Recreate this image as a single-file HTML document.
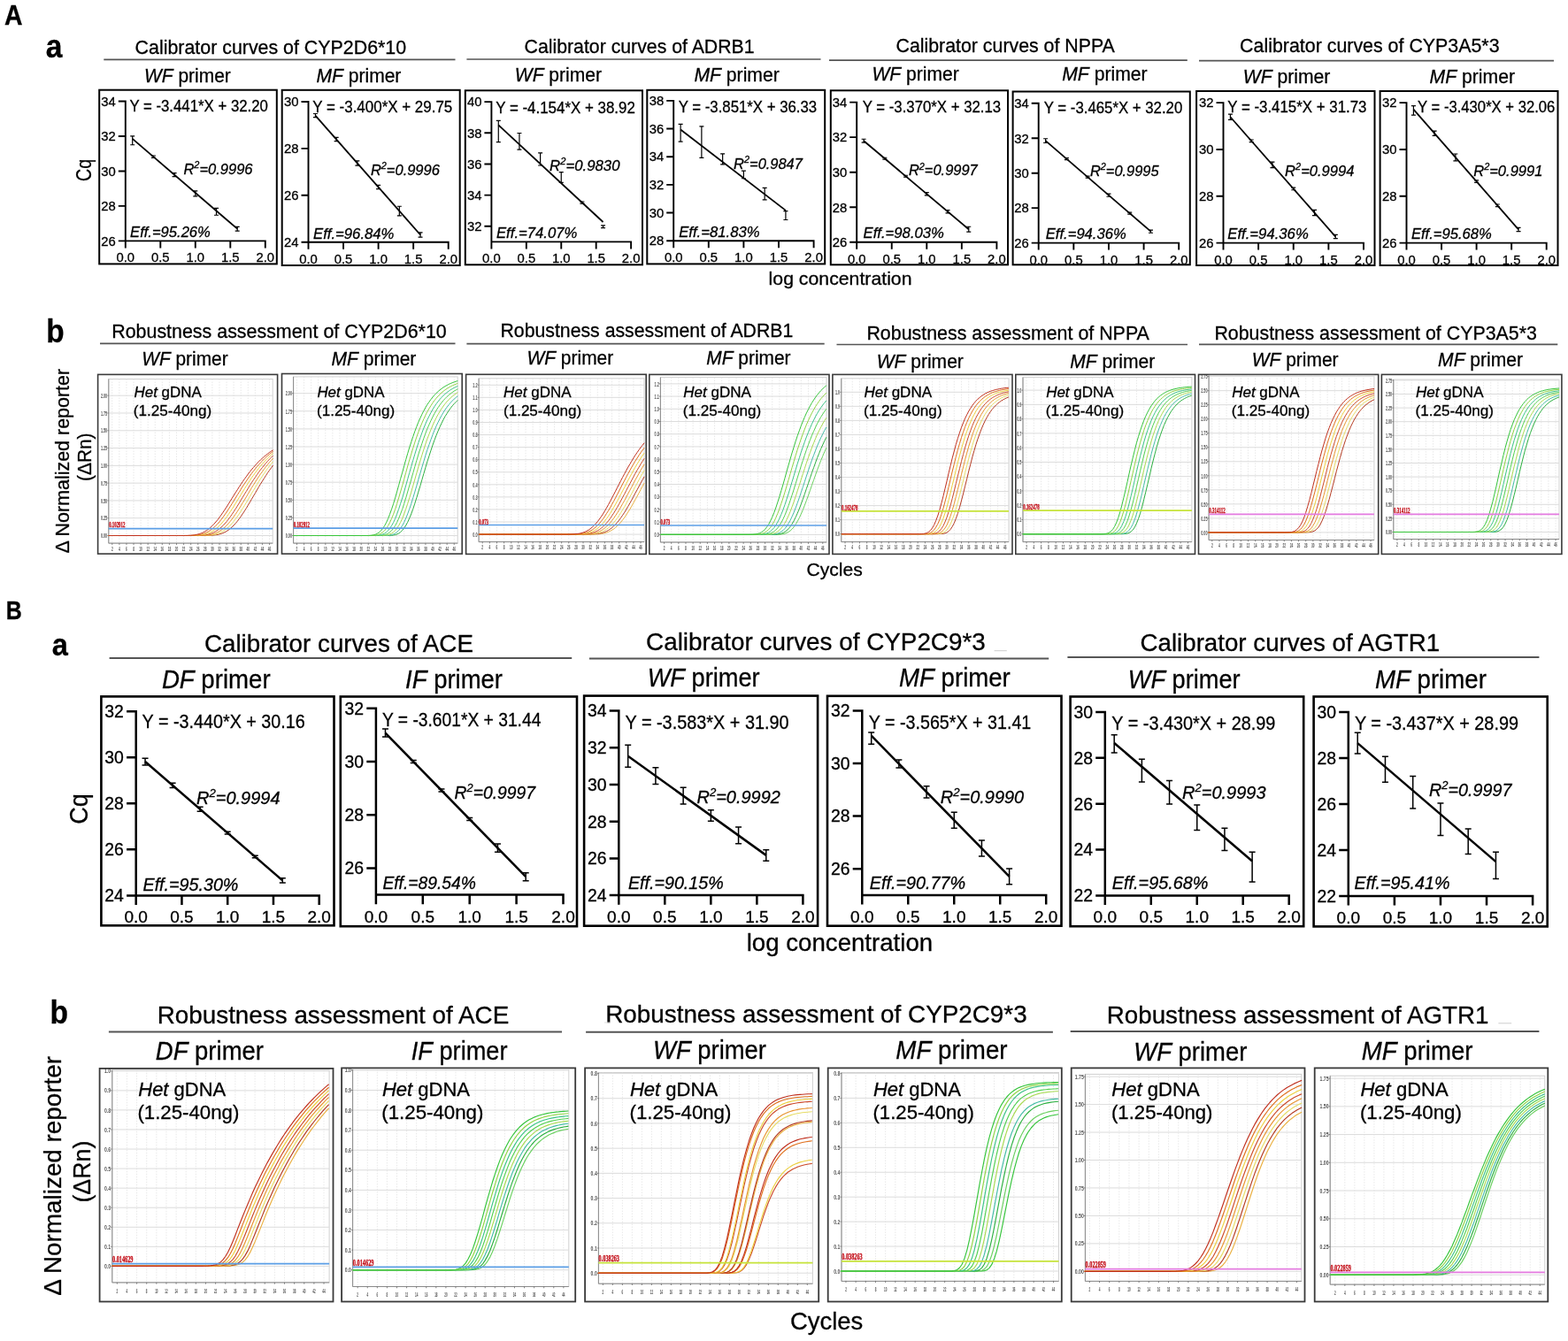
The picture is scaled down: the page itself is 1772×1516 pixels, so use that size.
<!DOCTYPE html>
<html><head><meta charset="utf-8"><title>Calibrator curves and robustness assessment</title>
<style>html,body{margin:0;padding:0;background:#fff;overflow:hidden;width:1772px;height:1516px;}svg{display:block;}text[fill="#000"]{stroke:#000;stroke-width:0.3px;}</style></head>
<body>
<svg width="1772" height="1516" viewBox="0 0 1772 1516" font-family="Liberation Sans, Arial, sans-serif">
<rect width="1772" height="1516" fill="#fff"/>
<text transform="translate(5.10,27.90) scale(0.9303,1)" font-size="30.50" fill="#000"><tspan font-weight="bold">A</tspan></text>
<text transform="translate(51.70,64.60) scale(0.8960,1)" font-size="37.50" fill="#000"><tspan font-weight="bold">a</tspan></text>
<text transform="translate(52.30,386.50) scale(0.9039,1)" font-size="37.00" fill="#000"><tspan font-weight="bold">b</tspan></text>
<text transform="translate(6.80,699.50) scale(0.8360,1)" font-size="29.80" fill="#000"><tspan font-weight="bold">B</tspan></text>
<text transform="translate(58.80,740.80) scale(0.9037,1)" font-size="36.00" fill="#000"><tspan font-weight="bold">a</tspan></text>
<text transform="translate(56.60,1156.60) scale(0.9335,1)" font-size="36.00" fill="#000"><tspan font-weight="bold">b</tspan></text>
<text transform="translate(152.60,60.60) scale(0.9719,1)" font-size="22.00" fill="#000">Calibrator curves of CYP2D6*10</text>
<text transform="translate(592.60,59.60) scale(0.9669,1)" font-size="22.00" fill="#000">Calibrator curves of ADRB1</text>
<text transform="translate(1012.50,59.20) scale(0.9700,1)" font-size="22.00" fill="#000">Calibrator curves of NPPA</text>
<text transform="translate(1401.10,58.70) scale(0.9720,1)" font-size="22.00" fill="#000">Calibrator curves of CYP3A5*3</text>
<line x1="117.3" y1="67.30" x2="514.5" y2="67.30" stroke="#555" stroke-width="1.7"/>
<line x1="527.4" y1="67.00" x2="927.5" y2="67.00" stroke="#555" stroke-width="1.7"/>
<line x1="937.0" y1="68.10" x2="1341.8" y2="68.10" stroke="#555" stroke-width="1.7"/>
<line x1="1355.0" y1="68.70" x2="1756.0" y2="68.70" stroke="#555" stroke-width="1.7"/>
<text transform="translate(163.10,92.70) scale(0.9515,1)" font-size="22.00" fill="#000"><tspan font-style="italic">WF</tspan> primer</text>
<text transform="translate(357.50,92.70) scale(0.9577,1)" font-size="22.00" fill="#000"><tspan font-style="italic">MF</tspan> primer</text>
<text transform="translate(581.80,91.50) scale(0.9564,1)" font-size="22.00" fill="#000"><tspan font-style="italic">WF</tspan> primer</text>
<text transform="translate(784.40,91.50) scale(0.9627,1)" font-size="22.00" fill="#000"><tspan font-style="italic">MF</tspan> primer</text>
<text transform="translate(985.50,90.70) scale(0.9564,1)" font-size="22.00" fill="#000"><tspan font-style="italic">WF</tspan> primer</text>
<text transform="translate(1200.20,90.70) scale(0.9627,1)" font-size="22.00" fill="#000"><tspan font-style="italic">MF</tspan> primer</text>
<text transform="translate(1404.80,93.60) scale(0.9603,1)" font-size="22.00" fill="#000"><tspan font-style="italic">WF</tspan> primer</text>
<text transform="translate(1615.60,93.60) scale(0.9627,1)" font-size="22.00" fill="#000"><tspan font-style="italic">MF</tspan> primer</text>
<text transform="translate(126.20,381.70) scale(0.9738,1)" font-size="22.00" fill="#000">Robustness assessment of CYP2D6*10</text>
<text transform="translate(565.50,380.80) scale(0.9665,1)" font-size="22.00" fill="#000">Robustness assessment of ADRB1</text>
<text transform="translate(979.40,383.90) scale(0.9732,1)" font-size="22.00" fill="#000">Robustness assessment of NPPA</text>
<text transform="translate(1372.40,383.70) scale(0.9714,1)" font-size="22.00" fill="#000">Robustness assessment of CYP3A5*3</text>
<line x1="113.0" y1="388.30" x2="514.5" y2="388.30" stroke="#555" stroke-width="1.7"/>
<line x1="527.4" y1="388.70" x2="931.7" y2="388.70" stroke="#555" stroke-width="1.7"/>
<line x1="945.5" y1="389.50" x2="1342.0" y2="389.50" stroke="#555" stroke-width="1.7"/>
<line x1="1355.0" y1="389.40" x2="1760.3" y2="389.40" stroke="#555" stroke-width="1.7"/>
<text transform="translate(160.20,413.10) scale(0.9496,1)" font-size="22.00" fill="#000"><tspan font-style="italic">WF</tspan> primer</text>
<text transform="translate(374.50,413.10) scale(0.9577,1)" font-size="22.00" fill="#000"><tspan font-style="italic">MF</tspan> primer</text>
<text transform="translate(595.40,412.10) scale(0.9535,1)" font-size="22.00" fill="#000"><tspan font-style="italic">WF</tspan> primer</text>
<text transform="translate(798.30,412.10) scale(0.9507,1)" font-size="22.00" fill="#000"><tspan font-style="italic">MF</tspan> primer</text>
<text transform="translate(990.70,415.50) scale(0.9564,1)" font-size="22.00" fill="#000"><tspan font-style="italic">WF</tspan> primer</text>
<text transform="translate(1209.30,415.50) scale(0.9577,1)" font-size="22.00" fill="#000"><tspan font-style="italic">MF</tspan> primer</text>
<text transform="translate(1414.80,414.40) scale(0.9525,1)" font-size="22.00" fill="#000"><tspan font-style="italic">WF</tspan> primer</text>
<text transform="translate(1625.10,414.40) scale(0.9577,1)" font-size="22.00" fill="#000"><tspan font-style="italic">MF</tspan> primer</text>
<text transform="translate(230.90,737.00) scale(0.9925,1)" font-size="28.00" fill="#000">Calibrator curves of ACE</text>
<text transform="translate(730.10,735.40) scale(0.9949,1)" font-size="28.00" fill="#000">Calibrator curves of CYP2C9*3</text>
<text transform="translate(1288.50,736.10) scale(0.9899,1)" font-size="28.00" fill="#000">Calibrator curves of AGTR1</text>
<line x1="123.6" y1="744.00" x2="646.2" y2="744.00" stroke="#555" stroke-width="2.0"/>
<line x1="665.9" y1="744.50" x2="1185.2" y2="744.50" stroke="#555" stroke-width="2.0"/>
<line x1="1206.4" y1="742.90" x2="1739.4" y2="742.90" stroke="#555" stroke-width="2.0"/>
<line x1="1123.6" y1="735.7" x2="1137.8" y2="735.7" stroke="#ccc" stroke-width="1"/>
<text transform="translate(182.90,778.30) scale(0.9525,1)" font-size="29.00" fill="#000"><tspan font-style="italic">DF</tspan> primer</text>
<text transform="translate(458.10,778.00) scale(0.9471,1)" font-size="29.00" fill="#000"><tspan font-style="italic">IF</tspan> primer</text>
<text transform="translate(731.70,775.90) scale(0.9383,1)" font-size="29.00" fill="#000"><tspan font-style="italic">WF</tspan> primer</text>
<text transform="translate(1016.10,775.90) scale(0.9521,1)" font-size="29.00" fill="#000"><tspan font-style="italic">MF</tspan> primer</text>
<text transform="translate(1274.70,777.80) scale(0.9390,1)" font-size="29.00" fill="#000"><tspan font-style="italic">WF</tspan> primer</text>
<text transform="translate(1553.90,777.80) scale(0.9543,1)" font-size="29.00" fill="#000"><tspan font-style="italic">MF</tspan> primer</text>
<text transform="translate(177.70,1156.60) scale(0.9943,1)" font-size="28.00" fill="#000">Robustness assessment of ACE</text>
<text transform="translate(684.20,1156.30) scale(0.9945,1)" font-size="28.00" fill="#000">Robustness assessment of CYP2C9*3</text>
<text transform="translate(1250.80,1156.80) scale(0.9909,1)" font-size="28.00" fill="#000">Robustness assessment of AGTR1</text>
<line x1="122.9" y1="1166.60" x2="635.0" y2="1166.60" stroke="#555" stroke-width="2.0"/>
<line x1="662.1" y1="1166.80" x2="1189.9" y2="1166.80" stroke="#555" stroke-width="2.0"/>
<line x1="1209.7" y1="1166.00" x2="1739.4" y2="1166.00" stroke="#555" stroke-width="2.0"/>
<line x1="1693.4" y1="1156.8" x2="1708.2" y2="1156.8" stroke="#ccc" stroke-width="1"/>
<line x1="683" y1="1156" x2="690" y2="1156" stroke="#ddd" stroke-width="1"/>
<text transform="translate(175.80,1198.30) scale(0.9479,1)" font-size="29.00" fill="#000"><tspan font-style="italic">DF</tspan> primer</text>
<text transform="translate(464.80,1198.30) scale(0.9376,1)" font-size="29.00" fill="#000"><tspan font-style="italic">IF</tspan> primer</text>
<text transform="translate(738.00,1196.50) scale(0.9457,1)" font-size="29.00" fill="#000"><tspan font-style="italic">WF</tspan> primer</text>
<text transform="translate(1012.30,1196.50) scale(0.9566,1)" font-size="29.00" fill="#000"><tspan font-style="italic">MF</tspan> primer</text>
<text transform="translate(1281.30,1198.80) scale(0.9464,1)" font-size="29.00" fill="#000"><tspan font-style="italic">WF</tspan> primer</text>
<text transform="translate(1538.80,1198.20) scale(0.9513,1)" font-size="29.00" fill="#000"><tspan font-style="italic">MF</tspan> primer</text>
<text transform="translate(102.90,205.00) rotate(-90) scale(0.8542,1)" font-size="23.00" fill="#000">Cq</text>
<text transform="translate(868.60,322.30) scale(1.0127,1)" font-size="21.00" fill="#000">log concentration</text>
<text transform="translate(77.60,625.50) rotate(-90) scale(0.9752,1)" font-size="22.00" fill="#000">Δ Normalized reporter</text>
<text transform="translate(103.40,543.90) rotate(-90) scale(0.9279,1)" font-size="22.40" fill="#000">(ΔRn)</text>
<text transform="translate(911.50,650.70) scale(1.0032,1)" font-size="21.00" fill="#000">Cycles</text>
<text transform="translate(98.60,931.80) rotate(-90) scale(0.9002,1)" font-size="30.00" fill="#000">Cq</text>
<text transform="translate(843.70,1075.00) scale(1.0053,1)" font-size="27.50" fill="#000">log concentration</text>
<text transform="translate(69.00,1464.80) rotate(-90) scale(0.9950,1)" font-size="28.00" fill="#000">Δ Normalized reporter</text>
<text transform="translate(102.40,1359.60) rotate(-90) scale(0.9401,1)" font-size="28.50" fill="#000">(ΔRn)</text>
<text transform="translate(892.90,1503.10) scale(0.9637,1)" font-size="28.50" fill="#000">Cycles</text>
<rect x="112.20" y="101.70" width="200.60" height="196.70" fill="none" stroke="#000" stroke-width="2.0"/>
<path d="M141.80,113.55V272.40M140.85,272.40H300.75M133.80,272.40H141.80M133.80,232.92H141.80M133.80,193.45H141.80M133.80,153.97H141.80M133.80,114.50H141.80M141.80,272.40V280.40M181.30,272.40V280.40M220.80,272.40V280.40M260.30,272.40V280.40M299.80,272.40V280.40" fill="none" stroke="#000" stroke-width="1.9" stroke-linecap="butt"/>
<text transform="translate(114.34,277.65) scale(1.0000,1)" font-size="14.80" fill="#000">26</text>
<text transform="translate(114.34,238.18) scale(1.0000,1)" font-size="14.80" fill="#000">28</text>
<text transform="translate(114.34,198.70) scale(1.0000,1)" font-size="14.80" fill="#000">30</text>
<text transform="translate(114.34,159.23) scale(1.0000,1)" font-size="14.80" fill="#000">32</text>
<text transform="translate(114.34,119.75) scale(1.0000,1)" font-size="14.80" fill="#000">34</text>
<text transform="translate(131.51,296.40) scale(1.0000,1)" font-size="14.80" fill="#000">0.0</text>
<text transform="translate(171.01,296.40) scale(1.0000,1)" font-size="14.80" fill="#000">0.5</text>
<text transform="translate(210.51,296.40) scale(1.0000,1)" font-size="14.80" fill="#000">1.0</text>
<text transform="translate(250.01,296.40) scale(1.0000,1)" font-size="14.80" fill="#000">1.5</text>
<text transform="translate(289.51,296.40) scale(1.0000,1)" font-size="14.80" fill="#000">2.0</text>
<line x1="149.70" y1="156.82" x2="268.20" y2="258.69" stroke="#000" stroke-width="1.8"/>
<path d="M149.70,153.86V163.73M147.20,153.86H152.20M147.20,163.73H152.20M173.40,176.01V178.38M170.90,176.01H175.90M170.90,178.38H175.90M197.10,195.60V199.54M194.60,195.60H199.60M194.60,199.54H199.60M220.80,215.97V221.89M218.30,215.97H223.30M218.30,221.89H223.30M244.50,235.36V243.25M242.00,235.36H247.00M242.00,243.25H247.00M268.20,256.33V261.06M265.70,256.33H270.70M265.70,261.06H270.70" fill="none" stroke="#000" stroke-width="1.2"/>
<text transform="translate(146.40,125.80) scale(0.9599,1)" font-size="17.50" fill="#000">Y = -3.441*X + 32.20</text>
<text transform="translate(207.40,196.80) scale(1.0134,1)" font-size="16.30" fill="#000"><tspan font-style="italic">R</tspan><tspan font-style="italic" font-size="10.76" dy="-6.52">2</tspan><tspan font-style="italic" dy="6.52">=0.9996</tspan></text>
<text transform="translate(147.10,268.20) scale(1.0170,1)" font-size="16.30" fill="#000"><tspan font-style="italic">Eff.=95.26%</tspan></text>
<rect x="318.70" y="101.80" width="201.00" height="198.20" fill="none" stroke="#000" stroke-width="2.0"/>
<path d="M348.50,114.05V273.70M347.55,273.70H507.65M340.50,273.70H348.50M340.50,220.80H348.50M340.50,167.90H348.50M340.50,115.00H348.50M348.50,273.70V281.70M388.05,273.70V281.70M427.60,273.70V281.70M467.15,273.70V281.70M506.70,273.70V281.70" fill="none" stroke="#000" stroke-width="1.9" stroke-linecap="butt"/>
<text transform="translate(321.04,278.95) scale(1.0000,1)" font-size="14.80" fill="#000">24</text>
<text transform="translate(321.04,226.05) scale(1.0000,1)" font-size="14.80" fill="#000">26</text>
<text transform="translate(321.04,173.15) scale(1.0000,1)" font-size="14.80" fill="#000">28</text>
<text transform="translate(321.04,120.25) scale(1.0000,1)" font-size="14.80" fill="#000">30</text>
<text transform="translate(338.21,297.70) scale(1.0000,1)" font-size="14.80" fill="#000">0.0</text>
<text transform="translate(377.76,297.70) scale(1.0000,1)" font-size="14.80" fill="#000">0.5</text>
<text transform="translate(417.31,297.70) scale(1.0000,1)" font-size="14.80" fill="#000">1.0</text>
<text transform="translate(456.86,297.70) scale(1.0000,1)" font-size="14.80" fill="#000">1.5</text>
<text transform="translate(496.41,297.70) scale(1.0000,1)" font-size="14.80" fill="#000">2.0</text>
<line x1="356.41" y1="130.61" x2="475.06" y2="265.50" stroke="#000" stroke-width="1.8"/>
<path d="M356.41,128.49V132.72M353.91,128.49H358.91M353.91,132.72H358.91M380.14,155.47V159.70M377.64,155.47H382.64M377.64,159.70H382.64M403.87,181.92V187.21M401.37,181.92H406.37M401.37,187.21H406.37M427.60,209.43V213.66M425.10,209.43H430.10M425.10,213.66H430.10M451.33,233.23V243.81M448.83,233.23H453.83M448.83,243.81H453.83M475.06,262.86V268.15M472.56,262.86H477.56M472.56,268.15H477.56" fill="none" stroke="#000" stroke-width="1.2"/>
<text transform="translate(353.30,126.60) scale(0.9685,1)" font-size="17.50" fill="#000">Y = -3.400*X + 29.75</text>
<text transform="translate(418.90,197.50) scale(1.0121,1)" font-size="16.30" fill="#000"><tspan font-style="italic">R</tspan><tspan font-style="italic" font-size="10.76" dy="-6.52">2</tspan><tspan font-style="italic" dy="6.52">=0.9996</tspan></text>
<text transform="translate(354.00,269.60) scale(1.0248,1)" font-size="16.30" fill="#000"><tspan font-style="italic">Eff.=96.84%</tspan></text>
<rect x="525.80" y="102.30" width="200.20" height="197.00" fill="none" stroke="#000" stroke-width="2.0"/>
<path d="M555.40,114.15V273.40M554.45,273.40H714.05M547.40,255.81H555.40M547.40,220.63H555.40M547.40,185.46H555.40M547.40,150.28H555.40M547.40,115.10H555.40M555.40,273.40V281.40M594.83,273.40V281.40M634.25,273.40V281.40M673.67,273.40V281.40M713.10,273.40V281.40" fill="none" stroke="#000" stroke-width="1.9" stroke-linecap="butt"/>
<text transform="translate(527.93,261.07) scale(1.0000,1)" font-size="14.80" fill="#000">32</text>
<text transform="translate(527.93,225.89) scale(1.0000,1)" font-size="14.80" fill="#000">34</text>
<text transform="translate(527.93,190.71) scale(1.0000,1)" font-size="14.80" fill="#000">36</text>
<text transform="translate(527.93,155.53) scale(1.0000,1)" font-size="14.80" fill="#000">38</text>
<text transform="translate(527.93,120.35) scale(1.0000,1)" font-size="14.80" fill="#000">40</text>
<text transform="translate(545.11,297.40) scale(1.0000,1)" font-size="14.80" fill="#000">0.0</text>
<text transform="translate(584.54,297.40) scale(1.0000,1)" font-size="14.80" fill="#000">0.5</text>
<text transform="translate(623.96,297.40) scale(1.0000,1)" font-size="14.80" fill="#000">1.0</text>
<text transform="translate(663.39,297.40) scale(1.0000,1)" font-size="14.80" fill="#000">1.5</text>
<text transform="translate(702.81,297.40) scale(1.0000,1)" font-size="14.80" fill="#000">2.0</text>
<line x1="563.28" y1="141.40" x2="681.56" y2="251.00" stroke="#000" stroke-width="1.8"/>
<path d="M563.28,136.30V160.57M560.78,136.30H565.78M560.78,160.57H565.78M586.94,150.48V169.13M584.44,150.48H589.44M584.44,169.13H589.44M610.60,172.93V187.00M608.10,172.93H613.10M608.10,187.00H613.10M634.25,194.67V206.28M631.75,194.67H636.75M631.75,206.28H636.75M657.90,228.02V230.13M655.40,228.02H660.40M655.40,230.13H660.40M681.56,254.87V257.68M679.06,254.87H684.06M679.06,257.68H684.06" fill="none" stroke="#000" stroke-width="1.2"/>
<text transform="translate(560.20,127.80) scale(0.9672,1)" font-size="17.50" fill="#000">Y = -4.154*X + 38.92</text>
<text transform="translate(621.10,192.60) scale(1.0295,1)" font-size="16.30" fill="#000"><tspan font-style="italic">R</tspan><tspan font-style="italic" font-size="10.76" dy="-6.52">2</tspan><tspan font-style="italic" dy="6.52">=0.9830</tspan></text>
<text transform="translate(561.00,269.20) scale(1.0237,1)" font-size="16.30" fill="#000"><tspan font-style="italic">Eff.=74.07%</tspan></text>
<rect x="731.30" y="101.80" width="200.90" height="196.60" fill="none" stroke="#000" stroke-width="2.0"/>
<path d="M761.20,112.95V272.20M760.25,272.20H920.55M753.20,272.20H761.20M753.20,240.54H761.20M753.20,208.88H761.20M753.20,177.22H761.20M753.20,145.56H761.20M753.20,113.90H761.20M761.20,272.20V280.20M800.80,272.20V280.20M840.40,272.20V280.20M880.00,272.20V280.20M919.60,272.20V280.20" fill="none" stroke="#000" stroke-width="1.9" stroke-linecap="butt"/>
<text transform="translate(733.74,277.45) scale(1.0000,1)" font-size="14.80" fill="#000">28</text>
<text transform="translate(733.74,245.79) scale(1.0000,1)" font-size="14.80" fill="#000">30</text>
<text transform="translate(733.74,214.13) scale(1.0000,1)" font-size="14.80" fill="#000">32</text>
<text transform="translate(733.74,182.47) scale(1.0000,1)" font-size="14.80" fill="#000">34</text>
<text transform="translate(733.74,150.81) scale(1.0000,1)" font-size="14.80" fill="#000">36</text>
<text transform="translate(733.74,119.15) scale(1.0000,1)" font-size="14.80" fill="#000">38</text>
<text transform="translate(750.91,296.20) scale(1.0000,1)" font-size="14.80" fill="#000">0.0</text>
<text transform="translate(790.51,296.20) scale(1.0000,1)" font-size="14.80" fill="#000">0.5</text>
<text transform="translate(830.11,296.20) scale(1.0000,1)" font-size="14.80" fill="#000">1.0</text>
<text transform="translate(869.71,296.20) scale(1.0000,1)" font-size="14.80" fill="#000">1.5</text>
<text transform="translate(909.31,296.20) scale(1.0000,1)" font-size="14.80" fill="#000">2.0</text>
<line x1="769.12" y1="146.43" x2="887.92" y2="237.87" stroke="#000" stroke-width="1.8"/>
<path d="M769.12,140.42V160.05M766.62,140.42H771.62M766.62,160.05H771.62M792.88,142.88V178.33M790.38,142.88H795.38M790.38,178.33H795.38M816.64,173.83V185.86M814.14,173.83H819.14M814.14,185.86H819.14M840.40,193.22V201.77M837.90,193.22H842.90M837.90,201.77H842.90M864.16,212.30V225.92M861.66,212.30H866.66M861.66,225.92H866.66M887.92,238.67V248.48M885.42,238.67H890.42M885.42,248.48H890.42" fill="none" stroke="#000" stroke-width="1.2"/>
<text transform="translate(766.80,127.00) scale(0.9593,1)" font-size="17.50" fill="#000">Y = -3.851*X + 36.33</text>
<text transform="translate(829.10,190.90) scale(1.0096,1)" font-size="16.30" fill="#000"><tspan font-style="italic">R</tspan><tspan font-style="italic" font-size="10.76" dy="-6.52">2</tspan><tspan font-style="italic" dy="6.52">=0.9847</tspan></text>
<text transform="translate(767.20,268.00) scale(1.0248,1)" font-size="16.30" fill="#000"><tspan font-style="italic">Eff.=81.83%</tspan></text>
<rect x="938.80" y="102.30" width="200.20" height="197.00" fill="none" stroke="#000" stroke-width="2.0"/>
<path d="M968.20,114.65V273.80M967.25,273.80H1127.35M960.20,273.80H968.20M960.20,234.25H968.20M960.20,194.70H968.20M960.20,155.15H968.20M960.20,115.60H968.20M968.20,273.80V281.80M1007.75,273.80V281.80M1047.30,273.80V281.80M1086.85,273.80V281.80M1126.40,273.80V281.80" fill="none" stroke="#000" stroke-width="1.9" stroke-linecap="butt"/>
<text transform="translate(940.74,279.05) scale(1.0000,1)" font-size="14.80" fill="#000">26</text>
<text transform="translate(940.74,239.50) scale(1.0000,1)" font-size="14.80" fill="#000">28</text>
<text transform="translate(940.74,199.95) scale(1.0000,1)" font-size="14.80" fill="#000">30</text>
<text transform="translate(940.74,160.40) scale(1.0000,1)" font-size="14.80" fill="#000">32</text>
<text transform="translate(940.74,120.85) scale(1.0000,1)" font-size="14.80" fill="#000">34</text>
<text transform="translate(957.91,297.80) scale(1.0000,1)" font-size="14.80" fill="#000">0.0</text>
<text transform="translate(997.46,297.80) scale(1.0000,1)" font-size="14.80" fill="#000">0.5</text>
<text transform="translate(1037.01,297.80) scale(1.0000,1)" font-size="14.80" fill="#000">1.0</text>
<text transform="translate(1076.56,297.80) scale(1.0000,1)" font-size="14.80" fill="#000">1.5</text>
<text transform="translate(1116.11,297.80) scale(1.0000,1)" font-size="14.80" fill="#000">2.0</text>
<line x1="976.11" y1="159.24" x2="1094.76" y2="259.21" stroke="#000" stroke-width="1.8"/>
<path d="M976.11,157.27V161.22M973.61,157.27H978.61M973.61,161.22H978.61M999.84,178.25V180.22M997.34,178.25H1002.34M997.34,180.22H1002.34M1023.57,198.24V200.22M1021.07,198.24H1026.07M1021.07,200.22H1026.07M1047.30,217.64V220.80M1044.80,217.64H1049.80M1044.80,220.80H1049.80M1071.03,237.63V240.80M1068.53,237.63H1073.53M1068.53,240.80H1073.53M1094.76,256.24V262.17M1092.26,256.24H1097.26M1092.26,262.17H1097.26" fill="none" stroke="#000" stroke-width="1.2"/>
<text transform="translate(974.80,127.00) scale(0.9593,1)" font-size="17.50" fill="#000">Y = -3.370*X + 32.13</text>
<text transform="translate(1026.90,198.20) scale(1.0096,1)" font-size="16.30" fill="#000"><tspan font-style="italic">R</tspan><tspan font-style="italic" font-size="10.76" dy="-6.52">2</tspan><tspan font-style="italic" dy="6.52">=0.9997</tspan></text>
<text transform="translate(975.50,269.20) scale(1.0248,1)" font-size="16.30" fill="#000"><tspan font-style="italic">Eff.=98.03%</tspan></text>
<rect x="1144.60" y="103.50" width="200.20" height="195.80" fill="none" stroke="#000" stroke-width="2.0"/>
<path d="M1173.70,115.85V274.60M1172.75,274.60H1333.15M1165.70,274.60H1173.70M1165.70,235.15H1173.70M1165.70,195.70H1173.70M1165.70,156.25H1173.70M1165.70,116.80H1173.70M1173.70,274.60V282.60M1213.33,274.60V282.60M1252.95,274.60V282.60M1292.58,274.60V282.60M1332.20,274.60V282.60" fill="none" stroke="#000" stroke-width="1.9" stroke-linecap="butt"/>
<text transform="translate(1146.24,279.85) scale(1.0000,1)" font-size="14.80" fill="#000">26</text>
<text transform="translate(1146.24,240.40) scale(1.0000,1)" font-size="14.80" fill="#000">28</text>
<text transform="translate(1146.24,200.95) scale(1.0000,1)" font-size="14.80" fill="#000">30</text>
<text transform="translate(1146.24,161.50) scale(1.0000,1)" font-size="14.80" fill="#000">32</text>
<text transform="translate(1146.24,122.05) scale(1.0000,1)" font-size="14.80" fill="#000">34</text>
<text transform="translate(1163.41,298.60) scale(1.0000,1)" font-size="14.80" fill="#000">0.0</text>
<text transform="translate(1203.04,298.60) scale(1.0000,1)" font-size="14.80" fill="#000">0.5</text>
<text transform="translate(1242.66,298.60) scale(1.0000,1)" font-size="14.80" fill="#000">1.0</text>
<text transform="translate(1282.29,298.60) scale(1.0000,1)" font-size="14.80" fill="#000">1.5</text>
<text transform="translate(1321.91,298.60) scale(1.0000,1)" font-size="14.80" fill="#000">2.0</text>
<line x1="1181.62" y1="159.14" x2="1300.50" y2="261.66" stroke="#000" stroke-width="1.8"/>
<path d="M1181.62,156.77V161.51M1179.12,156.77H1184.12M1179.12,161.51H1184.12M1205.40,178.66V180.63M1202.90,178.66H1207.90M1202.90,180.63H1207.90M1229.17,199.16V201.13M1226.67,199.16H1231.67M1226.67,201.13H1231.67M1252.95,219.07V222.23M1250.45,219.07H1255.45M1250.45,222.23H1255.45M1276.73,240.17V242.14M1274.23,240.17H1279.23M1274.23,242.14H1279.23M1300.50,260.08V263.24M1298.00,260.08H1303.00M1298.00,263.24H1303.00" fill="none" stroke="#000" stroke-width="1.2"/>
<text transform="translate(1179.80,128.30) scale(0.9599,1)" font-size="17.50" fill="#000">Y = -3.465*X + 32.20</text>
<text transform="translate(1232.00,198.90) scale(1.0064,1)" font-size="16.30" fill="#000"><tspan font-style="italic">R</tspan><tspan font-style="italic" font-size="10.76" dy="-6.52">2</tspan><tspan font-style="italic" dy="6.52">=0.9995</tspan></text>
<text transform="translate(1181.80,269.80) scale(1.0192,1)" font-size="16.30" fill="#000"><tspan font-style="italic">Eff.=94.36%</tspan></text>
<rect x="1352.10" y="103.00" width="201.40" height="197.00" fill="none" stroke="#000" stroke-width="2.0"/>
<path d="M1382.50,115.15V274.60M1381.55,274.60H1541.95M1374.50,274.60H1382.50M1374.50,221.77H1382.50M1374.50,168.93H1382.50M1374.50,116.10H1382.50M1382.50,274.60V282.60M1422.12,274.60V282.60M1461.75,274.60V282.60M1501.38,274.60V282.60M1541.00,274.60V282.60" fill="none" stroke="#000" stroke-width="1.9" stroke-linecap="butt"/>
<text transform="translate(1355.04,279.85) scale(1.0000,1)" font-size="14.80" fill="#000">26</text>
<text transform="translate(1355.04,227.02) scale(1.0000,1)" font-size="14.80" fill="#000">28</text>
<text transform="translate(1355.04,174.19) scale(1.0000,1)" font-size="14.80" fill="#000">30</text>
<text transform="translate(1355.04,121.35) scale(1.0000,1)" font-size="14.80" fill="#000">32</text>
<text transform="translate(1372.21,298.60) scale(1.0000,1)" font-size="14.80" fill="#000">0.0</text>
<text transform="translate(1411.84,298.60) scale(1.0000,1)" font-size="14.80" fill="#000">0.5</text>
<text transform="translate(1451.46,298.60) scale(1.0000,1)" font-size="14.80" fill="#000">1.0</text>
<text transform="translate(1491.09,298.60) scale(1.0000,1)" font-size="14.80" fill="#000">1.5</text>
<text transform="translate(1530.71,298.60) scale(1.0000,1)" font-size="14.80" fill="#000">2.0</text>
<line x1="1390.42" y1="132.25" x2="1509.30" y2="267.57" stroke="#000" stroke-width="1.8"/>
<path d="M1390.42,129.08V135.42M1387.92,129.08H1392.92M1387.92,135.42H1392.92M1414.20,158.00V160.64M1411.70,158.00H1416.70M1411.70,160.64H1416.70M1437.97,183.21V189.55M1435.47,183.21H1440.47M1435.47,189.55H1440.47M1461.75,212.12V214.77M1459.25,212.12H1464.25M1459.25,214.77H1464.25M1485.53,237.34V243.68M1483.03,237.34H1488.03M1483.03,243.68H1488.03M1509.30,265.46V269.69M1506.80,265.46H1511.80M1506.80,269.69H1511.80" fill="none" stroke="#000" stroke-width="1.2"/>
<text transform="translate(1387.30,127.00) scale(0.9642,1)" font-size="17.50" fill="#000">Y = -3.415*X + 31.73</text>
<text transform="translate(1452.10,198.90) scale(1.0165,1)" font-size="16.30" fill="#000"><tspan font-style="italic">R</tspan><tspan font-style="italic" font-size="10.76" dy="-6.52">2</tspan><tspan font-style="italic" dy="6.52">=0.9994</tspan></text>
<text transform="translate(1387.30,269.80) scale(1.0248,1)" font-size="16.30" fill="#000"><tspan font-style="italic">Eff.=94.36%</tspan></text>
<rect x="1559.60" y="103.00" width="200.90" height="197.00" fill="none" stroke="#000" stroke-width="2.0"/>
<path d="M1589.50,115.15V274.60M1588.55,274.60H1748.65M1581.50,274.60H1589.50M1581.50,221.77H1589.50M1581.50,168.93H1589.50M1581.50,116.10H1589.50M1589.50,274.60V282.60M1629.05,274.60V282.60M1668.60,274.60V282.60M1708.15,274.60V282.60M1747.70,274.60V282.60" fill="none" stroke="#000" stroke-width="1.9" stroke-linecap="butt"/>
<text transform="translate(1562.04,279.85) scale(1.0000,1)" font-size="14.80" fill="#000">26</text>
<text transform="translate(1562.04,227.02) scale(1.0000,1)" font-size="14.80" fill="#000">28</text>
<text transform="translate(1562.04,174.19) scale(1.0000,1)" font-size="14.80" fill="#000">30</text>
<text transform="translate(1562.04,121.35) scale(1.0000,1)" font-size="14.80" fill="#000">32</text>
<text transform="translate(1579.21,298.60) scale(1.0000,1)" font-size="14.80" fill="#000">0.0</text>
<text transform="translate(1618.76,298.60) scale(1.0000,1)" font-size="14.80" fill="#000">0.5</text>
<text transform="translate(1658.31,298.60) scale(1.0000,1)" font-size="14.80" fill="#000">1.0</text>
<text transform="translate(1697.86,298.60) scale(1.0000,1)" font-size="14.80" fill="#000">1.5</text>
<text transform="translate(1737.41,298.60) scale(1.0000,1)" font-size="14.80" fill="#000">2.0</text>
<line x1="1597.41" y1="123.58" x2="1716.06" y2="259.49" stroke="#000" stroke-width="1.8"/>
<path d="M1597.41,119.61V130.18M1594.91,119.61H1599.91M1594.91,130.18H1599.91M1621.14,148.12V153.40M1618.64,148.12H1623.64M1618.64,153.40H1623.64M1644.87,173.98V181.90M1642.37,173.98H1647.37M1642.37,181.90H1647.37M1668.60,203.80V206.44M1666.10,203.80H1671.10M1666.10,206.44H1671.10M1692.33,230.99V233.63M1689.83,230.99H1694.83M1689.83,233.63H1694.83M1716.06,257.38V261.60M1713.56,257.38H1718.56M1713.56,261.60H1718.56" fill="none" stroke="#000" stroke-width="1.2"/>
<text transform="translate(1602.10,126.60) scale(0.9525,1)" font-size="17.50" fill="#000">Y = -3.430*X + 32.06</text>
<text transform="translate(1665.20,198.90) scale(1.0139,1)" font-size="16.30" fill="#000"><tspan font-style="italic">R</tspan><tspan font-style="italic" font-size="10.76" dy="-6.52">2</tspan><tspan font-style="italic" dy="6.52">=0.9991</tspan></text>
<text transform="translate(1594.90,269.80) scale(1.0192,1)" font-size="16.30" fill="#000"><tspan font-style="italic">Eff.=95.68%</tspan></text>
<rect x="114.40" y="787.40" width="263.10" height="258.90" fill="none" stroke="#000" stroke-width="2.6"/>
<path d="M153.70,802.95V1012.40M152.45,1012.40H361.95M143.10,1012.40H153.70M143.10,960.35H153.70M143.10,908.30H153.70M143.10,856.25H153.70M143.10,804.20H153.70M153.70,1012.40V1023.00M205.45,1012.40V1023.00M257.20,1012.40V1023.00M308.95,1012.40V1023.00M360.70,1012.40V1023.00" fill="none" stroke="#000" stroke-width="2.5" stroke-linecap="butt"/>
<text transform="translate(118.32,1019.29) scale(1.0000,1)" font-size="19.40" fill="#000">24</text>
<text transform="translate(118.32,967.24) scale(1.0000,1)" font-size="19.40" fill="#000">26</text>
<text transform="translate(118.32,915.19) scale(1.0000,1)" font-size="19.40" fill="#000">28</text>
<text transform="translate(118.32,863.14) scale(1.0000,1)" font-size="19.40" fill="#000">30</text>
<text transform="translate(118.32,811.09) scale(1.0000,1)" font-size="19.40" fill="#000">32</text>
<text transform="translate(140.50,1043.30) scale(1.0000,1)" font-size="19.00" fill="#000">0.0</text>
<text transform="translate(192.25,1043.30) scale(1.0000,1)" font-size="19.00" fill="#000">0.5</text>
<text transform="translate(244.00,1043.30) scale(1.0000,1)" font-size="19.00" fill="#000">1.0</text>
<text transform="translate(295.75,1043.30) scale(1.0000,1)" font-size="19.00" fill="#000">1.5</text>
<text transform="translate(347.50,1043.30) scale(1.0000,1)" font-size="19.00" fill="#000">2.0</text>
<line x1="164.05" y1="861.04" x2="319.30" y2="995.33" stroke="#000" stroke-width="2.5"/>
<path d="M164.05,857.13V864.94M160.55,857.13H167.55M160.55,864.94H167.55M195.10,885.29V890.50M191.60,885.29H198.60M191.60,890.50H198.60M226.15,912.15V917.36M222.65,912.15H229.65M222.65,917.36H229.65M257.20,940.31V942.91M253.70,940.31H260.70M253.70,942.91H260.70M288.25,967.17V969.77M284.75,967.17H291.75M284.75,969.77H291.75M319.30,992.73V997.93M315.80,992.73H322.80M315.80,997.93H322.80" fill="none" stroke="#000" stroke-width="1.5"/>
<text transform="translate(160.60,822.80) scale(0.9195,1)" font-size="21.50" fill="#000">Y = -3.440*X + 30.16</text>
<text transform="translate(222.00,908.50) scale(0.9996,1)" font-size="20.00" fill="#000"><tspan font-style="italic">R</tspan><tspan font-style="italic" font-size="13.20" dy="-8.00">2</tspan><tspan font-style="italic" dy="8.00">=0.9994</tspan></text>
<text transform="translate(161.50,1007.20) scale(0.9859,1)" font-size="20.00" fill="#000"><tspan font-style="italic">Eff.=95.30%</tspan></text>
<rect x="384.80" y="787.50" width="267.20" height="259.70" fill="none" stroke="#000" stroke-width="2.6"/>
<path d="M424.90,799.55V1011.60M423.65,1011.60H637.75M414.30,981.49H424.90M414.30,921.26H424.90M414.30,861.03H424.90M414.30,800.80H424.90M424.90,1011.60V1022.20M477.80,1011.60V1022.20M530.70,1011.60V1022.20M583.60,1011.60V1022.20M636.50,1011.60V1022.20" fill="none" stroke="#000" stroke-width="2.5" stroke-linecap="butt"/>
<text transform="translate(389.52,988.37) scale(1.0000,1)" font-size="19.40" fill="#000">26</text>
<text transform="translate(389.52,928.14) scale(1.0000,1)" font-size="19.40" fill="#000">28</text>
<text transform="translate(389.52,867.92) scale(1.0000,1)" font-size="19.40" fill="#000">30</text>
<text transform="translate(389.52,807.69) scale(1.0000,1)" font-size="19.40" fill="#000">32</text>
<text transform="translate(411.69,1042.50) scale(1.0000,1)" font-size="19.00" fill="#000">0.0</text>
<text transform="translate(464.59,1042.50) scale(1.0000,1)" font-size="19.00" fill="#000">0.5</text>
<text transform="translate(517.50,1042.50) scale(1.0000,1)" font-size="19.00" fill="#000">1.0</text>
<text transform="translate(570.39,1042.50) scale(1.0000,1)" font-size="19.00" fill="#000">1.5</text>
<text transform="translate(623.29,1042.50) scale(1.0000,1)" font-size="19.00" fill="#000">2.0</text>
<line x1="435.48" y1="828.51" x2="594.18" y2="991.17" stroke="#000" stroke-width="2.5"/>
<path d="M435.48,823.99V833.03M431.98,823.99H438.98M431.98,833.03H438.98M467.22,859.53V862.55M463.72,859.53H470.72M463.72,862.55H470.72M498.96,892.07V895.08M495.46,892.07H502.46M495.46,895.08H502.46M530.70,924.60V927.61M527.20,924.60H534.20M527.20,927.61H534.20M562.44,954.12V963.16M558.94,954.12H565.94M558.94,963.16H565.94M594.18,986.65V995.69M590.68,986.65H597.68M590.68,995.69H597.68" fill="none" stroke="#000" stroke-width="1.5"/>
<text transform="translate(432.00,820.60) scale(0.8956,1)" font-size="21.50" fill="#000">Y = -3.601*X + 31.44</text>
<text transform="translate(513.60,902.50) scale(0.9666,1)" font-size="20.00" fill="#000"><tspan font-style="italic">R</tspan><tspan font-style="italic" font-size="13.20" dy="-8.00">2</tspan><tspan font-style="italic" dy="8.00">=0.9997</tspan></text>
<text transform="translate(432.40,1004.80) scale(0.9639,1)" font-size="20.00" fill="#000"><tspan font-style="italic">Eff.=89.54%</tspan></text>
<rect x="660.10" y="786.60" width="264.00" height="260.10" fill="none" stroke="#000" stroke-width="2.6"/>
<path d="M699.30,802.25V1012.10M698.05,1012.10H908.65M688.70,1012.10H699.30M688.70,970.38H699.30M688.70,928.66H699.30M688.70,886.94H699.30M688.70,845.22H699.30M688.70,803.50H699.30M699.30,1012.10V1022.70M751.32,1012.10V1022.70M803.35,1012.10V1022.70M855.38,1012.10V1022.70M907.40,1012.10V1022.70" fill="none" stroke="#000" stroke-width="2.5" stroke-linecap="butt"/>
<text transform="translate(663.92,1018.99) scale(1.0000,1)" font-size="19.40" fill="#000">24</text>
<text transform="translate(663.92,977.27) scale(1.0000,1)" font-size="19.40" fill="#000">26</text>
<text transform="translate(663.92,935.55) scale(1.0000,1)" font-size="19.40" fill="#000">28</text>
<text transform="translate(663.92,893.83) scale(1.0000,1)" font-size="19.40" fill="#000">30</text>
<text transform="translate(663.92,852.11) scale(1.0000,1)" font-size="19.40" fill="#000">32</text>
<text transform="translate(663.92,810.39) scale(1.0000,1)" font-size="19.40" fill="#000">34</text>
<text transform="translate(686.09,1043.00) scale(1.0000,1)" font-size="19.00" fill="#000">0.0</text>
<text transform="translate(738.12,1043.00) scale(1.0000,1)" font-size="19.00" fill="#000">0.5</text>
<text transform="translate(790.14,1043.00) scale(1.0000,1)" font-size="19.00" fill="#000">1.0</text>
<text transform="translate(842.17,1043.00) scale(1.0000,1)" font-size="19.00" fill="#000">1.5</text>
<text transform="translate(894.19,1043.00) scale(1.0000,1)" font-size="19.00" fill="#000">2.0</text>
<line x1="709.70" y1="854.78" x2="865.78" y2="966.89" stroke="#000" stroke-width="2.5"/>
<path d="M709.70,842.26V867.30M706.20,842.26H713.20M706.20,867.30H713.20M740.92,867.82V886.59M737.42,867.82H744.42M737.42,886.59H744.42M772.13,890.24V909.01M768.63,890.24H775.63M768.63,909.01H775.63M803.35,915.79V928.31M799.85,915.79H806.85M799.85,928.31H806.85M834.56,935.08V953.86M831.06,935.08H838.06M831.06,953.86H838.06M865.78,960.63V973.15M862.28,960.63H869.28M862.28,973.15H869.28" fill="none" stroke="#000" stroke-width="1.5"/>
<text transform="translate(706.50,823.60) scale(0.9240,1)" font-size="21.50" fill="#000">Y = -3.583*X + 31.90</text>
<text transform="translate(787.50,907.90) scale(0.9975,1)" font-size="20.00" fill="#000"><tspan font-style="italic">R</tspan><tspan font-style="italic" font-size="13.20" dy="-8.00">2</tspan><tspan font-style="italic" dy="8.00">=0.9992</tspan></text>
<text transform="translate(710.00,1004.80) scale(0.9840,1)" font-size="20.00" fill="#000"><tspan font-style="italic">Eff.=90.15%</tspan></text>
<rect x="935.00" y="786.80" width="264.50" height="259.90" fill="none" stroke="#000" stroke-width="2.6"/>
<path d="M974.30,802.25V1011.90M973.05,1011.90H1183.45M963.70,982.13H974.30M963.70,922.59H974.30M963.70,863.04H974.30M963.70,803.50H974.30M974.30,1011.90V1022.50M1026.28,1011.90V1022.50M1078.25,1011.90V1022.50M1130.22,1011.90V1022.50M1182.20,1011.90V1022.50" fill="none" stroke="#000" stroke-width="2.5" stroke-linecap="butt"/>
<text transform="translate(938.92,989.02) scale(1.0000,1)" font-size="19.40" fill="#000">26</text>
<text transform="translate(938.92,929.47) scale(1.0000,1)" font-size="19.40" fill="#000">28</text>
<text transform="translate(938.92,869.93) scale(1.0000,1)" font-size="19.40" fill="#000">30</text>
<text transform="translate(938.92,810.39) scale(1.0000,1)" font-size="19.40" fill="#000">32</text>
<text transform="translate(961.09,1042.80) scale(1.0000,1)" font-size="19.00" fill="#000">0.0</text>
<text transform="translate(1013.07,1042.80) scale(1.0000,1)" font-size="19.00" fill="#000">0.5</text>
<text transform="translate(1065.05,1042.80) scale(1.0000,1)" font-size="19.00" fill="#000">1.0</text>
<text transform="translate(1117.02,1042.80) scale(1.0000,1)" font-size="19.00" fill="#000">1.5</text>
<text transform="translate(1169.00,1042.80) scale(1.0000,1)" font-size="19.00" fill="#000">2.0</text>
<line x1="984.69" y1="831.68" x2="1140.62" y2="990.88" stroke="#000" stroke-width="2.5"/>
<path d="M984.69,828.11V841.21M981.19,828.11H988.19M981.19,841.21H988.19M1015.88,859.05V867.98M1012.38,859.05H1019.38M1012.38,867.98H1019.38M1047.07,888.81V901.91M1043.57,888.81H1050.57M1043.57,901.91H1050.57M1078.25,918.27V936.13M1074.75,918.27H1081.75M1074.75,936.13H1081.75M1109.43,950.11V967.97M1105.93,950.11H1112.93M1105.93,967.97H1112.93M1140.62,981.95V999.81M1137.12,981.95H1144.12M1137.12,999.81H1144.12" fill="none" stroke="#000" stroke-width="1.5"/>
<text transform="translate(981.80,823.60) scale(0.9155,1)" font-size="21.50" fill="#000">Y = -3.565*X + 31.41</text>
<text transform="translate(1062.80,908.30) scale(0.9975,1)" font-size="20.00" fill="#000"><tspan font-style="italic">R</tspan><tspan font-style="italic" font-size="13.20" dy="-8.00">2</tspan><tspan font-style="italic" dy="8.00">=0.9990</tspan></text>
<text transform="translate(982.70,1004.80) scale(0.9913,1)" font-size="20.00" fill="#000"><tspan font-style="italic">Eff.=90.77%</tspan></text>
<rect x="1209.60" y="787.50" width="263.60" height="259.70" fill="none" stroke="#000" stroke-width="2.6"/>
<path d="M1248.80,803.65V1012.50M1247.55,1012.50H1457.95M1238.20,1012.50H1248.80M1238.20,960.60H1248.80M1238.20,908.70H1248.80M1238.20,856.80H1248.80M1238.20,804.90H1248.80M1248.80,1012.50V1023.10M1300.78,1012.50V1023.10M1352.75,1012.50V1023.10M1404.72,1012.50V1023.10M1456.70,1012.50V1023.10" fill="none" stroke="#000" stroke-width="2.5" stroke-linecap="butt"/>
<text transform="translate(1213.42,1019.39) scale(1.0000,1)" font-size="19.40" fill="#000">22</text>
<text transform="translate(1213.42,967.49) scale(1.0000,1)" font-size="19.40" fill="#000">24</text>
<text transform="translate(1213.42,915.59) scale(1.0000,1)" font-size="19.40" fill="#000">26</text>
<text transform="translate(1213.42,863.69) scale(1.0000,1)" font-size="19.40" fill="#000">28</text>
<text transform="translate(1213.42,811.79) scale(1.0000,1)" font-size="19.40" fill="#000">30</text>
<text transform="translate(1235.60,1043.40) scale(1.0000,1)" font-size="19.00" fill="#000">0.0</text>
<text transform="translate(1287.57,1043.40) scale(1.0000,1)" font-size="19.00" fill="#000">0.5</text>
<text transform="translate(1339.55,1043.40) scale(1.0000,1)" font-size="19.00" fill="#000">1.0</text>
<text transform="translate(1391.52,1043.40) scale(1.0000,1)" font-size="19.00" fill="#000">1.5</text>
<text transform="translate(1443.50,1043.40) scale(1.0000,1)" font-size="19.00" fill="#000">2.0</text>
<line x1="1259.19" y1="840.01" x2="1415.12" y2="973.52" stroke="#000" stroke-width="2.5"/>
<path d="M1259.19,830.67V850.91M1255.69,830.67H1262.69M1255.69,850.91H1262.69M1290.38,858.15V884.10M1286.88,858.15H1293.88M1286.88,884.10H1293.88M1321.57,882.52V908.99M1318.07,882.52H1325.07M1318.07,908.99H1325.07M1352.75,910.00V938.54M1349.25,910.00H1356.25M1349.25,938.54H1356.25M1383.93,936.18V961.61M1380.43,936.18H1387.43M1380.43,961.61H1387.43M1415.12,963.14V996.88M1411.62,963.14H1418.62M1411.62,996.88H1418.62" fill="none" stroke="#000" stroke-width="1.5"/>
<text transform="translate(1256.30,824.50) scale(0.9240,1)" font-size="21.50" fill="#000">Y = -3.430*X + 28.99</text>
<text transform="translate(1336.10,902.50) scale(0.9975,1)" font-size="20.00" fill="#000"><tspan font-style="italic">R</tspan><tspan font-style="italic" font-size="13.20" dy="-8.00">2</tspan><tspan font-style="italic" dy="8.00">=0.9993</tspan></text>
<text transform="translate(1256.80,1005.30) scale(0.9922,1)" font-size="20.00" fill="#000"><tspan font-style="italic">Eff.=95.68%</tspan></text>
<rect x="1484.60" y="787.50" width="264.10" height="259.90" fill="none" stroke="#000" stroke-width="2.6"/>
<path d="M1523.80,803.65V1012.90M1522.55,1012.90H1733.35M1513.20,1012.90H1523.80M1513.20,960.90H1523.80M1513.20,908.90H1523.80M1513.20,856.90H1523.80M1513.20,804.90H1523.80M1523.80,1012.90V1023.50M1575.88,1012.90V1023.50M1627.95,1012.90V1023.50M1680.02,1012.90V1023.50M1732.10,1012.90V1023.50" fill="none" stroke="#000" stroke-width="2.5" stroke-linecap="butt"/>
<text transform="translate(1488.42,1019.79) scale(1.0000,1)" font-size="19.40" fill="#000">22</text>
<text transform="translate(1488.42,967.79) scale(1.0000,1)" font-size="19.40" fill="#000">24</text>
<text transform="translate(1488.42,915.79) scale(1.0000,1)" font-size="19.40" fill="#000">26</text>
<text transform="translate(1488.42,863.79) scale(1.0000,1)" font-size="19.40" fill="#000">28</text>
<text transform="translate(1488.42,811.79) scale(1.0000,1)" font-size="19.40" fill="#000">30</text>
<text transform="translate(1510.60,1043.80) scale(1.0000,1)" font-size="19.00" fill="#000">0.0</text>
<text transform="translate(1562.67,1043.80) scale(1.0000,1)" font-size="19.00" fill="#000">0.5</text>
<text transform="translate(1614.74,1043.80) scale(1.0000,1)" font-size="19.00" fill="#000">1.0</text>
<text transform="translate(1666.82,1043.80) scale(1.0000,1)" font-size="19.00" fill="#000">1.5</text>
<text transform="translate(1718.89,1043.80) scale(1.0000,1)" font-size="19.00" fill="#000">2.0</text>
<line x1="1534.21" y1="840.10" x2="1690.44" y2="974.14" stroke="#000" stroke-width="2.5"/>
<path d="M1534.21,828.14V852.06M1530.71,828.14H1537.71M1530.71,852.06H1537.71M1565.46,855.20V884.32M1561.96,855.20H1568.96M1561.96,884.32H1568.96M1596.70,877.59V913.99M1593.20,877.59H1600.20M1593.20,913.99H1600.20M1627.95,908.04V944.44M1624.45,908.04H1631.45M1624.45,944.44H1631.45M1659.19,936.93V965.53M1655.69,936.93H1662.69M1655.69,965.53H1662.69M1690.44,963.22V993.38M1686.94,963.22H1693.94M1686.94,993.38H1693.94" fill="none" stroke="#000" stroke-width="1.5"/>
<text transform="translate(1530.90,825.40) scale(0.9240,1)" font-size="21.50" fill="#000">Y = -3.437*X + 28.99</text>
<text transform="translate(1615.10,899.70) scale(0.9855,1)" font-size="20.00" fill="#000"><tspan font-style="italic">R</tspan><tspan font-style="italic" font-size="13.20" dy="-8.00">2</tspan><tspan font-style="italic" dy="8.00">=0.9997</tspan></text>
<text transform="translate(1530.50,1005.20) scale(0.9868,1)" font-size="20.00" fill="#000"><tspan font-style="italic">Eff.=95.41%</tspan></text>
<rect x="110.60" y="423.40" width="203.00" height="202.70" fill="#fff" stroke="#3a3a3a" stroke-width="1.6"/>
<rect x="122.80" y="428.50" width="185.40" height="185.60" fill="#fff" stroke="#d0d0d0" stroke-width="1"/>
<path d="M126.78,428.50V614.10M134.86,428.50V614.10M142.94,428.50V614.10M151.02,428.50V614.10M159.10,428.50V614.10M167.18,428.50V614.10M175.26,428.50V614.10M183.34,428.50V614.10M191.42,428.50V614.10M199.50,428.50V614.10M207.58,428.50V614.10M215.66,428.50V614.10M223.74,428.50V614.10M231.82,428.50V614.10M239.90,428.50V614.10M247.98,428.50V614.10M256.06,428.50V614.10M264.14,428.50V614.10M272.22,428.50V614.10M280.30,428.50V614.10M288.38,428.50V614.10M296.46,428.50V614.10M304.54,428.50V614.10" stroke="#e2e2e2" stroke-width="0.8" stroke-dasharray="1.5,1.5" fill="none"/>
<path d="M122.80,605.50H308.20M122.80,585.71H308.20M122.80,565.92H308.20M122.80,546.14H308.20M122.80,526.35H308.20M122.80,506.56H308.20M122.80,486.77H308.20M122.80,466.99H308.20M122.80,447.20H308.20" stroke="#dcdcdc" stroke-width="1" fill="none"/>
<path d="M122.80,428.50V614.10H308.20" stroke="#8a8a8a" stroke-width="1" fill="none"/>
<path d="M121.30,605.50H122.80M121.30,585.71H122.80M121.30,565.92H122.80M121.30,546.14H122.80M121.30,526.35H122.80M121.30,506.56H122.80M121.30,486.77H122.80M121.30,466.99H122.80M121.30,447.20H122.80M126.78,614.10V615.90M134.86,614.10V615.90M142.94,614.10V615.90M151.02,614.10V615.90M159.10,614.10V615.90M167.18,614.10V615.90M175.26,614.10V615.90M183.34,614.10V615.90M191.42,614.10V615.90M199.50,614.10V615.90M207.58,614.10V615.90M215.66,614.10V615.90M223.74,614.10V615.90M231.82,614.10V615.90M239.90,614.10V615.90M247.98,614.10V615.90M256.06,614.10V615.90M264.14,614.10V615.90M272.22,614.10V615.90M280.30,614.10V615.90M288.38,614.10V615.90M296.46,614.10V615.90M304.54,614.10V615.90" stroke="#666" stroke-width="0.8" fill="none"/>
<g font-size="7.5" font-weight="bold" fill="#333" opacity="0.85"><text transform="translate(121.20,608.20) scale(0.5,1)" text-anchor="end">0.00</text><text transform="translate(121.20,588.41) scale(0.5,1)" text-anchor="end">0.25</text><text transform="translate(121.20,568.62) scale(0.5,1)" text-anchor="end">0.50</text><text transform="translate(121.20,548.84) scale(0.5,1)" text-anchor="end">0.75</text><text transform="translate(121.20,529.05) scale(0.5,1)" text-anchor="end">1.00</text><text transform="translate(121.20,509.26) scale(0.5,1)" text-anchor="end">1.25</text><text transform="translate(121.20,489.47) scale(0.5,1)" text-anchor="end">1.50</text><text transform="translate(121.20,469.69) scale(0.5,1)" text-anchor="end">1.75</text><text transform="translate(121.20,449.90) scale(0.5,1)" text-anchor="end">2.00</text><text transform="translate(126.78,622.70) scale(0.42,1)" text-anchor="middle">2</text><text transform="translate(134.86,622.70) scale(0.42,1)" text-anchor="middle">4</text><text transform="translate(142.94,622.70) scale(0.42,1)" text-anchor="middle">6</text><text transform="translate(151.02,622.70) scale(0.42,1)" text-anchor="middle">8</text><text transform="translate(159.10,622.70) scale(0.42,1)" text-anchor="middle">10</text><text transform="translate(167.18,622.70) scale(0.42,1)" text-anchor="middle">12</text><text transform="translate(175.26,622.70) scale(0.42,1)" text-anchor="middle">14</text><text transform="translate(183.34,622.70) scale(0.42,1)" text-anchor="middle">16</text><text transform="translate(191.42,622.70) scale(0.42,1)" text-anchor="middle">18</text><text transform="translate(199.50,622.70) scale(0.42,1)" text-anchor="middle">20</text><text transform="translate(207.58,622.70) scale(0.42,1)" text-anchor="middle">22</text><text transform="translate(215.66,622.70) scale(0.42,1)" text-anchor="middle">24</text><text transform="translate(223.74,622.70) scale(0.42,1)" text-anchor="middle">26</text><text transform="translate(231.82,622.70) scale(0.42,1)" text-anchor="middle">28</text><text transform="translate(239.90,622.70) scale(0.42,1)" text-anchor="middle">30</text><text transform="translate(247.98,622.70) scale(0.42,1)" text-anchor="middle">32</text><text transform="translate(256.06,622.70) scale(0.42,1)" text-anchor="middle">34</text><text transform="translate(264.14,622.70) scale(0.42,1)" text-anchor="middle">36</text><text transform="translate(272.22,622.70) scale(0.42,1)" text-anchor="middle">38</text><text transform="translate(280.30,622.70) scale(0.42,1)" text-anchor="middle">40</text><text transform="translate(288.38,622.70) scale(0.42,1)" text-anchor="middle">42</text><text transform="translate(296.46,622.70) scale(0.42,1)" text-anchor="middle">44</text><text transform="translate(304.54,622.70) scale(0.42,1)" text-anchor="middle">46</text></g>
<polyline points="122.7,605.5 124.8,605.5 126.8,605.5 128.8,605.5 130.8,605.5 132.8,605.5 134.9,605.5 136.9,605.5 138.9,605.5 140.9,605.5 142.9,605.5 145.0,605.5 147.0,605.5 149.0,605.5 151.0,605.5 153.0,605.5 155.1,605.5 157.1,605.5 159.1,605.5 161.1,605.5 163.1,605.5 165.2,605.5 167.2,605.5 169.2,605.5 171.2,605.5 173.2,605.5 175.3,605.5 177.3,605.5 179.3,605.5 181.3,605.5 183.3,605.5 185.4,605.5 187.4,605.5 189.4,605.5 191.4,605.5 193.4,605.5 195.5,605.5 197.5,605.5 199.5,605.5 201.5,605.5 203.5,605.5 205.6,605.5 207.6,605.5 209.6,605.5 211.6,605.5 213.6,605.5 215.7,605.5 217.7,605.5 219.7,605.5 221.7,605.5 223.7,605.5 225.8,605.5 227.8,605.5 229.8,605.5 231.8,605.5 233.8,605.4 235.9,605.4 237.9,605.3 239.9,605.2 241.9,605.0 243.9,604.7 246.0,604.4 248.0,603.9 250.0,603.4 252.0,602.6 254.0,601.7 256.1,600.6 258.1,599.2 260.1,597.7 262.1,595.9 264.1,593.9 266.2,591.7 268.2,589.3 270.2,586.7 272.2,583.9 274.2,580.9 276.3,577.8 278.3,574.6 280.3,571.2 282.3,567.9 284.3,564.4 286.4,560.9 288.4,557.5 290.4,554.0 292.4,550.6 294.4,547.2 296.5,543.9 298.5,540.7 300.5,537.6 302.5,534.5 304.5,531.6 306.6,528.8 308.6,526.1" fill="none" stroke="#b43a22" stroke-width="1.0" stroke-linejoin="round"/>
<polyline points="122.7,605.5 124.8,605.5 126.8,605.5 128.8,605.5 130.8,605.5 132.8,605.5 134.9,605.5 136.9,605.5 138.9,605.5 140.9,605.5 142.9,605.5 145.0,605.5 147.0,605.5 149.0,605.5 151.0,605.5 153.0,605.5 155.1,605.5 157.1,605.5 159.1,605.5 161.1,605.5 163.1,605.5 165.2,605.5 167.2,605.5 169.2,605.5 171.2,605.5 173.2,605.5 175.3,605.5 177.3,605.5 179.3,605.5 181.3,605.5 183.3,605.5 185.4,605.5 187.4,605.5 189.4,605.5 191.4,605.5 193.4,605.5 195.5,605.5 197.5,605.5 199.5,605.5 201.5,605.5 203.5,605.5 205.6,605.5 207.6,605.5 209.6,605.5 211.6,605.5 213.6,605.5 215.7,605.5 217.7,605.5 219.7,605.5 221.7,605.5 223.7,605.5 225.8,605.5 227.8,605.5 229.8,605.4 231.8,605.4 233.8,605.3 235.9,605.2 237.9,605.0 239.9,604.8 241.9,604.4 243.9,604.0 246.0,603.4 248.0,602.6 250.0,601.7 252.0,600.6 254.0,599.3 256.1,597.7 258.1,596.0 260.1,594.0 262.1,591.8 264.1,589.4 266.2,586.8 268.2,584.0 270.2,581.1 272.2,578.0 274.2,574.8 276.3,571.6 278.3,568.2 280.3,564.8 282.3,561.4 284.3,557.9 286.4,554.5 288.4,551.1 290.4,547.8 292.4,544.5 294.4,541.3 296.5,538.2 298.5,535.2 300.5,532.3 302.5,529.5 304.5,526.9 306.6,524.3 308.6,521.8" fill="none" stroke="#e6dc66" stroke-width="1.0" stroke-linejoin="round"/>
<polyline points="122.7,605.5 124.8,605.5 126.8,605.5 128.8,605.5 130.8,605.5 132.8,605.5 134.9,605.5 136.9,605.5 138.9,605.5 140.9,605.5 142.9,605.5 145.0,605.5 147.0,605.5 149.0,605.5 151.0,605.5 153.0,605.5 155.1,605.5 157.1,605.5 159.1,605.5 161.1,605.5 163.1,605.5 165.2,605.5 167.2,605.5 169.2,605.5 171.2,605.5 173.2,605.5 175.3,605.5 177.3,605.5 179.3,605.5 181.3,605.5 183.3,605.5 185.4,605.5 187.4,605.5 189.4,605.5 191.4,605.5 193.4,605.5 195.5,605.5 197.5,605.5 199.5,605.5 201.5,605.5 203.5,605.5 205.6,605.5 207.6,605.5 209.6,605.5 211.6,605.5 213.6,605.5 215.7,605.5 217.7,605.5 219.7,605.5 221.7,605.5 223.7,605.5 225.8,605.4 227.8,605.4 229.8,605.3 231.8,605.2 233.8,605.0 235.9,604.8 237.9,604.4 239.9,604.0 241.9,603.4 243.9,602.6 246.0,601.7 248.0,600.6 250.0,599.3 252.0,597.8 254.0,596.1 256.1,594.1 258.1,591.9 260.1,589.5 262.1,587.0 264.1,584.2 266.2,581.3 268.2,578.3 270.2,575.1 272.2,571.9 274.2,568.5 276.3,565.2 278.3,561.8 280.3,558.4 282.3,555.0 284.3,551.7 286.4,548.4 288.4,545.1 290.4,542.0 292.4,538.9 294.4,535.9 296.5,533.1 298.5,530.3 300.5,527.7 302.5,525.1 304.5,522.7 306.6,520.4 308.6,518.2" fill="none" stroke="#e89430" stroke-width="1.0" stroke-linejoin="round"/>
<polyline points="122.7,605.5 124.8,605.5 126.8,605.5 128.8,605.5 130.8,605.5 132.8,605.5 134.9,605.5 136.9,605.5 138.9,605.5 140.9,605.5 142.9,605.5 145.0,605.5 147.0,605.5 149.0,605.5 151.0,605.5 153.0,605.5 155.1,605.5 157.1,605.5 159.1,605.5 161.1,605.5 163.1,605.5 165.2,605.5 167.2,605.5 169.2,605.5 171.2,605.5 173.2,605.5 175.3,605.5 177.3,605.5 179.3,605.5 181.3,605.5 183.3,605.5 185.4,605.5 187.4,605.5 189.4,605.5 191.4,605.5 193.4,605.5 195.5,605.5 197.5,605.5 199.5,605.5 201.5,605.5 203.5,605.5 205.6,605.5 207.6,605.5 209.6,605.5 211.6,605.5 213.6,605.5 215.7,605.5 217.7,605.5 219.7,605.5 221.7,605.4 223.7,605.4 225.8,605.3 227.8,605.2 229.8,605.0 231.8,604.8 233.8,604.4 235.9,604.0 237.9,603.4 239.9,602.6 241.9,601.7 243.9,600.6 246.0,599.3 248.0,597.8 250.0,596.1 252.0,594.2 254.0,592.0 256.1,589.7 258.1,587.1 260.1,584.4 262.1,581.5 264.1,578.5 266.2,575.4 268.2,572.2 270.2,568.9 272.2,565.5 274.2,562.2 276.3,558.8 278.3,555.5 280.3,552.2 282.3,548.9 284.3,545.7 286.4,542.6 288.4,539.6 290.4,536.7 292.4,533.8 294.4,531.1 296.5,528.5 298.5,526.0 300.5,523.6 302.5,521.3 304.5,519.1 306.6,517.1 308.6,515.1" fill="none" stroke="#cc4a2a" stroke-width="1.0" stroke-linejoin="round"/>
<polyline points="122.7,605.5 124.8,605.5 126.8,605.5 128.8,605.5 130.8,605.5 132.8,605.5 134.9,605.5 136.9,605.5 138.9,605.5 140.9,605.5 142.9,605.5 145.0,605.5 147.0,605.5 149.0,605.5 151.0,605.5 153.0,605.5 155.1,605.5 157.1,605.5 159.1,605.5 161.1,605.5 163.1,605.5 165.2,605.5 167.2,605.5 169.2,605.5 171.2,605.5 173.2,605.5 175.3,605.5 177.3,605.5 179.3,605.5 181.3,605.5 183.3,605.5 185.4,605.5 187.4,605.5 189.4,605.5 191.4,605.5 193.4,605.5 195.5,605.5 197.5,605.5 199.5,605.5 201.5,605.5 203.5,605.5 205.6,605.5 207.6,605.5 209.6,605.5 211.6,605.5 213.6,605.5 215.7,605.5 217.7,605.4 219.7,605.4 221.7,605.3 223.7,605.2 225.8,605.0 227.8,604.8 229.8,604.4 231.8,604.0 233.8,603.4 235.9,602.7 237.9,601.8 239.9,600.7 241.9,599.4 243.9,597.9 246.0,596.2 248.0,594.3 250.0,592.1 252.0,589.8 254.0,587.3 256.1,584.6 258.1,581.7 260.1,578.7 262.1,575.6 264.1,572.5 266.2,569.2 268.2,565.9 270.2,562.6 272.2,559.3 274.2,556.0 276.3,552.7 278.3,549.5 280.3,546.3 282.3,543.3 284.3,540.3 286.4,537.4 288.4,534.6 290.4,531.9 292.4,529.3 294.4,526.8 296.5,524.4 298.5,522.2 300.5,520.0 302.5,518.0 304.5,516.1 306.6,514.3 308.6,512.5" fill="none" stroke="#ecd040" stroke-width="1.0" stroke-linejoin="round"/>
<polyline points="122.7,605.5 124.8,605.5 126.8,605.5 128.8,605.5 130.8,605.5 132.8,605.5 134.9,605.5 136.9,605.5 138.9,605.5 140.9,605.5 142.9,605.5 145.0,605.5 147.0,605.5 149.0,605.5 151.0,605.5 153.0,605.5 155.1,605.5 157.1,605.5 159.1,605.5 161.1,605.5 163.1,605.5 165.2,605.5 167.2,605.5 169.2,605.5 171.2,605.5 173.2,605.5 175.3,605.5 177.3,605.5 179.3,605.5 181.3,605.5 183.3,605.5 185.4,605.5 187.4,605.5 189.4,605.5 191.4,605.5 193.4,605.5 195.5,605.5 197.5,605.5 199.5,605.5 201.5,605.5 203.5,605.5 205.6,605.5 207.6,605.5 209.6,605.5 211.6,605.5 213.6,605.4 215.7,605.4 217.7,605.3 219.7,605.2 221.7,605.0 223.7,604.8 225.8,604.4 227.8,604.0 229.8,603.4 231.8,602.7 233.8,601.8 235.9,600.7 237.9,599.4 239.9,597.9 241.9,596.3 243.9,594.3 246.0,592.2 248.0,589.9 250.0,587.4 252.0,584.8 254.0,581.9 256.1,579.0 258.1,575.9 260.1,572.8 262.1,569.5 264.1,566.3 266.2,563.0 268.2,559.7 270.2,556.5 272.2,553.2 274.2,550.0 276.3,546.9 278.3,543.9 280.3,540.9 282.3,538.1 284.3,535.3 286.4,532.6 288.4,530.1 290.4,527.6 292.4,525.3 294.4,523.1 296.5,521.0 298.5,518.9 300.5,517.0 302.5,515.2 304.5,513.5 306.6,511.9 308.6,510.4" fill="none" stroke="#e0701c" stroke-width="1.0" stroke-linejoin="round"/>
<polyline points="122.7,605.5 124.8,605.5 126.8,605.5 128.8,605.5 130.8,605.5 132.8,605.5 134.9,605.5 136.9,605.5 138.9,605.5 140.9,605.5 142.9,605.5 145.0,605.5 147.0,605.5 149.0,605.5 151.0,605.5 153.0,605.5 155.1,605.5 157.1,605.5 159.1,605.5 161.1,605.5 163.1,605.5 165.2,605.5 167.2,605.5 169.2,605.5 171.2,605.5 173.2,605.5 175.3,605.5 177.3,605.5 179.3,605.5 181.3,605.5 183.3,605.5 185.4,605.5 187.4,605.5 189.4,605.5 191.4,605.5 193.4,605.5 195.5,605.5 197.5,605.5 199.5,605.5 201.5,605.5 203.5,605.5 205.6,605.5 207.6,605.5 209.6,605.4 211.6,605.4 213.6,605.3 215.7,605.2 217.7,605.0 219.7,604.8 221.7,604.4 223.7,604.0 225.8,603.4 227.8,602.7 229.8,601.8 231.8,600.7 233.8,599.5 235.9,598.0 237.9,596.3 239.9,594.4 241.9,592.3 243.9,590.0 246.0,587.6 248.0,584.9 250.0,582.1 252.0,579.2 254.0,576.2 256.1,573.1 258.1,569.9 260.1,566.7 262.1,563.4 264.1,560.2 266.2,556.9 268.2,553.8 270.2,550.6 272.2,547.5 274.2,544.5 276.3,541.6 278.3,538.8 280.3,536.0 282.3,533.4 284.3,530.9 286.4,528.5 288.4,526.2 290.4,524.0 292.4,521.9 294.4,519.9 296.5,518.0 298.5,516.2 300.5,514.6 302.5,513.0 304.5,511.5 306.6,510.1 308.6,508.8" fill="none" stroke="#c0301e" stroke-width="1.0" stroke-linejoin="round"/>
<line x1="122.80" y1="597.60" x2="308.20" y2="597.60" stroke="#5b9ee6" stroke-width="1.7"/>
<text transform="translate(123.20,596.00) scale(0.5417,1)" font-size="8.96" fill="#c4101a" stroke="#c4101a" stroke-width="0.35"><tspan font-family="Liberation Serif, serif" font-weight="bold">0.102912</tspan></text>
<text transform="translate(151.50,448.70) scale(0.9958,1)" font-size="17.00" fill="#000"><tspan font-style="italic">Het</tspan> gDNA</text>
<text transform="translate(150.80,469.50) scale(1.0069,1)" font-size="17.00" fill="#000">(1.25-40ng)</text>
<rect x="318.50" y="422.50" width="203.70" height="203.60" fill="#fff" stroke="#3a3a3a" stroke-width="1.6"/>
<rect x="331.60" y="425.90" width="185.60" height="188.20" fill="#fff" stroke="#d0d0d0" stroke-width="1"/>
<path d="M335.48,425.90V614.10M343.56,425.90V614.10M351.64,425.90V614.10M359.72,425.90V614.10M367.80,425.90V614.10M375.88,425.90V614.10M383.96,425.90V614.10M392.04,425.90V614.10M400.12,425.90V614.10M408.20,425.90V614.10M416.28,425.90V614.10M424.36,425.90V614.10M432.44,425.90V614.10M440.52,425.90V614.10M448.60,425.90V614.10M456.68,425.90V614.10M464.76,425.90V614.10M472.84,425.90V614.10M480.92,425.90V614.10M489.00,425.90V614.10M497.08,425.90V614.10M505.16,425.90V614.10M513.24,425.90V614.10" stroke="#e2e2e2" stroke-width="0.8" stroke-dasharray="1.5,1.5" fill="none"/>
<path d="M331.60,605.50H517.20M331.60,585.40H517.20M331.60,565.30H517.20M331.60,545.20H517.20M331.60,525.10H517.20M331.60,505.00H517.20M331.60,484.90H517.20M331.60,464.80H517.20M331.60,444.70H517.20" stroke="#dcdcdc" stroke-width="1" fill="none"/>
<path d="M331.60,425.90V614.10H517.20" stroke="#8a8a8a" stroke-width="1" fill="none"/>
<path d="M330.10,605.50H331.60M330.10,585.40H331.60M330.10,565.30H331.60M330.10,545.20H331.60M330.10,525.10H331.60M330.10,505.00H331.60M330.10,484.90H331.60M330.10,464.80H331.60M330.10,444.70H331.60M335.48,614.10V615.90M343.56,614.10V615.90M351.64,614.10V615.90M359.72,614.10V615.90M367.80,614.10V615.90M375.88,614.10V615.90M383.96,614.10V615.90M392.04,614.10V615.90M400.12,614.10V615.90M408.20,614.10V615.90M416.28,614.10V615.90M424.36,614.10V615.90M432.44,614.10V615.90M440.52,614.10V615.90M448.60,614.10V615.90M456.68,614.10V615.90M464.76,614.10V615.90M472.84,614.10V615.90M480.92,614.10V615.90M489.00,614.10V615.90M497.08,614.10V615.90M505.16,614.10V615.90M513.24,614.10V615.90" stroke="#666" stroke-width="0.8" fill="none"/>
<g font-size="7.5" font-weight="bold" fill="#333" opacity="0.85"><text transform="translate(330.00,608.20) scale(0.5,1)" text-anchor="end">0.00</text><text transform="translate(330.00,588.10) scale(0.5,1)" text-anchor="end">0.25</text><text transform="translate(330.00,568.00) scale(0.5,1)" text-anchor="end">0.50</text><text transform="translate(330.00,547.90) scale(0.5,1)" text-anchor="end">0.75</text><text transform="translate(330.00,527.80) scale(0.5,1)" text-anchor="end">1.00</text><text transform="translate(330.00,507.70) scale(0.5,1)" text-anchor="end">1.25</text><text transform="translate(330.00,487.60) scale(0.5,1)" text-anchor="end">1.50</text><text transform="translate(330.00,467.50) scale(0.5,1)" text-anchor="end">1.75</text><text transform="translate(330.00,447.40) scale(0.5,1)" text-anchor="end">2.00</text><text transform="translate(335.48,622.70) scale(0.42,1)" text-anchor="middle">2</text><text transform="translate(343.56,622.70) scale(0.42,1)" text-anchor="middle">4</text><text transform="translate(351.64,622.70) scale(0.42,1)" text-anchor="middle">6</text><text transform="translate(359.72,622.70) scale(0.42,1)" text-anchor="middle">8</text><text transform="translate(367.80,622.70) scale(0.42,1)" text-anchor="middle">10</text><text transform="translate(375.88,622.70) scale(0.42,1)" text-anchor="middle">12</text><text transform="translate(383.96,622.70) scale(0.42,1)" text-anchor="middle">14</text><text transform="translate(392.04,622.70) scale(0.42,1)" text-anchor="middle">16</text><text transform="translate(400.12,622.70) scale(0.42,1)" text-anchor="middle">18</text><text transform="translate(408.20,622.70) scale(0.42,1)" text-anchor="middle">20</text><text transform="translate(416.28,622.70) scale(0.42,1)" text-anchor="middle">22</text><text transform="translate(424.36,622.70) scale(0.42,1)" text-anchor="middle">24</text><text transform="translate(432.44,622.70) scale(0.42,1)" text-anchor="middle">26</text><text transform="translate(440.52,622.70) scale(0.42,1)" text-anchor="middle">28</text><text transform="translate(448.60,622.70) scale(0.42,1)" text-anchor="middle">30</text><text transform="translate(456.68,622.70) scale(0.42,1)" text-anchor="middle">32</text><text transform="translate(464.76,622.70) scale(0.42,1)" text-anchor="middle">34</text><text transform="translate(472.84,622.70) scale(0.42,1)" text-anchor="middle">36</text><text transform="translate(480.92,622.70) scale(0.42,1)" text-anchor="middle">38</text><text transform="translate(489.00,622.70) scale(0.42,1)" text-anchor="middle">40</text><text transform="translate(497.08,622.70) scale(0.42,1)" text-anchor="middle">42</text><text transform="translate(505.16,622.70) scale(0.42,1)" text-anchor="middle">44</text><text transform="translate(513.24,622.70) scale(0.42,1)" text-anchor="middle">46</text></g>
<polyline points="331.4,605.5 333.5,605.5 335.5,605.5 337.5,605.5 339.5,605.5 341.5,605.5 343.6,605.5 345.6,605.5 347.6,605.5 349.6,605.5 351.6,605.5 353.7,605.5 355.7,605.5 357.7,605.5 359.7,605.5 361.7,605.5 363.8,605.5 365.8,605.5 367.8,605.5 369.8,605.5 371.8,605.5 373.9,605.5 375.9,605.5 377.9,605.5 379.9,605.5 381.9,605.5 384.0,605.5 386.0,605.5 388.0,605.5 390.0,605.5 392.0,605.5 394.1,605.5 396.1,605.5 398.1,605.5 400.1,605.5 402.1,605.5 404.2,605.5 406.2,605.5 408.2,605.5 410.2,605.5 412.2,605.5 414.3,605.5 416.3,605.5 418.3,605.5 420.3,605.5 422.3,605.5 424.4,605.5 426.4,605.5 428.4,605.5 430.4,605.5 432.4,605.5 434.5,605.5 436.5,605.5 438.5,605.5 440.5,605.4 442.5,605.3 444.6,605.0 446.6,604.6 448.6,604.0 450.6,603.0 452.6,601.6 454.7,599.6 456.7,597.1 458.7,594.0 460.7,590.3 462.7,585.8 464.8,580.8 466.8,575.3 468.8,569.2 470.8,562.8 472.8,556.1 474.9,549.3 476.9,542.3 478.9,535.4 480.9,528.5 482.9,521.8 485.0,515.3 487.0,509.1 489.0,503.1 491.0,497.5 493.0,492.2 495.1,487.2 497.1,482.6 499.1,478.3 501.1,474.3 503.1,470.6 505.2,467.3 507.2,464.2 509.2,461.4 511.2,458.8 513.2,456.5 515.3,454.4 517.3,452.4" fill="none" stroke="#2cb040" stroke-width="1.0" stroke-linejoin="round"/>
<polyline points="331.4,605.5 333.5,605.5 335.5,605.5 337.5,605.5 339.5,605.5 341.5,605.5 343.6,605.5 345.6,605.5 347.6,605.5 349.6,605.5 351.6,605.5 353.7,605.5 355.7,605.5 357.7,605.5 359.7,605.5 361.7,605.5 363.8,605.5 365.8,605.5 367.8,605.5 369.8,605.5 371.8,605.5 373.9,605.5 375.9,605.5 377.9,605.5 379.9,605.5 381.9,605.5 384.0,605.5 386.0,605.5 388.0,605.5 390.0,605.5 392.0,605.5 394.1,605.5 396.1,605.5 398.1,605.5 400.1,605.5 402.1,605.5 404.2,605.5 406.2,605.5 408.2,605.5 410.2,605.5 412.2,605.5 414.3,605.5 416.3,605.5 418.3,605.5 420.3,605.5 422.3,605.5 424.4,605.5 426.4,605.5 428.4,605.5 430.4,605.5 432.4,605.5 434.5,605.5 436.5,605.4 438.5,605.3 440.5,605.0 442.5,604.6 444.6,604.0 446.6,603.0 448.6,601.6 450.6,599.7 452.6,597.2 454.7,594.1 456.7,590.4 458.7,586.0 460.7,580.9 462.7,575.3 464.8,569.3 466.8,562.8 468.8,556.1 470.8,549.2 472.8,542.2 474.9,535.1 476.9,528.2 478.9,521.4 480.9,514.8 482.9,508.5 485.0,502.5 487.0,496.8 489.0,491.4 491.0,486.4 493.0,481.7 495.1,477.3 497.1,473.3 499.1,469.6 501.1,466.2 503.1,463.0 505.2,460.2 507.2,457.6 509.2,455.2 511.2,453.1 513.2,451.1 515.3,449.3 517.3,447.7" fill="none" stroke="#44bca6" stroke-width="1.0" stroke-linejoin="round"/>
<polyline points="331.4,605.5 333.5,605.5 335.5,605.5 337.5,605.5 339.5,605.5 341.5,605.5 343.6,605.5 345.6,605.5 347.6,605.5 349.6,605.5 351.6,605.5 353.7,605.5 355.7,605.5 357.7,605.5 359.7,605.5 361.7,605.5 363.8,605.5 365.8,605.5 367.8,605.5 369.8,605.5 371.8,605.5 373.9,605.5 375.9,605.5 377.9,605.5 379.9,605.5 381.9,605.5 384.0,605.5 386.0,605.5 388.0,605.5 390.0,605.5 392.0,605.5 394.1,605.5 396.1,605.5 398.1,605.5 400.1,605.5 402.1,605.5 404.2,605.5 406.2,605.5 408.2,605.5 410.2,605.5 412.2,605.5 414.3,605.5 416.3,605.5 418.3,605.5 420.3,605.5 422.3,605.5 424.4,605.5 426.4,605.5 428.4,605.5 430.4,605.5 432.4,605.4 434.5,605.3 436.5,605.0 438.5,604.7 440.5,604.0 442.5,603.1 444.6,601.7 446.6,599.8 448.6,597.3 450.6,594.2 452.6,590.5 454.7,586.1 456.7,581.0 458.7,575.4 460.7,569.3 462.7,562.8 464.8,556.1 466.8,549.1 468.8,542.0 470.8,534.9 472.8,527.9 474.9,521.0 476.9,514.4 478.9,508.0 480.9,501.9 482.9,496.1 485.0,490.7 487.0,485.6 489.0,480.8 491.0,476.4 493.0,472.3 495.1,468.5 497.1,465.1 499.1,461.9 501.1,459.0 503.1,456.3 505.2,453.9 507.2,451.8 509.2,449.8 511.2,448.0 513.2,446.4 515.3,444.9 517.3,443.6" fill="none" stroke="#a8da52" stroke-width="1.0" stroke-linejoin="round"/>
<polyline points="331.4,605.5 333.5,605.5 335.5,605.5 337.5,605.5 339.5,605.5 341.5,605.5 343.6,605.5 345.6,605.5 347.6,605.5 349.6,605.5 351.6,605.5 353.7,605.5 355.7,605.5 357.7,605.5 359.7,605.5 361.7,605.5 363.8,605.5 365.8,605.5 367.8,605.5 369.8,605.5 371.8,605.5 373.9,605.5 375.9,605.5 377.9,605.5 379.9,605.5 381.9,605.5 384.0,605.5 386.0,605.5 388.0,605.5 390.0,605.5 392.0,605.5 394.1,605.5 396.1,605.5 398.1,605.5 400.1,605.5 402.1,605.5 404.2,605.5 406.2,605.5 408.2,605.5 410.2,605.5 412.2,605.5 414.3,605.5 416.3,605.5 418.3,605.5 420.3,605.5 422.3,605.5 424.4,605.5 426.4,605.5 428.4,605.4 430.4,605.3 432.4,605.1 434.5,604.7 436.5,604.1 438.5,603.1 440.5,601.7 442.5,599.9 444.6,597.4 446.6,594.3 448.6,590.6 450.6,586.2 452.6,581.1 454.7,575.5 456.7,569.4 458.7,562.9 460.7,556.0 462.7,549.0 464.8,541.8 466.8,534.7 468.8,527.6 470.8,520.7 472.8,513.9 474.9,507.5 476.9,501.3 478.9,495.4 480.9,489.9 482.9,484.7 485.0,479.9 487.0,475.4 489.0,471.3 491.0,467.5 493.0,464.0 495.1,460.7 497.1,457.8 499.1,455.1 501.1,452.7 503.1,450.5 505.2,448.4 507.2,446.6 509.2,445.0 511.2,443.5 513.2,442.1 515.3,440.9 517.3,439.8" fill="none" stroke="#52d050" stroke-width="1.0" stroke-linejoin="round"/>
<polyline points="331.4,605.5 333.5,605.5 335.5,605.5 337.5,605.5 339.5,605.5 341.5,605.5 343.6,605.5 345.6,605.5 347.6,605.5 349.6,605.5 351.6,605.5 353.7,605.5 355.7,605.5 357.7,605.5 359.7,605.5 361.7,605.5 363.8,605.5 365.8,605.5 367.8,605.5 369.8,605.5 371.8,605.5 373.9,605.5 375.9,605.5 377.9,605.5 379.9,605.5 381.9,605.5 384.0,605.5 386.0,605.5 388.0,605.5 390.0,605.5 392.0,605.5 394.1,605.5 396.1,605.5 398.1,605.5 400.1,605.5 402.1,605.5 404.2,605.5 406.2,605.5 408.2,605.5 410.2,605.5 412.2,605.5 414.3,605.5 416.3,605.5 418.3,605.5 420.3,605.5 422.3,605.5 424.4,605.4 426.4,605.3 428.4,605.1 430.4,604.7 432.4,604.1 434.5,603.2 436.5,601.8 438.5,599.9 440.5,597.5 442.5,594.4 444.6,590.7 446.6,586.3 448.6,581.2 450.6,575.6 452.6,569.4 454.7,562.9 456.7,556.0 458.7,548.9 460.7,541.7 462.7,534.5 464.8,527.3 466.8,520.3 468.8,513.5 470.8,507.0 472.8,500.7 474.9,494.8 476.9,489.2 478.9,483.9 480.9,479.1 482.9,474.5 485.0,470.3 487.0,466.4 489.0,462.9 491.0,459.6 493.0,456.6 495.1,453.9 497.1,451.4 499.1,449.2 501.1,447.1 503.1,445.3 505.2,443.6 507.2,442.1 509.2,440.7 511.2,439.5 513.2,438.4 515.3,437.4 517.3,436.5" fill="none" stroke="#3cc486" stroke-width="1.0" stroke-linejoin="round"/>
<polyline points="331.4,605.5 333.5,605.5 335.5,605.5 337.5,605.5 339.5,605.5 341.5,605.5 343.6,605.5 345.6,605.5 347.6,605.5 349.6,605.5 351.6,605.5 353.7,605.5 355.7,605.5 357.7,605.5 359.7,605.5 361.7,605.5 363.8,605.5 365.8,605.5 367.8,605.5 369.8,605.5 371.8,605.5 373.9,605.5 375.9,605.5 377.9,605.5 379.9,605.5 381.9,605.5 384.0,605.5 386.0,605.5 388.0,605.5 390.0,605.5 392.0,605.5 394.1,605.5 396.1,605.5 398.1,605.5 400.1,605.5 402.1,605.5 404.2,605.5 406.2,605.5 408.2,605.5 410.2,605.5 412.2,605.5 414.3,605.5 416.3,605.5 418.3,605.5 420.3,605.4 422.3,605.3 424.4,605.1 426.4,604.7 428.4,604.1 430.4,603.2 432.4,601.9 434.5,600.0 436.5,597.6 438.5,594.5 440.5,590.8 442.5,586.4 444.6,581.3 446.6,575.7 448.6,569.5 450.6,562.9 452.6,556.0 454.7,548.8 456.7,541.6 458.7,534.3 460.7,527.0 462.7,520.0 464.8,513.1 466.8,506.5 468.8,500.1 470.8,494.1 472.8,488.5 474.9,483.1 476.9,478.2 478.9,473.6 480.9,469.3 482.9,465.4 485.0,461.8 487.0,458.5 489.0,455.4 491.0,452.7 493.0,450.2 495.1,447.9 497.1,445.8 499.1,443.9 501.1,442.2 503.1,440.7 505.2,439.3 507.2,438.0 509.2,436.9 511.2,435.9 513.2,435.0 515.3,434.2 517.3,433.4" fill="none" stroke="#8ed444" stroke-width="1.0" stroke-linejoin="round"/>
<polyline points="331.4,605.5 333.5,605.5 335.5,605.5 337.5,605.5 339.5,605.5 341.5,605.5 343.6,605.5 345.6,605.5 347.6,605.5 349.6,605.5 351.6,605.5 353.7,605.5 355.7,605.5 357.7,605.5 359.7,605.5 361.7,605.5 363.8,605.5 365.8,605.5 367.8,605.5 369.8,605.5 371.8,605.5 373.9,605.5 375.9,605.5 377.9,605.5 379.9,605.5 381.9,605.5 384.0,605.5 386.0,605.5 388.0,605.5 390.0,605.5 392.0,605.5 394.1,605.5 396.1,605.5 398.1,605.5 400.1,605.5 402.1,605.5 404.2,605.5 406.2,605.5 408.2,605.5 410.2,605.5 412.2,605.5 414.3,605.5 416.3,605.4 418.3,605.3 420.3,605.1 422.3,604.7 424.4,604.2 426.4,603.2 428.4,601.9 430.4,600.1 432.4,597.7 434.5,594.6 436.5,590.9 438.5,586.5 440.5,581.4 442.5,575.8 444.6,569.6 446.6,562.9 448.6,555.9 450.6,548.7 452.6,541.4 454.7,534.1 456.7,526.8 458.7,519.6 460.7,512.7 462.7,506.0 464.8,499.5 466.8,493.5 468.8,487.7 470.8,482.4 472.8,477.3 474.9,472.7 476.9,468.3 478.9,464.4 480.9,460.7 482.9,457.3 485.0,454.3 487.0,451.5 489.0,448.9 491.0,446.6 493.0,444.5 495.1,442.6 497.1,440.8 499.1,439.3 501.1,437.9 503.1,436.6 505.2,435.5 507.2,434.4 509.2,433.5 511.2,432.7 513.2,431.9 515.3,431.2 517.3,430.6" fill="none" stroke="#34c43a" stroke-width="1.0" stroke-linejoin="round"/>
<line x1="331.60" y1="597.10" x2="517.20" y2="597.10" stroke="#5b9ee6" stroke-width="1.7"/>
<text transform="translate(331.80,596.00) scale(0.5417,1)" font-size="8.96" fill="#c4101a" stroke="#c4101a" stroke-width="0.35"><tspan font-family="Liberation Serif, serif" font-weight="bold">0.102912</tspan></text>
<text transform="translate(358.40,448.70) scale(0.9958,1)" font-size="17.00" fill="#000"><tspan font-style="italic">Het</tspan> gDNA</text>
<text transform="translate(358.00,469.50) scale(1.0035,1)" font-size="17.00" fill="#000">(1.25-40ng)</text>
<rect x="526.60" y="423.30" width="203.60" height="203.10" fill="#fff" stroke="#3a3a3a" stroke-width="1.6"/>
<rect x="541.10" y="427.80" width="186.90" height="184.80" fill="#fff" stroke="#d0d0d0" stroke-width="1"/>
<path d="M545.23,427.80V612.60M553.36,427.80V612.60M561.48,427.80V612.60M569.61,427.80V612.60M577.74,427.80V612.60M585.87,427.80V612.60M594.00,427.80V612.60M602.12,427.80V612.60M610.25,427.80V612.60M618.38,427.80V612.60M626.51,427.80V612.60M634.64,427.80V612.60M642.76,427.80V612.60M650.89,427.80V612.60M659.02,427.80V612.60M667.15,427.80V612.60M675.28,427.80V612.60M683.40,427.80V612.60M691.53,427.80V612.60M699.66,427.80V612.60M707.79,427.80V612.60M715.92,427.80V612.60M724.04,427.80V612.60" stroke="#e2e2e2" stroke-width="0.8" stroke-dasharray="1.5,1.5" fill="none"/>
<path d="M541.10,604.10H728.00M541.10,590.03H728.00M541.10,575.96H728.00M541.10,561.89H728.00M541.10,547.82H728.00M541.10,533.75H728.00M541.10,519.68H728.00M541.10,505.61H728.00M541.10,491.54H728.00M541.10,477.47H728.00M541.10,463.40H728.00M541.10,449.33H728.00M541.10,435.26H728.00" stroke="#dcdcdc" stroke-width="1" fill="none"/>
<path d="M541.10,427.80V612.60H728.00" stroke="#8a8a8a" stroke-width="1" fill="none"/>
<path d="M539.60,604.10H541.10M539.60,590.03H541.10M539.60,575.96H541.10M539.60,561.89H541.10M539.60,547.82H541.10M539.60,533.75H541.10M539.60,519.68H541.10M539.60,505.61H541.10M539.60,491.54H541.10M539.60,477.47H541.10M539.60,463.40H541.10M539.60,449.33H541.10M539.60,435.26H541.10M545.23,612.60V614.40M553.36,612.60V614.40M561.48,612.60V614.40M569.61,612.60V614.40M577.74,612.60V614.40M585.87,612.60V614.40M594.00,612.60V614.40M602.12,612.60V614.40M610.25,612.60V614.40M618.38,612.60V614.40M626.51,612.60V614.40M634.64,612.60V614.40M642.76,612.60V614.40M650.89,612.60V614.40M659.02,612.60V614.40M667.15,612.60V614.40M675.28,612.60V614.40M683.40,612.60V614.40M691.53,612.60V614.40M699.66,612.60V614.40M707.79,612.60V614.40M715.92,612.60V614.40M724.04,612.60V614.40" stroke="#666" stroke-width="0.8" fill="none"/>
<g font-size="7.5" font-weight="bold" fill="#333" opacity="0.85"><text transform="translate(539.50,606.80) scale(0.5,1)" text-anchor="end">0.0</text><text transform="translate(539.50,592.73) scale(0.5,1)" text-anchor="end">0.1</text><text transform="translate(539.50,578.66) scale(0.5,1)" text-anchor="end">0.2</text><text transform="translate(539.50,564.59) scale(0.5,1)" text-anchor="end">0.3</text><text transform="translate(539.50,550.52) scale(0.5,1)" text-anchor="end">0.4</text><text transform="translate(539.50,536.45) scale(0.5,1)" text-anchor="end">0.5</text><text transform="translate(539.50,522.38) scale(0.5,1)" text-anchor="end">0.6</text><text transform="translate(539.50,508.31) scale(0.5,1)" text-anchor="end">0.7</text><text transform="translate(539.50,494.24) scale(0.5,1)" text-anchor="end">0.8</text><text transform="translate(539.50,480.17) scale(0.5,1)" text-anchor="end">0.9</text><text transform="translate(539.50,466.10) scale(0.5,1)" text-anchor="end">1.0</text><text transform="translate(539.50,452.03) scale(0.5,1)" text-anchor="end">1.1</text><text transform="translate(539.50,437.96) scale(0.5,1)" text-anchor="end">1.2</text><text transform="translate(545.23,621.20) scale(0.42,1)" text-anchor="middle">2</text><text transform="translate(553.36,621.20) scale(0.42,1)" text-anchor="middle">4</text><text transform="translate(561.48,621.20) scale(0.42,1)" text-anchor="middle">6</text><text transform="translate(569.61,621.20) scale(0.42,1)" text-anchor="middle">8</text><text transform="translate(577.74,621.20) scale(0.42,1)" text-anchor="middle">10</text><text transform="translate(585.87,621.20) scale(0.42,1)" text-anchor="middle">12</text><text transform="translate(594.00,621.20) scale(0.42,1)" text-anchor="middle">14</text><text transform="translate(602.12,621.20) scale(0.42,1)" text-anchor="middle">16</text><text transform="translate(610.25,621.20) scale(0.42,1)" text-anchor="middle">18</text><text transform="translate(618.38,621.20) scale(0.42,1)" text-anchor="middle">20</text><text transform="translate(626.51,621.20) scale(0.42,1)" text-anchor="middle">22</text><text transform="translate(634.64,621.20) scale(0.42,1)" text-anchor="middle">24</text><text transform="translate(642.76,621.20) scale(0.42,1)" text-anchor="middle">26</text><text transform="translate(650.89,621.20) scale(0.42,1)" text-anchor="middle">28</text><text transform="translate(659.02,621.20) scale(0.42,1)" text-anchor="middle">30</text><text transform="translate(667.15,621.20) scale(0.42,1)" text-anchor="middle">32</text><text transform="translate(675.28,621.20) scale(0.42,1)" text-anchor="middle">34</text><text transform="translate(683.40,621.20) scale(0.42,1)" text-anchor="middle">36</text><text transform="translate(691.53,621.20) scale(0.42,1)" text-anchor="middle">38</text><text transform="translate(699.66,621.20) scale(0.42,1)" text-anchor="middle">40</text><text transform="translate(707.79,621.20) scale(0.42,1)" text-anchor="middle">42</text><text transform="translate(715.92,621.20) scale(0.42,1)" text-anchor="middle">44</text><text transform="translate(724.04,621.20) scale(0.42,1)" text-anchor="middle">46</text></g>
<polyline points="541.2,604.1 543.2,604.1 545.2,604.1 547.3,604.1 549.3,604.1 551.3,604.1 553.4,604.1 555.4,604.1 557.4,604.1 559.5,604.1 561.5,604.1 563.5,604.1 565.5,604.1 567.6,604.1 569.6,604.1 571.6,604.1 573.7,604.1 575.7,604.1 577.7,604.1 579.8,604.1 581.8,604.1 583.8,604.1 585.9,604.1 587.9,604.1 589.9,604.1 592.0,604.1 594.0,604.1 596.0,604.1 598.1,604.1 600.1,604.1 602.1,604.1 604.2,604.1 606.2,604.1 608.2,604.1 610.3,604.1 612.3,604.1 614.3,604.1 616.3,604.1 618.4,604.1 620.4,604.1 622.4,604.1 624.5,604.1 626.5,604.1 628.5,604.1 630.6,604.1 632.6,604.1 634.6,604.1 636.7,604.1 638.7,604.1 640.7,604.1 642.8,604.1 644.8,604.1 646.8,604.1 648.9,604.1 650.9,604.1 652.9,604.1 655.0,604.1 657.0,604.1 659.0,604.1 661.1,604.1 663.1,604.1 665.1,604.1 667.1,604.1 669.2,604.0 671.2,604.0 673.2,603.9 675.3,603.8 677.3,603.7 679.3,603.4 681.4,603.1 683.4,602.7 685.4,602.1 687.5,601.4 689.5,600.4 691.5,599.3 693.6,598.0 695.6,596.4 697.6,594.6 699.7,592.6 701.7,590.3 703.7,587.7 705.8,585.0 707.8,582.0 709.8,578.9 711.9,575.6 713.9,572.1 715.9,568.5 717.9,564.9 720.0,561.2 722.0,557.4 724.0,553.6 726.1,549.8 728.1,546.1" fill="none" stroke="#eab040" stroke-width="1.0" stroke-linejoin="round"/>
<polyline points="541.2,604.1 543.2,604.1 545.2,604.1 547.3,604.1 549.3,604.1 551.3,604.1 553.4,604.1 555.4,604.1 557.4,604.1 559.5,604.1 561.5,604.1 563.5,604.1 565.5,604.1 567.6,604.1 569.6,604.1 571.6,604.1 573.7,604.1 575.7,604.1 577.7,604.1 579.8,604.1 581.8,604.1 583.8,604.1 585.9,604.1 587.9,604.1 589.9,604.1 592.0,604.1 594.0,604.1 596.0,604.1 598.1,604.1 600.1,604.1 602.1,604.1 604.2,604.1 606.2,604.1 608.2,604.1 610.3,604.1 612.3,604.1 614.3,604.1 616.3,604.1 618.4,604.1 620.4,604.1 622.4,604.1 624.5,604.1 626.5,604.1 628.5,604.1 630.6,604.1 632.6,604.1 634.6,604.1 636.7,604.1 638.7,604.1 640.7,604.1 642.8,604.1 644.8,604.1 646.8,604.1 648.9,604.1 650.9,604.1 652.9,604.1 655.0,604.1 657.0,604.1 659.0,604.1 661.1,604.1 663.1,604.1 665.1,604.0 667.1,604.0 669.2,603.9 671.2,603.8 673.2,603.7 675.3,603.5 677.3,603.1 679.3,602.7 681.4,602.2 683.4,601.5 685.4,600.6 687.5,599.5 689.5,598.2 691.5,596.6 693.6,594.8 695.6,592.8 697.6,590.5 699.7,588.0 701.7,585.3 703.7,582.3 705.8,579.2 707.8,575.9 709.8,572.4 711.9,568.8 713.9,565.2 715.9,561.4 717.9,557.6 720.0,553.8 722.0,550.0 724.0,546.2 726.1,542.5 728.1,538.8" fill="none" stroke="#b43a22" stroke-width="1.0" stroke-linejoin="round"/>
<polyline points="541.2,604.1 543.2,604.1 545.2,604.1 547.3,604.1 549.3,604.1 551.3,604.1 553.4,604.1 555.4,604.1 557.4,604.1 559.5,604.1 561.5,604.1 563.5,604.1 565.5,604.1 567.6,604.1 569.6,604.1 571.6,604.1 573.7,604.1 575.7,604.1 577.7,604.1 579.8,604.1 581.8,604.1 583.8,604.1 585.9,604.1 587.9,604.1 589.9,604.1 592.0,604.1 594.0,604.1 596.0,604.1 598.1,604.1 600.1,604.1 602.1,604.1 604.2,604.1 606.2,604.1 608.2,604.1 610.3,604.1 612.3,604.1 614.3,604.1 616.3,604.1 618.4,604.1 620.4,604.1 622.4,604.1 624.5,604.1 626.5,604.1 628.5,604.1 630.6,604.1 632.6,604.1 634.6,604.1 636.7,604.1 638.7,604.1 640.7,604.1 642.8,604.1 644.8,604.1 646.8,604.1 648.9,604.1 650.9,604.1 652.9,604.1 655.0,604.1 657.0,604.1 659.0,604.1 661.1,604.1 663.1,604.0 665.1,604.0 667.1,603.9 669.2,603.7 671.2,603.5 673.2,603.2 675.3,602.8 677.3,602.3 679.3,601.6 681.4,600.7 683.4,599.6 685.4,598.3 687.5,596.8 689.5,595.1 691.5,593.1 693.6,590.8 695.6,588.3 697.6,585.6 699.7,582.6 701.7,579.5 703.7,576.2 705.8,572.7 707.8,569.1 709.8,565.4 711.9,561.7 713.9,557.8 715.9,554.0 717.9,550.2 720.0,546.4 722.0,542.6 724.0,538.9 726.1,535.3 728.1,531.7" fill="none" stroke="#e6dc66" stroke-width="1.0" stroke-linejoin="round"/>
<polyline points="541.2,604.1 543.2,604.1 545.2,604.1 547.3,604.1 549.3,604.1 551.3,604.1 553.4,604.1 555.4,604.1 557.4,604.1 559.5,604.1 561.5,604.1 563.5,604.1 565.5,604.1 567.6,604.1 569.6,604.1 571.6,604.1 573.7,604.1 575.7,604.1 577.7,604.1 579.8,604.1 581.8,604.1 583.8,604.1 585.9,604.1 587.9,604.1 589.9,604.1 592.0,604.1 594.0,604.1 596.0,604.1 598.1,604.1 600.1,604.1 602.1,604.1 604.2,604.1 606.2,604.1 608.2,604.1 610.3,604.1 612.3,604.1 614.3,604.1 616.3,604.1 618.4,604.1 620.4,604.1 622.4,604.1 624.5,604.1 626.5,604.1 628.5,604.1 630.6,604.1 632.6,604.1 634.6,604.1 636.7,604.1 638.7,604.1 640.7,604.1 642.8,604.1 644.8,604.1 646.8,604.1 648.9,604.1 650.9,604.1 652.9,604.1 655.0,604.1 657.0,604.1 659.0,604.0 661.1,604.0 663.1,603.9 665.1,603.7 667.1,603.5 669.2,603.2 671.2,602.9 673.2,602.3 675.3,601.7 677.3,600.8 679.3,599.8 681.4,598.5 683.4,597.0 685.4,595.3 687.5,593.3 689.5,591.1 691.5,588.6 693.6,585.9 695.6,582.9 697.6,579.8 699.7,576.5 701.7,573.0 703.7,569.4 705.8,565.7 707.8,561.9 709.8,558.1 711.9,554.2 713.9,550.4 715.9,546.5 717.9,542.7 720.0,539.0 722.0,535.3 724.0,531.7 726.1,528.2 728.1,524.8" fill="none" stroke="#e89430" stroke-width="1.0" stroke-linejoin="round"/>
<polyline points="541.2,604.1 543.2,604.1 545.2,604.1 547.3,604.1 549.3,604.1 551.3,604.1 553.4,604.1 555.4,604.1 557.4,604.1 559.5,604.1 561.5,604.1 563.5,604.1 565.5,604.1 567.6,604.1 569.6,604.1 571.6,604.1 573.7,604.1 575.7,604.1 577.7,604.1 579.8,604.1 581.8,604.1 583.8,604.1 585.9,604.1 587.9,604.1 589.9,604.1 592.0,604.1 594.0,604.1 596.0,604.1 598.1,604.1 600.1,604.1 602.1,604.1 604.2,604.1 606.2,604.1 608.2,604.1 610.3,604.1 612.3,604.1 614.3,604.1 616.3,604.1 618.4,604.1 620.4,604.1 622.4,604.1 624.5,604.1 626.5,604.1 628.5,604.1 630.6,604.1 632.6,604.1 634.6,604.1 636.7,604.1 638.7,604.1 640.7,604.1 642.8,604.1 644.8,604.1 646.8,604.1 648.9,604.1 650.9,604.1 652.9,604.1 655.0,604.0 657.0,604.0 659.0,603.9 661.1,603.8 663.1,603.6 665.1,603.3 667.1,602.9 669.2,602.4 671.2,601.8 673.2,600.9 675.3,599.9 677.3,598.7 679.3,597.2 681.4,595.5 683.4,593.5 685.4,591.3 687.5,588.9 689.5,586.2 691.5,583.2 693.6,580.1 695.6,576.8 697.6,573.3 699.7,569.7 701.7,566.0 703.7,562.2 705.8,558.3 707.8,554.4 709.8,550.6 711.9,546.7 713.9,542.8 715.9,539.1 717.9,535.3 720.0,531.7 722.0,528.2 724.0,524.8 726.1,521.5 728.1,518.3" fill="none" stroke="#cc4a2a" stroke-width="1.0" stroke-linejoin="round"/>
<polyline points="541.2,604.1 543.2,604.1 545.2,604.1 547.3,604.1 549.3,604.1 551.3,604.1 553.4,604.1 555.4,604.1 557.4,604.1 559.5,604.1 561.5,604.1 563.5,604.1 565.5,604.1 567.6,604.1 569.6,604.1 571.6,604.1 573.7,604.1 575.7,604.1 577.7,604.1 579.8,604.1 581.8,604.1 583.8,604.1 585.9,604.1 587.9,604.1 589.9,604.1 592.0,604.1 594.0,604.1 596.0,604.1 598.1,604.1 600.1,604.1 602.1,604.1 604.2,604.1 606.2,604.1 608.2,604.1 610.3,604.1 612.3,604.1 614.3,604.1 616.3,604.1 618.4,604.1 620.4,604.1 622.4,604.1 624.5,604.1 626.5,604.1 628.5,604.1 630.6,604.1 632.6,604.1 634.6,604.1 636.7,604.1 638.7,604.1 640.7,604.1 642.8,604.1 644.8,604.1 646.8,604.1 648.9,604.1 650.9,604.0 652.9,604.0 655.0,603.9 657.0,603.8 659.0,603.6 661.1,603.3 663.1,603.0 665.1,602.5 667.1,601.8 669.2,601.0 671.2,600.0 673.2,598.8 675.3,597.4 677.3,595.7 679.3,593.8 681.4,591.6 683.4,589.1 685.4,586.5 687.5,583.5 689.5,580.4 691.5,577.1 693.6,573.6 695.6,570.0 697.6,566.3 699.7,562.5 701.7,558.6 703.7,554.7 705.8,550.8 707.8,546.8 709.8,543.0 711.9,539.1 713.9,535.4 715.9,531.7 717.9,528.2 720.0,524.7 722.0,521.3 724.0,518.1 726.1,515.0 728.1,512.1" fill="none" stroke="#ecd040" stroke-width="1.0" stroke-linejoin="round"/>
<polyline points="541.2,604.1 543.2,604.1 545.2,604.1 547.3,604.1 549.3,604.1 551.3,604.1 553.4,604.1 555.4,604.1 557.4,604.1 559.5,604.1 561.5,604.1 563.5,604.1 565.5,604.1 567.6,604.1 569.6,604.1 571.6,604.1 573.7,604.1 575.7,604.1 577.7,604.1 579.8,604.1 581.8,604.1 583.8,604.1 585.9,604.1 587.9,604.1 589.9,604.1 592.0,604.1 594.0,604.1 596.0,604.1 598.1,604.1 600.1,604.1 602.1,604.1 604.2,604.1 606.2,604.1 608.2,604.1 610.3,604.1 612.3,604.1 614.3,604.1 616.3,604.1 618.4,604.1 620.4,604.1 622.4,604.1 624.5,604.1 626.5,604.1 628.5,604.1 630.6,604.1 632.6,604.1 634.6,604.1 636.7,604.1 638.7,604.1 640.7,604.1 642.8,604.1 644.8,604.1 646.8,604.0 648.9,604.0 650.9,603.9 652.9,603.8 655.0,603.6 657.0,603.4 659.0,603.0 661.1,602.6 663.1,601.9 665.1,601.2 667.1,600.2 669.2,599.0 671.2,597.6 673.2,595.9 675.3,594.0 677.3,591.8 679.3,589.4 681.4,586.8 683.4,583.9 685.4,580.7 687.5,577.4 689.5,574.0 691.5,570.3 693.6,566.6 695.6,562.8 697.6,558.9 699.7,554.9 701.7,551.0 703.7,547.0 705.8,543.1 707.8,539.2 709.8,535.5 711.9,531.8 713.9,528.1 715.9,524.6 717.9,521.2 720.0,518.0 722.0,514.8 724.0,511.8 726.1,509.0 728.1,506.2" fill="none" stroke="#e0701c" stroke-width="1.0" stroke-linejoin="round"/>
<polyline points="541.2,604.1 543.2,604.1 545.2,604.1 547.3,604.1 549.3,604.1 551.3,604.1 553.4,604.1 555.4,604.1 557.4,604.1 559.5,604.1 561.5,604.1 563.5,604.1 565.5,604.1 567.6,604.1 569.6,604.1 571.6,604.1 573.7,604.1 575.7,604.1 577.7,604.1 579.8,604.1 581.8,604.1 583.8,604.1 585.9,604.1 587.9,604.1 589.9,604.1 592.0,604.1 594.0,604.1 596.0,604.1 598.1,604.1 600.1,604.1 602.1,604.1 604.2,604.1 606.2,604.1 608.2,604.1 610.3,604.1 612.3,604.1 614.3,604.1 616.3,604.1 618.4,604.1 620.4,604.1 622.4,604.1 624.5,604.1 626.5,604.1 628.5,604.1 630.6,604.1 632.6,604.1 634.6,604.1 636.7,604.1 638.7,604.1 640.7,604.1 642.8,604.0 644.8,604.0 646.8,603.9 648.9,603.8 650.9,603.6 652.9,603.4 655.0,603.1 657.0,602.6 659.0,602.0 661.1,601.3 663.1,600.3 665.1,599.2 667.1,597.8 669.2,596.1 671.2,594.2 673.2,592.1 675.3,589.7 677.3,587.0 679.3,584.2 681.4,581.1 683.4,577.8 685.4,574.3 687.5,570.6 689.5,566.9 691.5,563.0 693.6,559.1 695.6,555.2 697.6,551.2 699.7,547.2 701.7,543.3 703.7,539.4 705.8,535.5 707.8,531.8 709.8,528.1 711.9,524.6 713.9,521.2 715.9,517.8 717.9,514.7 720.0,511.6 722.0,508.7 724.0,505.9 726.1,503.3 728.1,500.7" fill="none" stroke="#c0301e" stroke-width="1.0" stroke-linejoin="round"/>
<line x1="541.10" y1="593.50" x2="728.00" y2="593.50" stroke="#5b9ee6" stroke-width="1.7"/>
<text transform="translate(541.20,592.50) scale(0.5357,1)" font-size="8.96" fill="#c4101a" stroke="#c4101a" stroke-width="0.35"><tspan font-family="Liberation Serif, serif" font-weight="bold">0.073</tspan></text>
<text transform="translate(569.10,448.70) scale(0.9997,1)" font-size="17.00" fill="#000"><tspan font-style="italic">Het</tspan> gDNA</text>
<text transform="translate(569.00,469.50) scale(1.0035,1)" font-size="17.00" fill="#000">(1.25-40ng)</text>
<rect x="733.80" y="423.40" width="203.20" height="203.00" fill="#fff" stroke="#3a3a3a" stroke-width="1.6"/>
<rect x="746.40" y="426.60" width="187.60" height="186.40" fill="#fff" stroke="#d0d0d0" stroke-width="1"/>
<path d="M750.55,426.60V613.00M758.69,426.60V613.00M766.84,426.60V613.00M774.98,426.60V613.00M783.13,426.60V613.00M791.28,426.60V613.00M799.42,426.60V613.00M807.57,426.60V613.00M815.71,426.60V613.00M823.86,426.60V613.00M832.01,426.60V613.00M840.15,426.60V613.00M848.30,426.60V613.00M856.44,426.60V613.00M864.59,426.60V613.00M872.74,426.60V613.00M880.88,426.60V613.00M889.03,426.60V613.00M897.17,426.60V613.00M905.32,426.60V613.00M913.47,426.60V613.00M921.61,426.60V613.00M929.76,426.60V613.00" stroke="#e2e2e2" stroke-width="0.8" stroke-dasharray="1.5,1.5" fill="none"/>
<path d="M746.40,604.40H934.00M746.40,590.19H934.00M746.40,575.98H934.00M746.40,561.77H934.00M746.40,547.56H934.00M746.40,533.35H934.00M746.40,519.14H934.00M746.40,504.93H934.00M746.40,490.72H934.00M746.40,476.51H934.00M746.40,462.30H934.00M746.40,448.09H934.00M746.40,433.88H934.00" stroke="#dcdcdc" stroke-width="1" fill="none"/>
<path d="M746.40,426.60V613.00H934.00" stroke="#8a8a8a" stroke-width="1" fill="none"/>
<path d="M744.90,604.40H746.40M744.90,590.19H746.40M744.90,575.98H746.40M744.90,561.77H746.40M744.90,547.56H746.40M744.90,533.35H746.40M744.90,519.14H746.40M744.90,504.93H746.40M744.90,490.72H746.40M744.90,476.51H746.40M744.90,462.30H746.40M744.90,448.09H746.40M744.90,433.88H746.40M750.55,613.00V614.80M758.69,613.00V614.80M766.84,613.00V614.80M774.98,613.00V614.80M783.13,613.00V614.80M791.28,613.00V614.80M799.42,613.00V614.80M807.57,613.00V614.80M815.71,613.00V614.80M823.86,613.00V614.80M832.01,613.00V614.80M840.15,613.00V614.80M848.30,613.00V614.80M856.44,613.00V614.80M864.59,613.00V614.80M872.74,613.00V614.80M880.88,613.00V614.80M889.03,613.00V614.80M897.17,613.00V614.80M905.32,613.00V614.80M913.47,613.00V614.80M921.61,613.00V614.80M929.76,613.00V614.80" stroke="#666" stroke-width="0.8" fill="none"/>
<g font-size="7.5" font-weight="bold" fill="#333" opacity="0.85"><text transform="translate(744.80,607.10) scale(0.5,1)" text-anchor="end">0.0</text><text transform="translate(744.80,592.89) scale(0.5,1)" text-anchor="end">0.1</text><text transform="translate(744.80,578.68) scale(0.5,1)" text-anchor="end">0.2</text><text transform="translate(744.80,564.47) scale(0.5,1)" text-anchor="end">0.3</text><text transform="translate(744.80,550.26) scale(0.5,1)" text-anchor="end">0.4</text><text transform="translate(744.80,536.05) scale(0.5,1)" text-anchor="end">0.5</text><text transform="translate(744.80,521.84) scale(0.5,1)" text-anchor="end">0.6</text><text transform="translate(744.80,507.63) scale(0.5,1)" text-anchor="end">0.7</text><text transform="translate(744.80,493.42) scale(0.5,1)" text-anchor="end">0.8</text><text transform="translate(744.80,479.21) scale(0.5,1)" text-anchor="end">0.9</text><text transform="translate(744.80,465.00) scale(0.5,1)" text-anchor="end">1.0</text><text transform="translate(744.80,450.79) scale(0.5,1)" text-anchor="end">1.1</text><text transform="translate(744.80,436.58) scale(0.5,1)" text-anchor="end">1.2</text><text transform="translate(750.55,621.60) scale(0.42,1)" text-anchor="middle">2</text><text transform="translate(758.69,621.60) scale(0.42,1)" text-anchor="middle">4</text><text transform="translate(766.84,621.60) scale(0.42,1)" text-anchor="middle">6</text><text transform="translate(774.98,621.60) scale(0.42,1)" text-anchor="middle">8</text><text transform="translate(783.13,621.60) scale(0.42,1)" text-anchor="middle">10</text><text transform="translate(791.28,621.60) scale(0.42,1)" text-anchor="middle">12</text><text transform="translate(799.42,621.60) scale(0.42,1)" text-anchor="middle">14</text><text transform="translate(807.57,621.60) scale(0.42,1)" text-anchor="middle">16</text><text transform="translate(815.71,621.60) scale(0.42,1)" text-anchor="middle">18</text><text transform="translate(823.86,621.60) scale(0.42,1)" text-anchor="middle">20</text><text transform="translate(832.01,621.60) scale(0.42,1)" text-anchor="middle">22</text><text transform="translate(840.15,621.60) scale(0.42,1)" text-anchor="middle">24</text><text transform="translate(848.30,621.60) scale(0.42,1)" text-anchor="middle">26</text><text transform="translate(856.44,621.60) scale(0.42,1)" text-anchor="middle">28</text><text transform="translate(864.59,621.60) scale(0.42,1)" text-anchor="middle">30</text><text transform="translate(872.74,621.60) scale(0.42,1)" text-anchor="middle">32</text><text transform="translate(880.88,621.60) scale(0.42,1)" text-anchor="middle">34</text><text transform="translate(889.03,621.60) scale(0.42,1)" text-anchor="middle">36</text><text transform="translate(897.17,621.60) scale(0.42,1)" text-anchor="middle">38</text><text transform="translate(905.32,621.60) scale(0.42,1)" text-anchor="middle">40</text><text transform="translate(913.47,621.60) scale(0.42,1)" text-anchor="middle">42</text><text transform="translate(921.61,621.60) scale(0.42,1)" text-anchor="middle">44</text><text transform="translate(929.76,621.60) scale(0.42,1)" text-anchor="middle">46</text></g>
<polyline points="746.5,604.4 748.5,604.4 750.5,604.4 752.6,604.4 754.6,604.4 756.7,604.4 758.7,604.4 760.7,604.4 762.8,604.4 764.8,604.4 766.8,604.4 768.9,604.4 770.9,604.4 772.9,604.4 775.0,604.4 777.0,604.4 779.1,604.4 781.1,604.4 783.1,604.4 785.2,604.4 787.2,604.4 789.2,604.4 791.3,604.4 793.3,604.4 795.3,604.4 797.4,604.4 799.4,604.4 801.5,604.4 803.5,604.4 805.5,604.4 807.6,604.4 809.6,604.4 811.6,604.4 813.7,604.4 815.7,604.4 817.8,604.4 819.8,604.4 821.8,604.4 823.9,604.4 825.9,604.4 827.9,604.4 830.0,604.4 832.0,604.4 834.0,604.4 836.1,604.4 838.1,604.4 840.2,604.4 842.2,604.4 844.2,604.4 846.3,604.4 848.3,604.4 850.3,604.4 852.4,604.4 854.4,604.4 856.4,604.4 858.5,604.4 860.5,604.4 862.6,604.4 864.6,604.4 866.6,604.4 868.7,604.4 870.7,604.4 872.7,604.4 874.8,604.4 876.8,604.4 878.8,604.3 880.9,604.2 882.9,604.0 885.0,603.7 887.0,603.2 889.0,602.5 891.1,601.4 893.1,600.0 895.1,598.1 897.2,595.7 899.2,592.8 901.2,589.4 903.3,585.5 905.3,581.1 907.4,576.3 909.4,571.1 911.4,565.7 913.5,560.1 915.5,554.3 917.5,548.4 919.6,542.6 921.6,536.9 923.6,531.3 925.7,525.8 927.7,520.5 929.8,515.5 931.8,510.8 933.8,506.2" fill="none" stroke="#6ad060" stroke-width="1.0" stroke-linejoin="round"/>
<polyline points="746.5,604.4 748.5,604.4 750.5,604.4 752.6,604.4 754.6,604.4 756.7,604.4 758.7,604.4 760.7,604.4 762.8,604.4 764.8,604.4 766.8,604.4 768.9,604.4 770.9,604.4 772.9,604.4 775.0,604.4 777.0,604.4 779.1,604.4 781.1,604.4 783.1,604.4 785.2,604.4 787.2,604.4 789.2,604.4 791.3,604.4 793.3,604.4 795.3,604.4 797.4,604.4 799.4,604.4 801.5,604.4 803.5,604.4 805.5,604.4 807.6,604.4 809.6,604.4 811.6,604.4 813.7,604.4 815.7,604.4 817.8,604.4 819.8,604.4 821.8,604.4 823.9,604.4 825.9,604.4 827.9,604.4 830.0,604.4 832.0,604.4 834.0,604.4 836.1,604.4 838.1,604.4 840.2,604.4 842.2,604.4 844.2,604.4 846.3,604.4 848.3,604.4 850.3,604.4 852.4,604.4 854.4,604.4 856.4,604.4 858.5,604.4 860.5,604.4 862.6,604.4 864.6,604.4 866.6,604.4 868.7,604.4 870.7,604.4 872.7,604.4 874.8,604.3 876.8,604.2 878.8,604.0 880.9,603.7 882.9,603.2 885.0,602.4 887.0,601.3 889.0,599.8 891.1,597.8 893.1,595.3 895.1,592.3 897.2,588.8 899.2,584.7 901.2,580.2 903.3,575.2 905.3,569.9 907.4,564.2 909.4,558.4 911.4,552.4 913.5,546.4 915.5,540.4 917.5,534.4 919.6,528.6 921.6,523.0 923.6,517.6 925.7,512.4 927.7,507.4 929.8,502.8 931.8,498.4 933.8,494.3" fill="none" stroke="#2cb040" stroke-width="1.0" stroke-linejoin="round"/>
<polyline points="746.5,604.4 748.5,604.4 750.5,604.4 752.6,604.4 754.6,604.4 756.7,604.4 758.7,604.4 760.7,604.4 762.8,604.4 764.8,604.4 766.8,604.4 768.9,604.4 770.9,604.4 772.9,604.4 775.0,604.4 777.0,604.4 779.1,604.4 781.1,604.4 783.1,604.4 785.2,604.4 787.2,604.4 789.2,604.4 791.3,604.4 793.3,604.4 795.3,604.4 797.4,604.4 799.4,604.4 801.5,604.4 803.5,604.4 805.5,604.4 807.6,604.4 809.6,604.4 811.6,604.4 813.7,604.4 815.7,604.4 817.8,604.4 819.8,604.4 821.8,604.4 823.9,604.4 825.9,604.4 827.9,604.4 830.0,604.4 832.0,604.4 834.0,604.4 836.1,604.4 838.1,604.4 840.2,604.4 842.2,604.4 844.2,604.4 846.3,604.4 848.3,604.4 850.3,604.4 852.4,604.4 854.4,604.4 856.4,604.4 858.5,604.4 860.5,604.4 862.6,604.4 864.6,604.4 866.6,604.4 868.7,604.4 870.7,604.3 872.7,604.2 874.8,604.0 876.8,603.6 878.8,603.1 880.9,602.3 882.9,601.1 885.0,599.6 887.0,597.5 889.0,594.9 891.1,591.8 893.1,588.2 895.1,583.9 897.2,579.2 899.2,574.1 901.2,568.6 903.3,562.7 905.3,556.7 907.4,550.5 909.4,544.3 911.4,538.1 913.5,531.9 915.5,525.9 917.5,520.1 919.6,514.5 921.6,509.2 923.6,504.1 925.7,499.3 927.7,494.8 929.8,490.6 931.8,486.6 933.8,483.0" fill="none" stroke="#44bca6" stroke-width="1.0" stroke-linejoin="round"/>
<polyline points="746.5,604.4 748.5,604.4 750.5,604.4 752.6,604.4 754.6,604.4 756.7,604.4 758.7,604.4 760.7,604.4 762.8,604.4 764.8,604.4 766.8,604.4 768.9,604.4 770.9,604.4 772.9,604.4 775.0,604.4 777.0,604.4 779.1,604.4 781.1,604.4 783.1,604.4 785.2,604.4 787.2,604.4 789.2,604.4 791.3,604.4 793.3,604.4 795.3,604.4 797.4,604.4 799.4,604.4 801.5,604.4 803.5,604.4 805.5,604.4 807.6,604.4 809.6,604.4 811.6,604.4 813.7,604.4 815.7,604.4 817.8,604.4 819.8,604.4 821.8,604.4 823.9,604.4 825.9,604.4 827.9,604.4 830.0,604.4 832.0,604.4 834.0,604.4 836.1,604.4 838.1,604.4 840.2,604.4 842.2,604.4 844.2,604.4 846.3,604.4 848.3,604.4 850.3,604.4 852.4,604.4 854.4,604.4 856.4,604.4 858.5,604.4 860.5,604.4 862.6,604.4 864.6,604.4 866.6,604.3 868.7,604.2 870.7,604.0 872.7,603.6 874.8,603.0 876.8,602.2 878.8,601.0 880.9,599.3 882.9,597.2 885.0,594.5 887.0,591.3 889.0,587.5 891.1,583.1 893.1,578.3 895.1,572.9 897.2,567.2 899.2,561.2 901.2,554.9 903.3,548.6 905.3,542.1 907.4,535.7 909.4,529.4 911.4,523.2 913.5,517.2 915.5,511.5 917.5,506.0 919.6,500.7 921.6,495.8 923.6,491.1 925.7,486.8 927.7,482.8 929.8,479.0 931.8,475.5 933.8,472.3" fill="none" stroke="#a8da52" stroke-width="1.0" stroke-linejoin="round"/>
<polyline points="746.5,604.4 748.5,604.4 750.5,604.4 752.6,604.4 754.6,604.4 756.7,604.4 758.7,604.4 760.7,604.4 762.8,604.4 764.8,604.4 766.8,604.4 768.9,604.4 770.9,604.4 772.9,604.4 775.0,604.4 777.0,604.4 779.1,604.4 781.1,604.4 783.1,604.4 785.2,604.4 787.2,604.4 789.2,604.4 791.3,604.4 793.3,604.4 795.3,604.4 797.4,604.4 799.4,604.4 801.5,604.4 803.5,604.4 805.5,604.4 807.6,604.4 809.6,604.4 811.6,604.4 813.7,604.4 815.7,604.4 817.8,604.4 819.8,604.4 821.8,604.4 823.9,604.4 825.9,604.4 827.9,604.4 830.0,604.4 832.0,604.4 834.0,604.4 836.1,604.4 838.1,604.4 840.2,604.4 842.2,604.4 844.2,604.4 846.3,604.4 848.3,604.4 850.3,604.4 852.4,604.4 854.4,604.4 856.4,604.4 858.5,604.4 860.5,604.3 862.6,604.3 864.6,604.2 866.6,603.9 868.7,603.6 870.7,603.0 872.7,602.1 874.8,600.8 876.8,599.1 878.8,596.9 880.9,594.1 882.9,590.8 885.0,586.8 887.0,582.3 889.0,577.2 891.1,571.7 893.1,565.8 895.1,559.6 897.2,553.2 899.2,546.6 901.2,540.0 903.3,533.4 905.3,526.8 907.4,520.5 909.4,514.3 911.4,508.4 913.5,502.7 915.5,497.3 917.5,492.2 919.6,487.5 921.6,483.0 923.6,478.8 925.7,475.0 927.7,471.4 929.8,468.1 931.8,465.1 933.8,462.3" fill="none" stroke="#52d050" stroke-width="1.0" stroke-linejoin="round"/>
<polyline points="746.5,604.4 748.5,604.4 750.5,604.4 752.6,604.4 754.6,604.4 756.7,604.4 758.7,604.4 760.7,604.4 762.8,604.4 764.8,604.4 766.8,604.4 768.9,604.4 770.9,604.4 772.9,604.4 775.0,604.4 777.0,604.4 779.1,604.4 781.1,604.4 783.1,604.4 785.2,604.4 787.2,604.4 789.2,604.4 791.3,604.4 793.3,604.4 795.3,604.4 797.4,604.4 799.4,604.4 801.5,604.4 803.5,604.4 805.5,604.4 807.6,604.4 809.6,604.4 811.6,604.4 813.7,604.4 815.7,604.4 817.8,604.4 819.8,604.4 821.8,604.4 823.9,604.4 825.9,604.4 827.9,604.4 830.0,604.4 832.0,604.4 834.0,604.4 836.1,604.4 838.1,604.4 840.2,604.4 842.2,604.4 844.2,604.4 846.3,604.4 848.3,604.4 850.3,604.4 852.4,604.4 854.4,604.4 856.4,604.3 858.5,604.3 860.5,604.1 862.6,603.9 864.6,603.5 866.6,602.9 868.7,602.0 870.7,600.6 872.7,598.9 874.8,596.6 876.8,593.7 878.8,590.2 880.9,586.1 882.9,581.4 885.0,576.2 887.0,570.5 889.0,564.4 891.1,558.0 893.1,551.3 895.1,544.6 897.2,537.7 899.2,530.9 901.2,524.2 903.3,517.7 905.3,511.3 907.4,505.2 909.4,499.4 911.4,493.9 913.5,488.7 915.5,483.8 917.5,479.2 919.6,474.9 921.6,470.9 923.6,467.3 925.7,463.9 927.7,460.8 929.8,457.9 931.8,455.3 933.8,452.9" fill="none" stroke="#3cc486" stroke-width="1.0" stroke-linejoin="round"/>
<polyline points="746.5,604.4 748.5,604.4 750.5,604.4 752.6,604.4 754.6,604.4 756.7,604.4 758.7,604.4 760.7,604.4 762.8,604.4 764.8,604.4 766.8,604.4 768.9,604.4 770.9,604.4 772.9,604.4 775.0,604.4 777.0,604.4 779.1,604.4 781.1,604.4 783.1,604.4 785.2,604.4 787.2,604.4 789.2,604.4 791.3,604.4 793.3,604.4 795.3,604.4 797.4,604.4 799.4,604.4 801.5,604.4 803.5,604.4 805.5,604.4 807.6,604.4 809.6,604.4 811.6,604.4 813.7,604.4 815.7,604.4 817.8,604.4 819.8,604.4 821.8,604.4 823.9,604.4 825.9,604.4 827.9,604.4 830.0,604.4 832.0,604.4 834.0,604.4 836.1,604.4 838.1,604.4 840.2,604.4 842.2,604.4 844.2,604.4 846.3,604.4 848.3,604.4 850.3,604.4 852.4,604.3 854.4,604.3 856.4,604.1 858.5,603.9 860.5,603.5 862.6,602.8 864.6,601.8 866.6,600.5 868.7,598.6 870.7,596.2 872.7,593.2 874.8,589.6 876.8,585.3 878.8,580.5 880.9,575.1 882.9,569.2 885.0,562.9 887.0,556.3 889.0,549.5 891.1,542.5 893.1,535.5 895.1,528.5 897.2,521.6 899.2,514.8 901.2,508.3 903.3,502.0 905.3,496.1 907.4,490.4 909.4,485.0 911.4,480.0 913.5,475.3 915.5,470.9 917.5,466.9 919.6,463.1 921.6,459.6 923.6,456.5 925.7,453.5 927.7,450.8 929.8,448.4 931.8,446.2 933.8,444.1" fill="none" stroke="#8ed444" stroke-width="1.0" stroke-linejoin="round"/>
<polyline points="746.5,604.4 748.5,604.4 750.5,604.4 752.6,604.4 754.6,604.4 756.7,604.4 758.7,604.4 760.7,604.4 762.8,604.4 764.8,604.4 766.8,604.4 768.9,604.4 770.9,604.4 772.9,604.4 775.0,604.4 777.0,604.4 779.1,604.4 781.1,604.4 783.1,604.4 785.2,604.4 787.2,604.4 789.2,604.4 791.3,604.4 793.3,604.4 795.3,604.4 797.4,604.4 799.4,604.4 801.5,604.4 803.5,604.4 805.5,604.4 807.6,604.4 809.6,604.4 811.6,604.4 813.7,604.4 815.7,604.4 817.8,604.4 819.8,604.4 821.8,604.4 823.9,604.4 825.9,604.4 827.9,604.4 830.0,604.4 832.0,604.4 834.0,604.4 836.1,604.4 838.1,604.4 840.2,604.4 842.2,604.4 844.2,604.4 846.3,604.4 848.3,604.3 850.3,604.3 852.4,604.1 854.4,603.8 856.4,603.4 858.5,602.7 860.5,601.7 862.6,600.3 864.6,598.3 866.6,595.8 868.7,592.7 870.7,588.9 872.7,584.6 874.8,579.5 876.8,574.0 878.8,567.9 880.9,561.4 882.9,554.6 885.0,547.5 887.0,540.4 889.0,533.1 891.1,525.9 893.1,518.9 895.1,511.9 897.2,505.3 899.2,498.8 901.2,492.7 903.3,486.9 905.3,481.4 907.4,476.2 909.4,471.4 911.4,466.9 913.5,462.8 915.5,458.9 917.5,455.4 919.6,452.1 921.6,449.1 923.6,446.4 925.7,443.9 927.7,441.6 929.8,439.5 931.8,437.6 933.8,435.9" fill="none" stroke="#34c43a" stroke-width="1.0" stroke-linejoin="round"/>
<line x1="746.40" y1="594.00" x2="934.00" y2="594.00" stroke="#5b9ee6" stroke-width="1.7"/>
<text transform="translate(746.50,593.00) scale(0.5308,1)" font-size="8.96" fill="#c4101a" stroke="#c4101a" stroke-width="0.35"><tspan font-family="Liberation Serif, serif" font-weight="bold">0.073</tspan></text>
<text transform="translate(772.20,448.70) scale(1.0023,1)" font-size="17.00" fill="#000"><tspan font-style="italic">Het</tspan> gDNA</text>
<text transform="translate(771.80,469.50) scale(1.0069,1)" font-size="17.00" fill="#000">(1.25-40ng)</text>
<rect x="940.90" y="423.40" width="203.10" height="203.00" fill="#fff" stroke="#3a3a3a" stroke-width="1.6"/>
<rect x="950.80" y="427.80" width="189.20" height="184.80" fill="#fff" stroke="#d0d0d0" stroke-width="1"/>
<path d="M955.02,427.80V612.60M963.24,427.80V612.60M971.45,427.80V612.60M979.67,427.80V612.60M987.89,427.80V612.60M996.11,427.80V612.60M1004.33,427.80V612.60M1012.54,427.80V612.60M1020.76,427.80V612.60M1028.98,427.80V612.60M1037.20,427.80V612.60M1045.42,427.80V612.60M1053.63,427.80V612.60M1061.85,427.80V612.60M1070.07,427.80V612.60M1078.29,427.80V612.60M1086.51,427.80V612.60M1094.72,427.80V612.60M1102.94,427.80V612.60M1111.16,427.80V612.60M1119.38,427.80V612.60M1127.60,427.80V612.60M1135.81,427.80V612.60" stroke="#e2e2e2" stroke-width="0.8" stroke-dasharray="1.5,1.5" fill="none"/>
<path d="M950.80,603.70H1140.00M950.80,587.66H1140.00M950.80,571.62H1140.00M950.80,555.58H1140.00M950.80,539.54H1140.00M950.80,523.50H1140.00M950.80,507.46H1140.00M950.80,491.42H1140.00M950.80,475.38H1140.00M950.80,459.34H1140.00M950.80,443.30H1140.00" stroke="#dcdcdc" stroke-width="1" fill="none"/>
<path d="M950.80,427.80V612.60H1140.00" stroke="#8a8a8a" stroke-width="1" fill="none"/>
<path d="M949.30,603.70H950.80M949.30,587.66H950.80M949.30,571.62H950.80M949.30,555.58H950.80M949.30,539.54H950.80M949.30,523.50H950.80M949.30,507.46H950.80M949.30,491.42H950.80M949.30,475.38H950.80M949.30,459.34H950.80M949.30,443.30H950.80M955.02,612.60V614.40M963.24,612.60V614.40M971.45,612.60V614.40M979.67,612.60V614.40M987.89,612.60V614.40M996.11,612.60V614.40M1004.33,612.60V614.40M1012.54,612.60V614.40M1020.76,612.60V614.40M1028.98,612.60V614.40M1037.20,612.60V614.40M1045.42,612.60V614.40M1053.63,612.60V614.40M1061.85,612.60V614.40M1070.07,612.60V614.40M1078.29,612.60V614.40M1086.51,612.60V614.40M1094.72,612.60V614.40M1102.94,612.60V614.40M1111.16,612.60V614.40M1119.38,612.60V614.40M1127.60,612.60V614.40M1135.81,612.60V614.40" stroke="#666" stroke-width="0.8" fill="none"/>
<g font-size="7.5" font-weight="bold" fill="#333" opacity="0.85"><text transform="translate(949.20,606.40) scale(0.5,1)" text-anchor="end">0.0</text><text transform="translate(949.20,590.36) scale(0.5,1)" text-anchor="end">0.1</text><text transform="translate(949.20,574.32) scale(0.5,1)" text-anchor="end">0.2</text><text transform="translate(949.20,558.28) scale(0.5,1)" text-anchor="end">0.3</text><text transform="translate(949.20,542.24) scale(0.5,1)" text-anchor="end">0.4</text><text transform="translate(949.20,526.20) scale(0.5,1)" text-anchor="end">0.5</text><text transform="translate(949.20,510.16) scale(0.5,1)" text-anchor="end">0.6</text><text transform="translate(949.20,494.12) scale(0.5,1)" text-anchor="end">0.7</text><text transform="translate(949.20,478.08) scale(0.5,1)" text-anchor="end">0.8</text><text transform="translate(949.20,462.04) scale(0.5,1)" text-anchor="end">0.9</text><text transform="translate(949.20,446.00) scale(0.5,1)" text-anchor="end">1.0</text><text transform="translate(955.02,621.20) scale(0.42,1)" text-anchor="middle">2</text><text transform="translate(963.24,621.20) scale(0.42,1)" text-anchor="middle">4</text><text transform="translate(971.45,621.20) scale(0.42,1)" text-anchor="middle">6</text><text transform="translate(979.67,621.20) scale(0.42,1)" text-anchor="middle">8</text><text transform="translate(987.89,621.20) scale(0.42,1)" text-anchor="middle">10</text><text transform="translate(996.11,621.20) scale(0.42,1)" text-anchor="middle">12</text><text transform="translate(1004.33,621.20) scale(0.42,1)" text-anchor="middle">14</text><text transform="translate(1012.54,621.20) scale(0.42,1)" text-anchor="middle">16</text><text transform="translate(1020.76,621.20) scale(0.42,1)" text-anchor="middle">18</text><text transform="translate(1028.98,621.20) scale(0.42,1)" text-anchor="middle">20</text><text transform="translate(1037.20,621.20) scale(0.42,1)" text-anchor="middle">22</text><text transform="translate(1045.42,621.20) scale(0.42,1)" text-anchor="middle">24</text><text transform="translate(1053.63,621.20) scale(0.42,1)" text-anchor="middle">26</text><text transform="translate(1061.85,621.20) scale(0.42,1)" text-anchor="middle">28</text><text transform="translate(1070.07,621.20) scale(0.42,1)" text-anchor="middle">30</text><text transform="translate(1078.29,621.20) scale(0.42,1)" text-anchor="middle">32</text><text transform="translate(1086.51,621.20) scale(0.42,1)" text-anchor="middle">34</text><text transform="translate(1094.72,621.20) scale(0.42,1)" text-anchor="middle">36</text><text transform="translate(1102.94,621.20) scale(0.42,1)" text-anchor="middle">38</text><text transform="translate(1111.16,621.20) scale(0.42,1)" text-anchor="middle">40</text><text transform="translate(1119.38,621.20) scale(0.42,1)" text-anchor="middle">42</text><text transform="translate(1127.60,621.20) scale(0.42,1)" text-anchor="middle">44</text><text transform="translate(1135.81,621.20) scale(0.42,1)" text-anchor="middle">46</text></g>
<polyline points="950.9,603.7 953.0,603.7 955.0,603.7 957.1,603.7 959.1,603.7 961.2,603.7 963.2,603.7 965.3,603.7 967.3,603.7 969.4,603.7 971.5,603.7 973.5,603.7 975.6,603.7 977.6,603.7 979.7,603.7 981.7,603.7 983.8,603.7 985.8,603.7 987.9,603.7 989.9,603.7 992.0,603.7 994.1,603.7 996.1,603.7 998.2,603.7 1000.2,603.7 1002.3,603.7 1004.3,603.7 1006.4,603.7 1008.4,603.7 1010.5,603.7 1012.5,603.7 1014.6,603.7 1016.7,603.7 1018.7,603.7 1020.8,603.7 1022.8,603.7 1024.9,603.7 1026.9,603.7 1029.0,603.7 1031.0,603.7 1033.1,603.7 1035.1,603.7 1037.2,603.7 1039.3,603.7 1041.3,603.7 1043.4,603.7 1045.4,603.7 1047.5,603.7 1049.5,603.7 1051.6,603.7 1053.6,603.7 1055.7,603.7 1057.7,603.7 1059.8,603.7 1061.9,603.6 1063.9,603.5 1066.0,603.3 1068.0,602.8 1070.1,602.0 1072.1,600.6 1074.2,598.4 1076.2,595.4 1078.3,591.4 1080.3,586.3 1082.4,580.4 1084.5,573.5 1086.5,566.0 1088.6,558.0 1090.6,549.7 1092.7,541.3 1094.7,532.9 1096.8,524.8 1098.8,516.9 1100.9,509.5 1102.9,502.6 1105.0,496.2 1107.1,490.3 1109.1,485.0 1111.2,480.1 1113.2,475.8 1115.3,471.8 1117.3,468.4 1119.4,465.3 1121.4,462.5 1123.5,460.1 1125.5,458.0 1127.6,456.1 1129.7,454.5 1131.7,453.0 1133.8,451.8 1135.8,450.7 1137.9,449.7 1139.9,448.9" fill="none" stroke="#b43a22" stroke-width="1.0" stroke-linejoin="round"/>
<polyline points="950.9,603.7 953.0,603.7 955.0,603.7 957.1,603.7 959.1,603.7 961.2,603.7 963.2,603.7 965.3,603.7 967.3,603.7 969.4,603.7 971.5,603.7 973.5,603.7 975.6,603.7 977.6,603.7 979.7,603.7 981.7,603.7 983.8,603.7 985.8,603.7 987.9,603.7 989.9,603.7 992.0,603.7 994.1,603.7 996.1,603.7 998.2,603.7 1000.2,603.7 1002.3,603.7 1004.3,603.7 1006.4,603.7 1008.4,603.7 1010.5,603.7 1012.5,603.7 1014.6,603.7 1016.7,603.7 1018.7,603.7 1020.8,603.7 1022.8,603.7 1024.9,603.7 1026.9,603.7 1029.0,603.7 1031.0,603.7 1033.1,603.7 1035.1,603.7 1037.2,603.7 1039.3,603.7 1041.3,603.7 1043.4,603.7 1045.4,603.7 1047.5,603.7 1049.5,603.7 1051.6,603.7 1053.6,603.7 1055.7,603.7 1057.7,603.7 1059.8,603.6 1061.9,603.4 1063.9,603.0 1066.0,602.2 1068.0,601.0 1070.1,599.0 1072.1,596.2 1074.2,592.4 1076.2,587.6 1078.3,581.8 1080.3,575.2 1082.4,567.8 1084.5,559.8 1086.5,551.5 1088.6,543.0 1090.6,534.6 1092.7,526.3 1094.7,518.4 1096.8,510.8 1098.8,503.7 1100.9,497.1 1102.9,491.1 1105.0,485.5 1107.1,480.5 1109.1,476.0 1111.2,471.9 1113.2,468.3 1115.3,465.1 1117.3,462.3 1119.4,459.8 1121.4,457.5 1123.5,455.6 1125.5,453.9 1127.6,452.4 1129.7,451.1 1131.7,449.9 1133.8,448.9 1135.8,448.0 1137.9,447.3 1139.9,446.6" fill="none" stroke="#e6dc66" stroke-width="1.0" stroke-linejoin="round"/>
<polyline points="950.9,603.7 953.0,603.7 955.0,603.7 957.1,603.7 959.1,603.7 961.2,603.7 963.2,603.7 965.3,603.7 967.3,603.7 969.4,603.7 971.5,603.7 973.5,603.7 975.6,603.7 977.6,603.7 979.7,603.7 981.7,603.7 983.8,603.7 985.8,603.7 987.9,603.7 989.9,603.7 992.0,603.7 994.1,603.7 996.1,603.7 998.2,603.7 1000.2,603.7 1002.3,603.7 1004.3,603.7 1006.4,603.7 1008.4,603.7 1010.5,603.7 1012.5,603.7 1014.6,603.7 1016.7,603.7 1018.7,603.7 1020.8,603.7 1022.8,603.7 1024.9,603.7 1026.9,603.7 1029.0,603.7 1031.0,603.7 1033.1,603.7 1035.1,603.7 1037.2,603.7 1039.3,603.7 1041.3,603.7 1043.4,603.7 1045.4,603.7 1047.5,603.7 1049.5,603.7 1051.6,603.7 1053.6,603.7 1055.7,603.6 1057.7,603.5 1059.8,603.1 1061.9,602.5 1063.9,601.4 1066.0,599.6 1068.0,597.0 1070.1,593.4 1072.1,588.9 1074.2,583.3 1076.2,576.8 1078.3,569.5 1080.3,561.6 1082.4,553.3 1084.5,544.8 1086.5,536.3 1088.6,527.9 1090.6,519.8 1092.7,512.1 1094.7,504.8 1096.8,498.1 1098.8,491.8 1100.9,486.1 1102.9,481.0 1105.0,476.3 1107.1,472.1 1109.1,468.3 1111.2,465.0 1113.2,462.0 1115.3,459.4 1117.3,457.1 1119.4,455.1 1121.4,453.3 1123.5,451.7 1125.5,450.4 1127.6,449.2 1129.7,448.1 1131.7,447.2 1133.8,446.4 1135.8,445.7 1137.9,445.1 1139.9,444.6" fill="none" stroke="#e89430" stroke-width="1.0" stroke-linejoin="round"/>
<polyline points="950.9,603.7 953.0,603.7 955.0,603.7 957.1,603.7 959.1,603.7 961.2,603.7 963.2,603.7 965.3,603.7 967.3,603.7 969.4,603.7 971.5,603.7 973.5,603.7 975.6,603.7 977.6,603.7 979.7,603.7 981.7,603.7 983.8,603.7 985.8,603.7 987.9,603.7 989.9,603.7 992.0,603.7 994.1,603.7 996.1,603.7 998.2,603.7 1000.2,603.7 1002.3,603.7 1004.3,603.7 1006.4,603.7 1008.4,603.7 1010.5,603.7 1012.5,603.7 1014.6,603.7 1016.7,603.7 1018.7,603.7 1020.8,603.7 1022.8,603.7 1024.9,603.7 1026.9,603.7 1029.0,603.7 1031.0,603.7 1033.1,603.7 1035.1,603.7 1037.2,603.7 1039.3,603.7 1041.3,603.7 1043.4,603.7 1045.4,603.7 1047.5,603.7 1049.5,603.7 1051.6,603.6 1053.6,603.5 1055.7,603.2 1057.7,602.7 1059.8,601.7 1061.9,600.1 1063.9,597.7 1066.0,594.4 1068.0,590.0 1070.1,584.7 1072.1,578.4 1074.2,571.3 1076.2,563.5 1078.3,555.2 1080.3,546.7 1082.4,538.1 1084.5,529.6 1086.5,521.4 1088.6,513.5 1090.6,506.0 1092.7,499.1 1094.7,492.7 1096.8,486.8 1098.8,481.4 1100.9,476.6 1102.9,472.3 1105.0,468.4 1107.1,464.9 1109.1,461.8 1111.2,459.1 1113.2,456.7 1115.3,454.6 1117.3,452.8 1119.4,451.1 1121.4,449.7 1123.5,448.5 1125.5,447.4 1127.6,446.4 1129.7,445.6 1131.7,444.9 1133.8,444.2 1135.8,443.7 1137.9,443.2 1139.9,442.8" fill="none" stroke="#cc4a2a" stroke-width="1.0" stroke-linejoin="round"/>
<polyline points="950.9,603.7 953.0,603.7 955.0,603.7 957.1,603.7 959.1,603.7 961.2,603.7 963.2,603.7 965.3,603.7 967.3,603.7 969.4,603.7 971.5,603.7 973.5,603.7 975.6,603.7 977.6,603.7 979.7,603.7 981.7,603.7 983.8,603.7 985.8,603.7 987.9,603.7 989.9,603.7 992.0,603.7 994.1,603.7 996.1,603.7 998.2,603.7 1000.2,603.7 1002.3,603.7 1004.3,603.7 1006.4,603.7 1008.4,603.7 1010.5,603.7 1012.5,603.7 1014.6,603.7 1016.7,603.7 1018.7,603.7 1020.8,603.7 1022.8,603.7 1024.9,603.7 1026.9,603.7 1029.0,603.7 1031.0,603.7 1033.1,603.7 1035.1,603.7 1037.2,603.7 1039.3,603.7 1041.3,603.7 1043.4,603.7 1045.4,603.7 1047.5,603.6 1049.5,603.6 1051.6,603.3 1053.6,602.8 1055.7,602.0 1057.7,600.5 1059.8,598.4 1061.9,595.3 1063.9,591.2 1066.0,586.1 1068.0,580.0 1070.1,573.0 1072.1,565.3 1074.2,557.1 1076.2,548.5 1078.3,539.9 1080.3,531.3 1082.4,522.9 1084.5,514.9 1086.5,507.3 1088.6,500.2 1090.6,493.6 1092.7,487.5 1094.7,482.0 1096.8,477.0 1098.8,472.5 1100.9,468.5 1102.9,464.9 1105.0,461.7 1107.1,458.9 1109.1,456.4 1111.2,454.2 1113.2,452.2 1115.3,450.5 1117.3,449.0 1119.4,447.7 1121.4,446.6 1123.5,445.6 1125.5,444.8 1127.6,444.0 1129.7,443.4 1131.7,442.8 1133.8,442.3 1135.8,441.9 1137.9,441.5 1139.9,441.2" fill="none" stroke="#ecd040" stroke-width="1.0" stroke-linejoin="round"/>
<polyline points="950.9,603.7 953.0,603.7 955.0,603.7 957.1,603.7 959.1,603.7 961.2,603.7 963.2,603.7 965.3,603.7 967.3,603.7 969.4,603.7 971.5,603.7 973.5,603.7 975.6,603.7 977.6,603.7 979.7,603.7 981.7,603.7 983.8,603.7 985.8,603.7 987.9,603.7 989.9,603.7 992.0,603.7 994.1,603.7 996.1,603.7 998.2,603.7 1000.2,603.7 1002.3,603.7 1004.3,603.7 1006.4,603.7 1008.4,603.7 1010.5,603.7 1012.5,603.7 1014.6,603.7 1016.7,603.7 1018.7,603.7 1020.8,603.7 1022.8,603.7 1024.9,603.7 1026.9,603.7 1029.0,603.7 1031.0,603.7 1033.1,603.7 1035.1,603.7 1037.2,603.7 1039.3,603.7 1041.3,603.7 1043.4,603.7 1045.4,603.6 1047.5,603.4 1049.5,603.0 1051.6,602.2 1053.6,601.0 1055.7,599.0 1057.7,596.1 1059.8,592.3 1061.9,587.4 1063.9,581.5 1066.0,574.7 1068.0,567.1 1070.1,558.9 1072.1,550.4 1074.2,541.7 1076.2,533.0 1078.3,524.6 1080.3,516.4 1082.4,508.6 1084.5,501.3 1086.5,494.5 1088.6,488.3 1090.6,482.6 1092.7,477.4 1094.7,472.8 1096.8,468.6 1098.8,464.9 1100.9,461.5 1102.9,458.6 1105.0,456.0 1107.1,453.7 1109.1,451.7 1111.2,450.0 1113.2,448.4 1115.3,447.1 1117.3,445.9 1119.4,444.8 1121.4,443.9 1123.5,443.2 1125.5,442.5 1127.6,441.9 1129.7,441.4 1131.7,440.9 1133.8,440.5 1135.8,440.2 1137.9,439.9 1139.9,439.6" fill="none" stroke="#e0701c" stroke-width="1.0" stroke-linejoin="round"/>
<polyline points="950.9,603.7 953.0,603.7 955.0,603.7 957.1,603.7 959.1,603.7 961.2,603.7 963.2,603.7 965.3,603.7 967.3,603.7 969.4,603.7 971.5,603.7 973.5,603.7 975.6,603.7 977.6,603.7 979.7,603.7 981.7,603.7 983.8,603.7 985.8,603.7 987.9,603.7 989.9,603.7 992.0,603.7 994.1,603.7 996.1,603.7 998.2,603.7 1000.2,603.7 1002.3,603.7 1004.3,603.7 1006.4,603.7 1008.4,603.7 1010.5,603.7 1012.5,603.7 1014.6,603.7 1016.7,603.7 1018.7,603.7 1020.8,603.7 1022.8,603.7 1024.9,603.7 1026.9,603.7 1029.0,603.7 1031.0,603.7 1033.1,603.7 1035.1,603.7 1037.2,603.7 1039.3,603.7 1041.3,603.6 1043.4,603.5 1045.4,603.1 1047.5,602.5 1049.5,601.3 1051.6,599.5 1053.6,596.9 1055.7,593.3 1057.7,588.6 1059.8,583.0 1061.9,576.3 1063.9,568.9 1066.0,560.8 1068.0,552.3 1070.1,543.6 1072.1,534.8 1074.2,526.2 1076.2,517.9 1078.3,510.0 1080.3,502.5 1082.4,495.5 1084.5,489.1 1086.5,483.2 1088.6,477.9 1090.6,473.1 1092.7,468.8 1094.7,464.9 1096.8,461.5 1098.8,458.4 1100.9,455.7 1102.9,453.3 1105.0,451.2 1107.1,449.4 1109.1,447.8 1111.2,446.4 1113.2,445.1 1115.3,444.1 1117.3,443.1 1119.4,442.3 1121.4,441.6 1123.5,441.0 1125.5,440.4 1127.6,440.0 1129.7,439.6 1131.7,439.2 1133.8,438.9 1135.8,438.6 1137.9,438.4 1139.9,438.2" fill="none" stroke="#c0301e" stroke-width="1.0" stroke-linejoin="round"/>
<line x1="950.80" y1="577.80" x2="1140.00" y2="577.80" stroke="#c6e33a" stroke-width="1.7"/>
<text transform="translate(951.00,576.50) scale(0.5506,1)" font-size="8.96" fill="#c4101a" stroke="#c4101a" stroke-width="0.35"><tspan font-family="Liberation Serif, serif" font-weight="bold">0.162478</tspan></text>
<text transform="translate(976.40,448.70) scale(1.0023,1)" font-size="17.00" fill="#000"><tspan font-style="italic">Het</tspan> gDNA</text>
<text transform="translate(976.10,469.50) scale(1.0081,1)" font-size="17.00" fill="#000">(1.25-40ng)</text>
<rect x="1147.80" y="423.40" width="202.70" height="203.00" fill="#fff" stroke="#3a3a3a" stroke-width="1.6"/>
<rect x="1156.00" y="426.60" width="190.90" height="186.00" fill="#fff" stroke="#d0d0d0" stroke-width="1"/>
<path d="M1160.00,426.60V612.60M1168.29,426.60V612.60M1176.59,426.60V612.60M1184.88,426.60V612.60M1193.18,426.60V612.60M1201.48,426.60V612.60M1209.77,426.60V612.60M1218.07,426.60V612.60M1226.36,426.60V612.60M1234.66,426.60V612.60M1242.96,426.60V612.60M1251.25,426.60V612.60M1259.55,426.60V612.60M1267.84,426.60V612.60M1276.14,426.60V612.60M1284.44,426.60V612.60M1292.73,426.60V612.60M1301.03,426.60V612.60M1309.32,426.60V612.60M1317.62,426.60V612.60M1325.92,426.60V612.60M1334.21,426.60V612.60M1342.51,426.60V612.60" stroke="#e2e2e2" stroke-width="0.8" stroke-dasharray="1.5,1.5" fill="none"/>
<path d="M1156.00,603.70H1346.90M1156.00,587.44H1346.90M1156.00,571.18H1346.90M1156.00,554.92H1346.90M1156.00,538.66H1346.90M1156.00,522.40H1346.90M1156.00,506.14H1346.90M1156.00,489.88H1346.90M1156.00,473.62H1346.90M1156.00,457.36H1346.90M1156.00,441.10H1346.90" stroke="#dcdcdc" stroke-width="1" fill="none"/>
<path d="M1156.00,426.60V612.60H1346.90" stroke="#8a8a8a" stroke-width="1" fill="none"/>
<path d="M1154.50,603.70H1156.00M1154.50,587.44H1156.00M1154.50,571.18H1156.00M1154.50,554.92H1156.00M1154.50,538.66H1156.00M1154.50,522.40H1156.00M1154.50,506.14H1156.00M1154.50,489.88H1156.00M1154.50,473.62H1156.00M1154.50,457.36H1156.00M1154.50,441.10H1156.00M1160.00,612.60V614.40M1168.29,612.60V614.40M1176.59,612.60V614.40M1184.88,612.60V614.40M1193.18,612.60V614.40M1201.48,612.60V614.40M1209.77,612.60V614.40M1218.07,612.60V614.40M1226.36,612.60V614.40M1234.66,612.60V614.40M1242.96,612.60V614.40M1251.25,612.60V614.40M1259.55,612.60V614.40M1267.84,612.60V614.40M1276.14,612.60V614.40M1284.44,612.60V614.40M1292.73,612.60V614.40M1301.03,612.60V614.40M1309.32,612.60V614.40M1317.62,612.60V614.40M1325.92,612.60V614.40M1334.21,612.60V614.40M1342.51,612.60V614.40" stroke="#666" stroke-width="0.8" fill="none"/>
<g font-size="7.5" font-weight="bold" fill="#333" opacity="0.85"><text transform="translate(1154.40,606.40) scale(0.5,1)" text-anchor="end">0.0</text><text transform="translate(1154.40,590.14) scale(0.5,1)" text-anchor="end">0.1</text><text transform="translate(1154.40,573.88) scale(0.5,1)" text-anchor="end">0.2</text><text transform="translate(1154.40,557.62) scale(0.5,1)" text-anchor="end">0.3</text><text transform="translate(1154.40,541.36) scale(0.5,1)" text-anchor="end">0.4</text><text transform="translate(1154.40,525.10) scale(0.5,1)" text-anchor="end">0.5</text><text transform="translate(1154.40,508.84) scale(0.5,1)" text-anchor="end">0.6</text><text transform="translate(1154.40,492.58) scale(0.5,1)" text-anchor="end">0.7</text><text transform="translate(1154.40,476.32) scale(0.5,1)" text-anchor="end">0.8</text><text transform="translate(1154.40,460.06) scale(0.5,1)" text-anchor="end">0.9</text><text transform="translate(1154.40,443.80) scale(0.5,1)" text-anchor="end">1.0</text><text transform="translate(1160.00,621.20) scale(0.42,1)" text-anchor="middle">2</text><text transform="translate(1168.29,621.20) scale(0.42,1)" text-anchor="middle">4</text><text transform="translate(1176.59,621.20) scale(0.42,1)" text-anchor="middle">6</text><text transform="translate(1184.88,621.20) scale(0.42,1)" text-anchor="middle">8</text><text transform="translate(1193.18,621.20) scale(0.42,1)" text-anchor="middle">10</text><text transform="translate(1201.48,621.20) scale(0.42,1)" text-anchor="middle">12</text><text transform="translate(1209.77,621.20) scale(0.42,1)" text-anchor="middle">14</text><text transform="translate(1218.07,621.20) scale(0.42,1)" text-anchor="middle">16</text><text transform="translate(1226.36,621.20) scale(0.42,1)" text-anchor="middle">18</text><text transform="translate(1234.66,621.20) scale(0.42,1)" text-anchor="middle">20</text><text transform="translate(1242.96,621.20) scale(0.42,1)" text-anchor="middle">22</text><text transform="translate(1251.25,621.20) scale(0.42,1)" text-anchor="middle">24</text><text transform="translate(1259.55,621.20) scale(0.42,1)" text-anchor="middle">26</text><text transform="translate(1267.84,621.20) scale(0.42,1)" text-anchor="middle">28</text><text transform="translate(1276.14,621.20) scale(0.42,1)" text-anchor="middle">30</text><text transform="translate(1284.44,621.20) scale(0.42,1)" text-anchor="middle">32</text><text transform="translate(1292.73,621.20) scale(0.42,1)" text-anchor="middle">34</text><text transform="translate(1301.03,621.20) scale(0.42,1)" text-anchor="middle">36</text><text transform="translate(1309.32,621.20) scale(0.42,1)" text-anchor="middle">38</text><text transform="translate(1317.62,621.20) scale(0.42,1)" text-anchor="middle">40</text><text transform="translate(1325.92,621.20) scale(0.42,1)" text-anchor="middle">42</text><text transform="translate(1334.21,621.20) scale(0.42,1)" text-anchor="middle">44</text><text transform="translate(1342.51,621.20) scale(0.42,1)" text-anchor="middle">46</text></g>
<polyline points="1155.8,603.7 1157.9,603.7 1160.0,603.7 1162.1,603.7 1164.1,603.7 1166.2,603.7 1168.3,603.7 1170.4,603.7 1172.4,603.7 1174.5,603.7 1176.6,603.7 1178.7,603.7 1180.7,603.7 1182.8,603.7 1184.9,603.7 1187.0,603.7 1189.0,603.7 1191.1,603.7 1193.2,603.7 1195.3,603.7 1197.3,603.7 1199.4,603.7 1201.5,603.7 1203.5,603.7 1205.6,603.7 1207.7,603.7 1209.8,603.7 1211.8,603.7 1213.9,603.7 1216.0,603.7 1218.1,603.7 1220.1,603.7 1222.2,603.7 1224.3,603.7 1226.4,603.7 1228.4,603.7 1230.5,603.7 1232.6,603.7 1234.7,603.7 1236.7,603.7 1238.8,603.7 1240.9,603.7 1243.0,603.7 1245.0,603.7 1247.1,603.7 1249.2,603.7 1251.3,603.7 1253.3,603.7 1255.4,603.7 1257.5,603.7 1259.5,603.7 1261.6,603.7 1263.7,603.7 1265.8,603.7 1267.8,603.7 1269.9,603.6 1272.0,603.4 1274.1,603.1 1276.1,602.3 1278.2,601.0 1280.3,599.0 1282.4,595.9 1284.4,591.8 1286.5,586.5 1288.6,580.2 1290.7,572.9 1292.7,564.8 1294.8,556.2 1296.9,547.3 1299.0,538.4 1301.0,529.5 1303.1,521.0 1305.2,512.9 1307.2,505.3 1309.3,498.2 1311.4,491.8 1313.5,485.9 1315.5,480.6 1317.6,475.9 1319.7,471.7 1321.8,467.9 1323.8,464.6 1325.9,461.8 1328.0,459.2 1330.1,457.0 1332.1,455.1 1334.2,453.4 1336.3,451.9 1338.4,450.7 1340.4,449.6 1342.5,448.6 1344.6,447.8 1346.7,447.1" fill="none" stroke="#2cb040" stroke-width="1.0" stroke-linejoin="round"/>
<polyline points="1155.8,603.7 1157.9,603.7 1160.0,603.7 1162.1,603.7 1164.1,603.7 1166.2,603.7 1168.3,603.7 1170.4,603.7 1172.4,603.7 1174.5,603.7 1176.6,603.7 1178.7,603.7 1180.7,603.7 1182.8,603.7 1184.9,603.7 1187.0,603.7 1189.0,603.7 1191.1,603.7 1193.2,603.7 1195.3,603.7 1197.3,603.7 1199.4,603.7 1201.5,603.7 1203.5,603.7 1205.6,603.7 1207.7,603.7 1209.8,603.7 1211.8,603.7 1213.9,603.7 1216.0,603.7 1218.1,603.7 1220.1,603.7 1222.2,603.7 1224.3,603.7 1226.4,603.7 1228.4,603.7 1230.5,603.7 1232.6,603.7 1234.7,603.7 1236.7,603.7 1238.8,603.7 1240.9,603.7 1243.0,603.7 1245.0,603.7 1247.1,603.7 1249.2,603.7 1251.3,603.7 1253.3,603.7 1255.4,603.7 1257.5,603.7 1259.5,603.7 1261.6,603.7 1263.7,603.7 1265.8,603.6 1267.8,603.5 1269.9,603.2 1272.0,602.5 1274.1,601.3 1276.1,599.3 1278.2,596.4 1280.3,592.4 1282.4,587.3 1284.4,581.1 1286.5,573.9 1288.6,565.9 1290.7,557.3 1292.7,548.4 1294.8,539.3 1296.9,530.4 1299.0,521.8 1301.0,513.5 1303.1,505.8 1305.2,498.6 1307.2,492.0 1309.3,486.0 1311.4,480.6 1313.5,475.7 1315.5,471.4 1317.6,467.6 1319.7,464.2 1321.8,461.2 1323.8,458.6 1325.9,456.3 1328.0,454.4 1330.1,452.6 1332.1,451.1 1334.2,449.8 1336.3,448.7 1338.4,447.7 1340.4,446.9 1342.5,446.2 1344.6,445.5 1346.7,445.0" fill="none" stroke="#44bca6" stroke-width="1.0" stroke-linejoin="round"/>
<polyline points="1155.8,603.7 1157.9,603.7 1160.0,603.7 1162.1,603.7 1164.1,603.7 1166.2,603.7 1168.3,603.7 1170.4,603.7 1172.4,603.7 1174.5,603.7 1176.6,603.7 1178.7,603.7 1180.7,603.7 1182.8,603.7 1184.9,603.7 1187.0,603.7 1189.0,603.7 1191.1,603.7 1193.2,603.7 1195.3,603.7 1197.3,603.7 1199.4,603.7 1201.5,603.7 1203.5,603.7 1205.6,603.7 1207.7,603.7 1209.8,603.7 1211.8,603.7 1213.9,603.7 1216.0,603.7 1218.1,603.7 1220.1,603.7 1222.2,603.7 1224.3,603.7 1226.4,603.7 1228.4,603.7 1230.5,603.7 1232.6,603.7 1234.7,603.7 1236.7,603.7 1238.8,603.7 1240.9,603.7 1243.0,603.7 1245.0,603.7 1247.1,603.7 1249.2,603.7 1251.3,603.7 1253.3,603.7 1255.4,603.7 1257.5,603.7 1259.5,603.7 1261.6,603.6 1263.7,603.5 1265.8,603.2 1267.8,602.6 1269.9,601.5 1272.0,599.7 1274.1,596.9 1276.1,593.1 1278.2,588.1 1280.3,582.0 1282.4,574.9 1284.4,566.9 1286.5,558.4 1288.6,549.4 1290.7,540.3 1292.7,531.3 1294.8,522.6 1296.9,514.2 1299.0,506.3 1301.0,499.0 1303.1,492.2 1305.2,486.1 1307.2,480.6 1309.3,475.6 1311.4,471.2 1313.5,467.2 1315.5,463.8 1317.6,460.7 1319.7,458.0 1321.8,455.7 1323.8,453.7 1325.9,451.9 1328.0,450.3 1330.1,449.0 1332.1,447.8 1334.2,446.8 1336.3,446.0 1338.4,445.2 1340.4,444.6 1342.5,444.0 1344.6,443.5 1346.7,443.1" fill="none" stroke="#a8da52" stroke-width="1.0" stroke-linejoin="round"/>
<polyline points="1155.8,603.7 1157.9,603.7 1160.0,603.7 1162.1,603.7 1164.1,603.7 1166.2,603.7 1168.3,603.7 1170.4,603.7 1172.4,603.7 1174.5,603.7 1176.6,603.7 1178.7,603.7 1180.7,603.7 1182.8,603.7 1184.9,603.7 1187.0,603.7 1189.0,603.7 1191.1,603.7 1193.2,603.7 1195.3,603.7 1197.3,603.7 1199.4,603.7 1201.5,603.7 1203.5,603.7 1205.6,603.7 1207.7,603.7 1209.8,603.7 1211.8,603.7 1213.9,603.7 1216.0,603.7 1218.1,603.7 1220.1,603.7 1222.2,603.7 1224.3,603.7 1226.4,603.7 1228.4,603.7 1230.5,603.7 1232.6,603.7 1234.7,603.7 1236.7,603.7 1238.8,603.7 1240.9,603.7 1243.0,603.7 1245.0,603.7 1247.1,603.7 1249.2,603.7 1251.3,603.7 1253.3,603.7 1255.4,603.7 1257.5,603.6 1259.5,603.5 1261.6,603.3 1263.7,602.7 1265.8,601.7 1267.8,600.0 1269.9,597.4 1272.0,593.7 1274.1,588.9 1276.1,582.9 1278.2,575.9 1280.3,568.0 1282.4,559.4 1284.4,550.5 1286.5,541.4 1288.6,532.3 1290.7,523.4 1292.7,514.9 1294.8,506.9 1296.9,499.4 1299.0,492.5 1301.0,486.3 1303.1,480.6 1305.2,475.5 1307.2,471.0 1309.3,466.9 1311.4,463.4 1313.5,460.2 1315.5,457.5 1317.6,455.1 1319.7,453.0 1321.8,451.1 1323.8,449.6 1325.9,448.2 1328.0,447.0 1330.1,445.9 1332.1,445.1 1334.2,444.3 1336.3,443.6 1338.4,443.0 1340.4,442.5 1342.5,442.1 1344.6,441.7 1346.7,441.4" fill="none" stroke="#52d050" stroke-width="1.0" stroke-linejoin="round"/>
<polyline points="1155.8,603.7 1157.9,603.7 1160.0,603.7 1162.1,603.7 1164.1,603.7 1166.2,603.7 1168.3,603.7 1170.4,603.7 1172.4,603.7 1174.5,603.7 1176.6,603.7 1178.7,603.7 1180.7,603.7 1182.8,603.7 1184.9,603.7 1187.0,603.7 1189.0,603.7 1191.1,603.7 1193.2,603.7 1195.3,603.7 1197.3,603.7 1199.4,603.7 1201.5,603.7 1203.5,603.7 1205.6,603.7 1207.7,603.7 1209.8,603.7 1211.8,603.7 1213.9,603.7 1216.0,603.7 1218.1,603.7 1220.1,603.7 1222.2,603.7 1224.3,603.7 1226.4,603.7 1228.4,603.7 1230.5,603.7 1232.6,603.7 1234.7,603.7 1236.7,603.7 1238.8,603.7 1240.9,603.7 1243.0,603.7 1245.0,603.7 1247.1,603.7 1249.2,603.7 1251.3,603.7 1253.3,603.7 1255.4,603.6 1257.5,603.3 1259.5,602.8 1261.6,601.9 1263.7,600.3 1265.8,597.8 1267.8,594.3 1269.9,589.6 1272.0,583.8 1274.1,576.9 1276.1,569.1 1278.2,560.5 1280.3,551.6 1282.4,542.4 1284.4,533.2 1286.5,524.2 1288.6,515.6 1290.7,507.5 1292.7,499.9 1294.8,492.8 1296.9,486.4 1299.0,480.6 1301.0,475.4 1303.1,470.8 1305.2,466.6 1307.2,463.0 1309.3,459.8 1311.4,456.9 1313.5,454.4 1315.5,452.3 1317.6,450.4 1319.7,448.8 1321.8,447.4 1323.8,446.1 1325.9,445.1 1328.0,444.1 1330.1,443.3 1332.1,442.7 1334.2,442.1 1336.3,441.6 1338.4,441.1 1340.4,440.7 1342.5,440.4 1344.6,440.1 1346.7,439.9" fill="none" stroke="#3cc486" stroke-width="1.0" stroke-linejoin="round"/>
<polyline points="1155.8,603.7 1157.9,603.7 1160.0,603.7 1162.1,603.7 1164.1,603.7 1166.2,603.7 1168.3,603.7 1170.4,603.7 1172.4,603.7 1174.5,603.7 1176.6,603.7 1178.7,603.7 1180.7,603.7 1182.8,603.7 1184.9,603.7 1187.0,603.7 1189.0,603.7 1191.1,603.7 1193.2,603.7 1195.3,603.7 1197.3,603.7 1199.4,603.7 1201.5,603.7 1203.5,603.7 1205.6,603.7 1207.7,603.7 1209.8,603.7 1211.8,603.7 1213.9,603.7 1216.0,603.7 1218.1,603.7 1220.1,603.7 1222.2,603.7 1224.3,603.7 1226.4,603.7 1228.4,603.7 1230.5,603.7 1232.6,603.7 1234.7,603.7 1236.7,603.7 1238.8,603.7 1240.9,603.7 1243.0,603.7 1245.0,603.7 1247.1,603.7 1249.2,603.7 1251.3,603.6 1253.3,603.4 1255.4,602.9 1257.5,602.1 1259.5,600.6 1261.6,598.2 1263.7,594.8 1265.8,590.3 1267.8,584.6 1269.9,577.8 1272.0,570.1 1274.1,561.6 1276.1,552.7 1278.2,543.4 1280.3,534.2 1282.4,525.1 1284.4,516.4 1286.5,508.1 1288.6,500.3 1290.7,493.2 1292.7,486.6 1294.8,480.7 1296.9,475.4 1299.0,470.6 1301.0,466.4 1303.1,462.6 1305.2,459.3 1307.2,456.4 1309.3,453.8 1311.4,451.6 1313.5,449.7 1315.5,448.0 1317.6,446.5 1319.7,445.3 1321.8,444.2 1323.8,443.2 1325.9,442.4 1328.0,441.7 1330.1,441.1 1332.1,440.6 1334.2,440.1 1336.3,439.7 1338.4,439.4 1340.4,439.1 1342.5,438.8 1344.6,438.6 1346.7,438.4" fill="none" stroke="#8ed444" stroke-width="1.0" stroke-linejoin="round"/>
<polyline points="1155.8,603.7 1157.9,603.7 1160.0,603.7 1162.1,603.7 1164.1,603.7 1166.2,603.7 1168.3,603.7 1170.4,603.7 1172.4,603.7 1174.5,603.7 1176.6,603.7 1178.7,603.7 1180.7,603.7 1182.8,603.7 1184.9,603.7 1187.0,603.7 1189.0,603.7 1191.1,603.7 1193.2,603.7 1195.3,603.7 1197.3,603.7 1199.4,603.7 1201.5,603.7 1203.5,603.7 1205.6,603.7 1207.7,603.7 1209.8,603.7 1211.8,603.7 1213.9,603.7 1216.0,603.7 1218.1,603.7 1220.1,603.7 1222.2,603.7 1224.3,603.7 1226.4,603.7 1228.4,603.7 1230.5,603.7 1232.6,603.7 1234.7,603.7 1236.7,603.7 1238.8,603.7 1240.9,603.7 1243.0,603.7 1245.0,603.7 1247.1,603.6 1249.2,603.4 1251.3,603.0 1253.3,602.2 1255.4,600.8 1257.5,598.6 1259.5,595.4 1261.6,591.0 1263.7,585.5 1265.8,578.8 1267.8,571.2 1269.9,562.7 1272.0,553.8 1274.1,544.5 1276.1,535.2 1278.2,526.0 1280.3,517.2 1282.4,508.7 1284.4,500.8 1286.5,493.6 1288.6,486.9 1290.7,480.8 1292.7,475.3 1294.8,470.4 1296.9,466.1 1299.0,462.2 1301.0,458.8 1303.1,455.9 1305.2,453.2 1307.2,451.0 1309.3,449.0 1311.4,447.2 1313.5,445.7 1315.5,444.4 1317.6,443.3 1319.7,442.3 1321.8,441.5 1323.8,440.7 1325.9,440.1 1328.0,439.6 1330.1,439.1 1332.1,438.7 1334.2,438.4 1336.3,438.1 1338.4,437.8 1340.4,437.6 1342.5,437.4 1344.6,437.2 1346.7,437.1" fill="none" stroke="#34c43a" stroke-width="1.0" stroke-linejoin="round"/>
<line x1="1156.00" y1="577.10" x2="1346.90" y2="577.10" stroke="#c6e33a" stroke-width="1.7"/>
<text transform="translate(1156.20,575.80) scale(0.5506,1)" font-size="8.96" fill="#c4101a" stroke="#c4101a" stroke-width="0.35"><tspan font-family="Liberation Serif, serif" font-weight="bold">0.162478</tspan></text>
<text transform="translate(1182.20,448.70) scale(0.9984,1)" font-size="17.00" fill="#000"><tspan font-style="italic">Het</tspan> gDNA</text>
<text transform="translate(1181.70,469.50) scale(1.0069,1)" font-size="17.00" fill="#000">(1.25-40ng)</text>
<rect x="1354.50" y="423.40" width="203.20" height="203.00" fill="#fff" stroke="#3a3a3a" stroke-width="1.6"/>
<rect x="1366.10" y="424.40" width="186.80" height="186.10" fill="#fff" stroke="#d0d0d0" stroke-width="1"/>
<path d="M1369.75,424.40V610.50M1377.90,424.40V610.50M1386.05,424.40V610.50M1394.20,424.40V610.50M1402.35,424.40V610.50M1410.50,424.40V610.50M1418.65,424.40V610.50M1426.80,424.40V610.50M1434.95,424.40V610.50M1443.10,424.40V610.50M1451.25,424.40V610.50M1459.40,424.40V610.50M1467.55,424.40V610.50M1475.70,424.40V610.50M1483.85,424.40V610.50M1492.00,424.40V610.50M1500.15,424.40V610.50M1508.30,424.40V610.50M1516.45,424.40V610.50M1524.60,424.40V610.50M1532.75,424.40V610.50M1540.90,424.40V610.50M1549.05,424.40V610.50" stroke="#e2e2e2" stroke-width="0.8" stroke-dasharray="1.5,1.5" fill="none"/>
<path d="M1366.10,601.90H1552.90M1366.10,585.88H1552.90M1366.10,569.85H1552.90M1366.10,553.82H1552.90M1366.10,537.80H1552.90M1366.10,521.77H1552.90M1366.10,505.75H1552.90M1366.10,489.73H1552.90M1366.10,473.70H1552.90M1366.10,457.67H1552.90M1366.10,441.65H1552.90M1366.10,425.62H1552.90" stroke="#dcdcdc" stroke-width="1" fill="none"/>
<path d="M1366.10,424.40V610.50H1552.90" stroke="#8a8a8a" stroke-width="1" fill="none"/>
<path d="M1364.60,601.90H1366.10M1364.60,585.88H1366.10M1364.60,569.85H1366.10M1364.60,553.82H1366.10M1364.60,537.80H1366.10M1364.60,521.77H1366.10M1364.60,505.75H1366.10M1364.60,489.73H1366.10M1364.60,473.70H1366.10M1364.60,457.67H1366.10M1364.60,441.65H1366.10M1364.60,425.62H1366.10M1369.75,610.50V612.30M1377.90,610.50V612.30M1386.05,610.50V612.30M1394.20,610.50V612.30M1402.35,610.50V612.30M1410.50,610.50V612.30M1418.65,610.50V612.30M1426.80,610.50V612.30M1434.95,610.50V612.30M1443.10,610.50V612.30M1451.25,610.50V612.30M1459.40,610.50V612.30M1467.55,610.50V612.30M1475.70,610.50V612.30M1483.85,610.50V612.30M1492.00,610.50V612.30M1500.15,610.50V612.30M1508.30,610.50V612.30M1516.45,610.50V612.30M1524.60,610.50V612.30M1532.75,610.50V612.30M1540.90,610.50V612.30M1549.05,610.50V612.30" stroke="#666" stroke-width="0.8" fill="none"/>
<g font-size="7.5" font-weight="bold" fill="#333" opacity="0.85"><text transform="translate(1364.50,604.60) scale(0.5,1)" text-anchor="end">0.00</text><text transform="translate(1364.50,588.58) scale(0.5,1)" text-anchor="end">0.25</text><text transform="translate(1364.50,572.55) scale(0.5,1)" text-anchor="end">0.50</text><text transform="translate(1364.50,556.52) scale(0.5,1)" text-anchor="end">0.75</text><text transform="translate(1364.50,540.50) scale(0.5,1)" text-anchor="end">1.00</text><text transform="translate(1364.50,524.48) scale(0.5,1)" text-anchor="end">1.25</text><text transform="translate(1364.50,508.45) scale(0.5,1)" text-anchor="end">1.50</text><text transform="translate(1364.50,492.43) scale(0.5,1)" text-anchor="end">1.75</text><text transform="translate(1364.50,476.40) scale(0.5,1)" text-anchor="end">2.00</text><text transform="translate(1364.50,460.37) scale(0.5,1)" text-anchor="end">2.25</text><text transform="translate(1364.50,444.35) scale(0.5,1)" text-anchor="end">2.50</text><text transform="translate(1364.50,428.32) scale(0.5,1)" text-anchor="end">2.75</text><text transform="translate(1369.75,619.10) scale(0.42,1)" text-anchor="middle">2</text><text transform="translate(1377.90,619.10) scale(0.42,1)" text-anchor="middle">4</text><text transform="translate(1386.05,619.10) scale(0.42,1)" text-anchor="middle">6</text><text transform="translate(1394.20,619.10) scale(0.42,1)" text-anchor="middle">8</text><text transform="translate(1402.35,619.10) scale(0.42,1)" text-anchor="middle">10</text><text transform="translate(1410.50,619.10) scale(0.42,1)" text-anchor="middle">12</text><text transform="translate(1418.65,619.10) scale(0.42,1)" text-anchor="middle">14</text><text transform="translate(1426.80,619.10) scale(0.42,1)" text-anchor="middle">16</text><text transform="translate(1434.95,619.10) scale(0.42,1)" text-anchor="middle">18</text><text transform="translate(1443.10,619.10) scale(0.42,1)" text-anchor="middle">20</text><text transform="translate(1451.25,619.10) scale(0.42,1)" text-anchor="middle">22</text><text transform="translate(1459.40,619.10) scale(0.42,1)" text-anchor="middle">24</text><text transform="translate(1467.55,619.10) scale(0.42,1)" text-anchor="middle">26</text><text transform="translate(1475.70,619.10) scale(0.42,1)" text-anchor="middle">28</text><text transform="translate(1483.85,619.10) scale(0.42,1)" text-anchor="middle">30</text><text transform="translate(1492.00,619.10) scale(0.42,1)" text-anchor="middle">32</text><text transform="translate(1500.15,619.10) scale(0.42,1)" text-anchor="middle">34</text><text transform="translate(1508.30,619.10) scale(0.42,1)" text-anchor="middle">36</text><text transform="translate(1516.45,619.10) scale(0.42,1)" text-anchor="middle">38</text><text transform="translate(1524.60,619.10) scale(0.42,1)" text-anchor="middle">40</text><text transform="translate(1532.75,619.10) scale(0.42,1)" text-anchor="middle">42</text><text transform="translate(1540.90,619.10) scale(0.42,1)" text-anchor="middle">44</text><text transform="translate(1549.05,619.10) scale(0.42,1)" text-anchor="middle">46</text></g>
<polyline points="1365.7,601.9 1367.7,601.9 1369.8,601.9 1371.8,601.9 1373.8,601.9 1375.9,601.9 1377.9,601.9 1379.9,601.9 1382.0,601.9 1384.0,601.9 1386.0,601.9 1388.1,601.9 1390.1,601.9 1392.2,601.9 1394.2,601.9 1396.2,601.9 1398.3,601.9 1400.3,601.9 1402.3,601.9 1404.4,601.9 1406.4,601.9 1408.5,601.9 1410.5,601.9 1412.5,601.9 1414.6,601.9 1416.6,601.9 1418.6,601.9 1420.7,601.9 1422.7,601.9 1424.8,601.9 1426.8,601.9 1428.8,601.9 1430.9,601.9 1432.9,601.9 1434.9,601.9 1437.0,601.9 1439.0,601.9 1441.1,601.9 1443.1,601.9 1445.1,601.9 1447.2,601.9 1449.2,601.9 1451.2,601.9 1453.3,601.9 1455.3,601.9 1457.4,601.9 1459.4,601.9 1461.4,601.9 1463.5,601.9 1465.5,601.9 1467.5,601.9 1469.6,601.9 1471.6,601.9 1473.7,601.9 1475.7,601.9 1477.7,601.8 1479.8,601.7 1481.8,601.4 1483.8,600.8 1485.9,599.9 1487.9,598.3 1490.0,596.1 1492.0,593.0 1494.0,588.9 1496.1,584.0 1498.1,578.2 1500.1,571.6 1502.2,564.4 1504.2,556.7 1506.3,548.8 1508.3,540.8 1510.3,532.8 1512.4,525.1 1514.4,517.6 1516.4,510.5 1518.5,503.9 1520.5,497.7 1522.6,492.0 1524.6,486.8 1526.6,482.1 1528.7,477.8 1530.7,473.9 1532.8,470.5 1534.8,467.4 1536.8,464.7 1538.9,462.3 1540.9,460.1 1542.9,458.2 1545.0,456.6 1547.0,455.1 1549.0,453.8 1551.1,452.7 1553.1,451.7" fill="none" stroke="#b43a22" stroke-width="1.0" stroke-linejoin="round"/>
<polyline points="1365.7,601.9 1367.7,601.9 1369.8,601.9 1371.8,601.9 1373.8,601.9 1375.9,601.9 1377.9,601.9 1379.9,601.9 1382.0,601.9 1384.0,601.9 1386.0,601.9 1388.1,601.9 1390.1,601.9 1392.2,601.9 1394.2,601.9 1396.2,601.9 1398.3,601.9 1400.3,601.9 1402.3,601.9 1404.4,601.9 1406.4,601.9 1408.5,601.9 1410.5,601.9 1412.5,601.9 1414.6,601.9 1416.6,601.9 1418.6,601.9 1420.7,601.9 1422.7,601.9 1424.8,601.9 1426.8,601.9 1428.8,601.9 1430.9,601.9 1432.9,601.9 1434.9,601.9 1437.0,601.9 1439.0,601.9 1441.1,601.9 1443.1,601.9 1445.1,601.9 1447.2,601.9 1449.2,601.9 1451.2,601.9 1453.3,601.9 1455.3,601.9 1457.4,601.9 1459.4,601.9 1461.4,601.9 1463.5,601.9 1465.5,601.9 1467.5,601.9 1469.6,601.9 1471.6,601.9 1473.7,601.8 1475.7,601.7 1477.7,601.5 1479.8,601.0 1481.8,600.1 1483.8,598.7 1485.9,596.6 1487.9,593.7 1490.0,589.9 1492.0,585.1 1494.0,579.4 1496.1,572.9 1498.1,565.8 1500.1,558.2 1502.2,550.2 1504.2,542.2 1506.3,534.1 1508.3,526.2 1510.3,518.6 1512.4,511.4 1514.4,504.6 1516.4,498.3 1518.5,492.4 1520.5,487.1 1522.6,482.2 1524.6,477.8 1526.6,473.8 1528.7,470.3 1530.7,467.1 1532.8,464.3 1534.8,461.7 1536.8,459.5 1538.9,457.6 1540.9,455.8 1542.9,454.3 1545.0,453.0 1547.0,451.8 1549.0,450.8 1551.1,449.9 1553.1,449.1" fill="none" stroke="#e6dc66" stroke-width="1.0" stroke-linejoin="round"/>
<polyline points="1365.7,601.9 1367.7,601.9 1369.8,601.9 1371.8,601.9 1373.8,601.9 1375.9,601.9 1377.9,601.9 1379.9,601.9 1382.0,601.9 1384.0,601.9 1386.0,601.9 1388.1,601.9 1390.1,601.9 1392.2,601.9 1394.2,601.9 1396.2,601.9 1398.3,601.9 1400.3,601.9 1402.3,601.9 1404.4,601.9 1406.4,601.9 1408.5,601.9 1410.5,601.9 1412.5,601.9 1414.6,601.9 1416.6,601.9 1418.6,601.9 1420.7,601.9 1422.7,601.9 1424.8,601.9 1426.8,601.9 1428.8,601.9 1430.9,601.9 1432.9,601.9 1434.9,601.9 1437.0,601.9 1439.0,601.9 1441.1,601.9 1443.1,601.9 1445.1,601.9 1447.2,601.9 1449.2,601.9 1451.2,601.9 1453.3,601.9 1455.3,601.9 1457.4,601.9 1459.4,601.9 1461.4,601.9 1463.5,601.9 1465.5,601.9 1467.5,601.9 1469.6,601.9 1471.6,601.8 1473.7,601.5 1475.7,601.1 1477.7,600.3 1479.8,599.1 1481.8,597.1 1483.8,594.4 1485.9,590.7 1487.9,586.1 1490.0,580.6 1492.0,574.2 1494.0,567.2 1496.1,559.6 1498.1,551.7 1500.1,543.6 1502.2,535.4 1504.2,527.4 1506.3,519.7 1508.3,512.4 1510.3,505.4 1512.4,498.9 1514.4,492.9 1516.4,487.4 1518.5,482.4 1520.5,477.8 1522.6,473.7 1524.6,470.1 1526.6,466.8 1528.7,463.9 1530.7,461.3 1532.8,459.0 1534.8,456.9 1536.8,455.1 1538.9,453.5 1540.9,452.2 1542.9,450.9 1545.0,449.9 1547.0,448.9 1549.0,448.1 1551.1,447.4 1553.1,446.8" fill="none" stroke="#e89430" stroke-width="1.0" stroke-linejoin="round"/>
<polyline points="1365.7,601.9 1367.7,601.9 1369.8,601.9 1371.8,601.9 1373.8,601.9 1375.9,601.9 1377.9,601.9 1379.9,601.9 1382.0,601.9 1384.0,601.9 1386.0,601.9 1388.1,601.9 1390.1,601.9 1392.2,601.9 1394.2,601.9 1396.2,601.9 1398.3,601.9 1400.3,601.9 1402.3,601.9 1404.4,601.9 1406.4,601.9 1408.5,601.9 1410.5,601.9 1412.5,601.9 1414.6,601.9 1416.6,601.9 1418.6,601.9 1420.7,601.9 1422.7,601.9 1424.8,601.9 1426.8,601.9 1428.8,601.9 1430.9,601.9 1432.9,601.9 1434.9,601.9 1437.0,601.9 1439.0,601.9 1441.1,601.9 1443.1,601.9 1445.1,601.9 1447.2,601.9 1449.2,601.9 1451.2,601.9 1453.3,601.9 1455.3,601.9 1457.4,601.9 1459.4,601.9 1461.4,601.9 1463.5,601.9 1465.5,601.9 1467.5,601.8 1469.6,601.6 1471.6,601.2 1473.7,600.5 1475.7,599.4 1477.7,597.6 1479.8,595.0 1481.8,591.5 1483.8,587.1 1485.9,581.8 1487.9,575.6 1490.0,568.6 1492.0,561.1 1494.0,553.1 1496.1,545.0 1498.1,536.8 1500.1,528.7 1502.2,520.8 1504.2,513.3 1506.3,506.2 1508.3,499.6 1510.3,493.4 1512.4,487.8 1514.4,482.6 1516.4,477.9 1518.5,473.7 1520.5,469.9 1522.6,466.5 1524.6,463.5 1526.6,460.8 1528.7,458.4 1530.7,456.3 1532.8,454.4 1534.8,452.8 1536.8,451.4 1538.9,450.1 1540.9,449.0 1542.9,448.0 1545.0,447.2 1547.0,446.4 1549.0,445.8 1551.1,445.2 1553.1,444.7" fill="none" stroke="#cc4a2a" stroke-width="1.0" stroke-linejoin="round"/>
<polyline points="1365.7,601.9 1367.7,601.9 1369.8,601.9 1371.8,601.9 1373.8,601.9 1375.9,601.9 1377.9,601.9 1379.9,601.9 1382.0,601.9 1384.0,601.9 1386.0,601.9 1388.1,601.9 1390.1,601.9 1392.2,601.9 1394.2,601.9 1396.2,601.9 1398.3,601.9 1400.3,601.9 1402.3,601.9 1404.4,601.9 1406.4,601.9 1408.5,601.9 1410.5,601.9 1412.5,601.9 1414.6,601.9 1416.6,601.9 1418.6,601.9 1420.7,601.9 1422.7,601.9 1424.8,601.9 1426.8,601.9 1428.8,601.9 1430.9,601.9 1432.9,601.9 1434.9,601.9 1437.0,601.9 1439.0,601.9 1441.1,601.9 1443.1,601.9 1445.1,601.9 1447.2,601.9 1449.2,601.9 1451.2,601.9 1453.3,601.9 1455.3,601.9 1457.4,601.9 1459.4,601.9 1461.4,601.9 1463.5,601.8 1465.5,601.7 1467.5,601.3 1469.6,600.7 1471.6,599.7 1473.7,598.0 1475.7,595.6 1477.7,592.3 1479.8,588.1 1481.8,582.9 1483.8,576.8 1485.9,570.0 1487.9,562.5 1490.0,554.6 1492.0,546.4 1494.0,538.2 1496.1,530.0 1498.1,522.0 1500.1,514.4 1502.2,507.1 1504.2,500.3 1506.3,494.0 1508.3,488.2 1510.3,482.9 1512.4,478.0 1514.4,473.7 1516.4,469.7 1518.5,466.2 1520.5,463.1 1522.6,460.3 1524.6,457.9 1526.6,455.7 1528.7,453.8 1530.7,452.1 1532.8,450.6 1534.8,449.3 1536.8,448.1 1538.9,447.1 1540.9,446.2 1542.9,445.4 1545.0,444.8 1547.0,444.2 1549.0,443.7 1551.1,443.2 1553.1,442.8" fill="none" stroke="#ecd040" stroke-width="1.0" stroke-linejoin="round"/>
<polyline points="1365.7,601.9 1367.7,601.9 1369.8,601.9 1371.8,601.9 1373.8,601.9 1375.9,601.9 1377.9,601.9 1379.9,601.9 1382.0,601.9 1384.0,601.9 1386.0,601.9 1388.1,601.9 1390.1,601.9 1392.2,601.9 1394.2,601.9 1396.2,601.9 1398.3,601.9 1400.3,601.9 1402.3,601.9 1404.4,601.9 1406.4,601.9 1408.5,601.9 1410.5,601.9 1412.5,601.9 1414.6,601.9 1416.6,601.9 1418.6,601.9 1420.7,601.9 1422.7,601.9 1424.8,601.9 1426.8,601.9 1428.8,601.9 1430.9,601.9 1432.9,601.9 1434.9,601.9 1437.0,601.9 1439.0,601.9 1441.1,601.9 1443.1,601.9 1445.1,601.9 1447.2,601.9 1449.2,601.9 1451.2,601.9 1453.3,601.9 1455.3,601.9 1457.4,601.9 1459.4,601.8 1461.4,601.7 1463.5,601.4 1465.5,600.9 1467.5,600.0 1469.6,598.4 1471.6,596.2 1473.7,593.1 1475.7,589.1 1477.7,584.0 1479.8,578.1 1481.8,571.4 1483.8,564.0 1485.9,556.1 1487.9,547.9 1490.0,539.6 1492.0,531.3 1494.0,523.2 1496.1,515.4 1498.1,508.0 1500.1,501.1 1502.2,494.6 1504.2,488.6 1506.3,483.2 1508.3,478.2 1510.3,473.7 1512.4,469.6 1514.4,466.0 1516.4,462.8 1518.5,459.9 1520.5,457.3 1522.6,455.1 1524.6,453.1 1526.6,451.3 1528.7,449.8 1530.7,448.4 1532.8,447.2 1534.8,446.2 1536.8,445.3 1538.9,444.5 1540.9,443.8 1542.9,443.2 1545.0,442.6 1547.0,442.2 1549.0,441.7 1551.1,441.4 1553.1,441.1" fill="none" stroke="#e0701c" stroke-width="1.0" stroke-linejoin="round"/>
<polyline points="1365.7,601.9 1367.7,601.9 1369.8,601.9 1371.8,601.9 1373.8,601.9 1375.9,601.9 1377.9,601.9 1379.9,601.9 1382.0,601.9 1384.0,601.9 1386.0,601.9 1388.1,601.9 1390.1,601.9 1392.2,601.9 1394.2,601.9 1396.2,601.9 1398.3,601.9 1400.3,601.9 1402.3,601.9 1404.4,601.9 1406.4,601.9 1408.5,601.9 1410.5,601.9 1412.5,601.9 1414.6,601.9 1416.6,601.9 1418.6,601.9 1420.7,601.9 1422.7,601.9 1424.8,601.9 1426.8,601.9 1428.8,601.9 1430.9,601.9 1432.9,601.9 1434.9,601.9 1437.0,601.9 1439.0,601.9 1441.1,601.9 1443.1,601.9 1445.1,601.9 1447.2,601.9 1449.2,601.9 1451.2,601.9 1453.3,601.9 1455.3,601.8 1457.4,601.7 1459.4,601.5 1461.4,601.0 1463.5,600.2 1465.5,598.8 1467.5,596.7 1469.6,593.8 1471.6,590.0 1473.7,585.1 1475.7,579.4 1477.7,572.7 1479.8,565.4 1481.8,557.6 1483.8,549.4 1485.9,541.0 1487.9,532.6 1490.0,524.4 1492.0,516.5 1494.0,509.0 1496.1,501.9 1498.1,495.2 1500.1,489.1 1502.2,483.5 1504.2,478.4 1506.3,473.7 1508.3,469.6 1510.3,465.8 1512.4,462.5 1514.4,459.5 1516.4,456.9 1518.5,454.5 1520.5,452.4 1522.6,450.6 1524.6,449.0 1526.6,447.6 1528.7,446.4 1530.7,445.3 1532.8,444.3 1534.8,443.5 1536.8,442.8 1538.9,442.1 1540.9,441.6 1542.9,441.1 1545.0,440.7 1547.0,440.3 1549.0,440.0 1551.1,439.7 1553.1,439.5" fill="none" stroke="#c0301e" stroke-width="1.0" stroke-linejoin="round"/>
<line x1="1366.10" y1="581.40" x2="1552.90" y2="581.40" stroke="#e47be0" stroke-width="1.7"/>
<text transform="translate(1366.30,580.00) scale(0.5588,1)" font-size="8.96" fill="#c4101a" stroke="#c4101a" stroke-width="0.35"><tspan font-family="Liberation Serif, serif" font-weight="bold">0.314112</tspan></text>
<text transform="translate(1392.20,448.70) scale(0.9997,1)" font-size="17.00" fill="#000"><tspan font-style="italic">Het</tspan> gDNA</text>
<text transform="translate(1391.80,469.50) scale(1.0069,1)" font-size="17.00" fill="#000">(1.25-40ng)</text>
<rect x="1561.40" y="423.40" width="203.50" height="203.00" fill="#fff" stroke="#3a3a3a" stroke-width="1.6"/>
<rect x="1574.80" y="429.10" width="187.20" height="180.40" fill="#fff" stroke="#d0d0d0" stroke-width="1"/>
<path d="M1578.85,429.10V609.50M1586.99,429.10V609.50M1595.14,429.10V609.50M1603.28,429.10V609.50M1611.43,429.10V609.50M1619.58,429.10V609.50M1627.72,429.10V609.50M1635.87,429.10V609.50M1644.01,429.10V609.50M1652.16,429.10V609.50M1660.31,429.10V609.50M1668.45,429.10V609.50M1676.60,429.10V609.50M1684.74,429.10V609.50M1692.89,429.10V609.50M1701.04,429.10V609.50M1709.18,429.10V609.50M1717.33,429.10V609.50M1725.47,429.10V609.50M1733.62,429.10V609.50M1741.77,429.10V609.50M1749.91,429.10V609.50M1758.06,429.10V609.50" stroke="#e2e2e2" stroke-width="0.8" stroke-dasharray="1.5,1.5" fill="none"/>
<path d="M1574.80,601.50H1762.00M1574.80,585.90H1762.00M1574.80,570.30H1762.00M1574.80,554.70H1762.00M1574.80,539.10H1762.00M1574.80,523.50H1762.00M1574.80,507.90H1762.00M1574.80,492.30H1762.00M1574.80,476.70H1762.00M1574.80,461.10H1762.00M1574.80,445.50H1762.00M1574.80,429.90H1762.00" stroke="#dcdcdc" stroke-width="1" fill="none"/>
<path d="M1574.80,429.10V609.50H1762.00" stroke="#8a8a8a" stroke-width="1" fill="none"/>
<path d="M1573.30,601.50H1574.80M1573.30,585.90H1574.80M1573.30,570.30H1574.80M1573.30,554.70H1574.80M1573.30,539.10H1574.80M1573.30,523.50H1574.80M1573.30,507.90H1574.80M1573.30,492.30H1574.80M1573.30,476.70H1574.80M1573.30,461.10H1574.80M1573.30,445.50H1574.80M1573.30,429.90H1574.80M1578.85,609.50V611.30M1586.99,609.50V611.30M1595.14,609.50V611.30M1603.28,609.50V611.30M1611.43,609.50V611.30M1619.58,609.50V611.30M1627.72,609.50V611.30M1635.87,609.50V611.30M1644.01,609.50V611.30M1652.16,609.50V611.30M1660.31,609.50V611.30M1668.45,609.50V611.30M1676.60,609.50V611.30M1684.74,609.50V611.30M1692.89,609.50V611.30M1701.04,609.50V611.30M1709.18,609.50V611.30M1717.33,609.50V611.30M1725.47,609.50V611.30M1733.62,609.50V611.30M1741.77,609.50V611.30M1749.91,609.50V611.30M1758.06,609.50V611.30" stroke="#666" stroke-width="0.8" fill="none"/>
<g font-size="7.5" font-weight="bold" fill="#333" opacity="0.85"><text transform="translate(1573.20,604.20) scale(0.5,1)" text-anchor="end">0.00</text><text transform="translate(1573.20,588.60) scale(0.5,1)" text-anchor="end">0.25</text><text transform="translate(1573.20,573.00) scale(0.5,1)" text-anchor="end">0.50</text><text transform="translate(1573.20,557.40) scale(0.5,1)" text-anchor="end">0.75</text><text transform="translate(1573.20,541.80) scale(0.5,1)" text-anchor="end">1.00</text><text transform="translate(1573.20,526.20) scale(0.5,1)" text-anchor="end">1.25</text><text transform="translate(1573.20,510.60) scale(0.5,1)" text-anchor="end">1.50</text><text transform="translate(1573.20,495.00) scale(0.5,1)" text-anchor="end">1.75</text><text transform="translate(1573.20,479.40) scale(0.5,1)" text-anchor="end">2.00</text><text transform="translate(1573.20,463.80) scale(0.5,1)" text-anchor="end">2.25</text><text transform="translate(1573.20,448.20) scale(0.5,1)" text-anchor="end">2.50</text><text transform="translate(1573.20,432.60) scale(0.5,1)" text-anchor="end">2.75</text><text transform="translate(1578.85,618.10) scale(0.42,1)" text-anchor="middle">2</text><text transform="translate(1586.99,618.10) scale(0.42,1)" text-anchor="middle">4</text><text transform="translate(1595.14,618.10) scale(0.42,1)" text-anchor="middle">6</text><text transform="translate(1603.28,618.10) scale(0.42,1)" text-anchor="middle">8</text><text transform="translate(1611.43,618.10) scale(0.42,1)" text-anchor="middle">10</text><text transform="translate(1619.58,618.10) scale(0.42,1)" text-anchor="middle">12</text><text transform="translate(1627.72,618.10) scale(0.42,1)" text-anchor="middle">14</text><text transform="translate(1635.87,618.10) scale(0.42,1)" text-anchor="middle">16</text><text transform="translate(1644.01,618.10) scale(0.42,1)" text-anchor="middle">18</text><text transform="translate(1652.16,618.10) scale(0.42,1)" text-anchor="middle">20</text><text transform="translate(1660.31,618.10) scale(0.42,1)" text-anchor="middle">22</text><text transform="translate(1668.45,618.10) scale(0.42,1)" text-anchor="middle">24</text><text transform="translate(1676.60,618.10) scale(0.42,1)" text-anchor="middle">26</text><text transform="translate(1684.74,618.10) scale(0.42,1)" text-anchor="middle">28</text><text transform="translate(1692.89,618.10) scale(0.42,1)" text-anchor="middle">30</text><text transform="translate(1701.04,618.10) scale(0.42,1)" text-anchor="middle">32</text><text transform="translate(1709.18,618.10) scale(0.42,1)" text-anchor="middle">34</text><text transform="translate(1717.33,618.10) scale(0.42,1)" text-anchor="middle">36</text><text transform="translate(1725.47,618.10) scale(0.42,1)" text-anchor="middle">38</text><text transform="translate(1733.62,618.10) scale(0.42,1)" text-anchor="middle">40</text><text transform="translate(1741.77,618.10) scale(0.42,1)" text-anchor="middle">42</text><text transform="translate(1749.91,618.10) scale(0.42,1)" text-anchor="middle">44</text><text transform="translate(1758.06,618.10) scale(0.42,1)" text-anchor="middle">46</text></g>
<polyline points="1574.8,601.5 1576.8,601.5 1578.8,601.5 1580.9,601.5 1582.9,601.5 1585.0,601.5 1587.0,601.5 1589.0,601.5 1591.1,601.5 1593.1,601.5 1595.1,601.5 1597.2,601.5 1599.2,601.5 1601.2,601.5 1603.3,601.5 1605.3,601.5 1607.4,601.5 1609.4,601.5 1611.4,601.5 1613.5,601.5 1615.5,601.5 1617.5,601.5 1619.6,601.5 1621.6,601.5 1623.6,601.5 1625.7,601.5 1627.7,601.5 1629.8,601.5 1631.8,601.5 1633.8,601.5 1635.9,601.5 1637.9,601.5 1639.9,601.5 1642.0,601.5 1644.0,601.5 1646.1,601.5 1648.1,601.5 1650.1,601.5 1652.2,601.5 1654.2,601.5 1656.2,601.5 1658.3,601.5 1660.3,601.5 1662.3,601.5 1664.4,601.5 1666.4,601.5 1668.5,601.5 1670.5,601.5 1672.5,601.5 1674.6,601.5 1676.6,601.5 1678.6,601.5 1680.7,601.5 1682.7,601.5 1684.7,601.5 1686.8,601.5 1688.8,601.4 1690.9,601.1 1692.9,600.6 1694.9,599.6 1697.0,598.0 1699.0,595.6 1701.0,592.1 1703.1,587.6 1705.1,581.9 1707.1,575.2 1709.2,567.7 1711.2,559.6 1713.3,551.0 1715.3,542.3 1717.3,533.6 1719.4,525.0 1721.4,516.9 1723.4,509.2 1725.5,502.0 1727.5,495.4 1729.5,489.4 1731.6,483.9 1733.6,479.0 1735.7,474.6 1737.7,470.7 1739.7,467.3 1741.8,464.3 1743.8,461.6 1745.8,459.3 1747.9,457.3 1749.9,455.5 1751.9,454.0 1754.0,452.6 1756.0,451.5 1758.1,450.5 1760.1,449.6 1762.1,448.9" fill="none" stroke="#2cb040" stroke-width="1.0" stroke-linejoin="round"/>
<polyline points="1574.8,601.5 1576.8,601.5 1578.8,601.5 1580.9,601.5 1582.9,601.5 1585.0,601.5 1587.0,601.5 1589.0,601.5 1591.1,601.5 1593.1,601.5 1595.1,601.5 1597.2,601.5 1599.2,601.5 1601.2,601.5 1603.3,601.5 1605.3,601.5 1607.4,601.5 1609.4,601.5 1611.4,601.5 1613.5,601.5 1615.5,601.5 1617.5,601.5 1619.6,601.5 1621.6,601.5 1623.6,601.5 1625.7,601.5 1627.7,601.5 1629.8,601.5 1631.8,601.5 1633.8,601.5 1635.9,601.5 1637.9,601.5 1639.9,601.5 1642.0,601.5 1644.0,601.5 1646.1,601.5 1648.1,601.5 1650.1,601.5 1652.2,601.5 1654.2,601.5 1656.2,601.5 1658.3,601.5 1660.3,601.5 1662.3,601.5 1664.4,601.5 1666.4,601.5 1668.5,601.5 1670.5,601.5 1672.5,601.5 1674.6,601.5 1676.6,601.5 1678.6,601.5 1680.7,601.5 1682.7,601.5 1684.7,601.4 1686.8,601.2 1688.8,600.7 1690.9,599.9 1692.9,598.4 1694.9,596.1 1697.0,592.8 1699.0,588.4 1701.0,582.9 1703.1,576.4 1705.1,569.0 1707.1,560.9 1709.2,552.3 1711.2,543.5 1713.3,534.7 1715.3,526.1 1717.3,517.8 1719.4,510.0 1721.4,502.7 1723.4,495.9 1725.5,489.7 1727.5,484.1 1729.5,479.1 1731.6,474.6 1733.6,470.6 1735.7,467.0 1737.7,463.9 1739.7,461.2 1741.8,458.8 1743.8,456.7 1745.8,454.9 1747.9,453.3 1749.9,451.9 1751.9,450.7 1754.0,449.7 1756.0,448.8 1758.1,448.0 1760.1,447.3 1762.1,446.8" fill="none" stroke="#44bca6" stroke-width="1.0" stroke-linejoin="round"/>
<polyline points="1574.8,601.5 1576.8,601.5 1578.8,601.5 1580.9,601.5 1582.9,601.5 1585.0,601.5 1587.0,601.5 1589.0,601.5 1591.1,601.5 1593.1,601.5 1595.1,601.5 1597.2,601.5 1599.2,601.5 1601.2,601.5 1603.3,601.5 1605.3,601.5 1607.4,601.5 1609.4,601.5 1611.4,601.5 1613.5,601.5 1615.5,601.5 1617.5,601.5 1619.6,601.5 1621.6,601.5 1623.6,601.5 1625.7,601.5 1627.7,601.5 1629.8,601.5 1631.8,601.5 1633.8,601.5 1635.9,601.5 1637.9,601.5 1639.9,601.5 1642.0,601.5 1644.0,601.5 1646.1,601.5 1648.1,601.5 1650.1,601.5 1652.2,601.5 1654.2,601.5 1656.2,601.5 1658.3,601.5 1660.3,601.5 1662.3,601.5 1664.4,601.5 1666.4,601.5 1668.5,601.5 1670.5,601.5 1672.5,601.5 1674.6,601.5 1676.6,601.5 1678.6,601.5 1680.7,601.4 1682.7,601.2 1684.7,600.8 1686.8,600.1 1688.8,598.7 1690.9,596.6 1692.9,593.4 1694.9,589.2 1697.0,583.9 1699.0,577.5 1701.0,570.2 1703.1,562.2 1705.1,553.6 1707.1,544.8 1709.2,535.9 1711.2,527.2 1713.3,518.8 1715.3,510.8 1717.3,503.3 1719.4,496.4 1721.4,490.1 1723.4,484.3 1725.5,479.2 1727.5,474.5 1729.5,470.4 1731.6,466.8 1733.6,463.6 1735.7,460.7 1737.7,458.3 1739.7,456.1 1741.8,454.2 1743.8,452.6 1745.8,451.2 1747.9,449.9 1749.9,448.9 1751.9,447.9 1754.0,447.1 1756.0,446.5 1758.1,445.9 1760.1,445.3 1762.1,444.9" fill="none" stroke="#a8da52" stroke-width="1.0" stroke-linejoin="round"/>
<polyline points="1574.8,601.5 1576.8,601.5 1578.8,601.5 1580.9,601.5 1582.9,601.5 1585.0,601.5 1587.0,601.5 1589.0,601.5 1591.1,601.5 1593.1,601.5 1595.1,601.5 1597.2,601.5 1599.2,601.5 1601.2,601.5 1603.3,601.5 1605.3,601.5 1607.4,601.5 1609.4,601.5 1611.4,601.5 1613.5,601.5 1615.5,601.5 1617.5,601.5 1619.6,601.5 1621.6,601.5 1623.6,601.5 1625.7,601.5 1627.7,601.5 1629.8,601.5 1631.8,601.5 1633.8,601.5 1635.9,601.5 1637.9,601.5 1639.9,601.5 1642.0,601.5 1644.0,601.5 1646.1,601.5 1648.1,601.5 1650.1,601.5 1652.2,601.5 1654.2,601.5 1656.2,601.5 1658.3,601.5 1660.3,601.5 1662.3,601.5 1664.4,601.5 1666.4,601.5 1668.5,601.5 1670.5,601.5 1672.5,601.5 1674.6,601.5 1676.6,601.4 1678.6,601.3 1680.7,600.9 1682.7,600.2 1684.7,599.0 1686.8,597.0 1688.8,594.1 1690.9,590.0 1692.9,584.9 1694.9,578.7 1697.0,571.5 1699.0,563.5 1701.0,555.0 1703.1,546.1 1705.1,537.2 1707.1,528.4 1709.2,519.8 1711.2,511.7 1713.3,504.1 1715.3,497.0 1717.3,490.5 1719.4,484.6 1721.4,479.3 1723.4,474.5 1725.5,470.3 1727.5,466.5 1729.5,463.2 1731.6,460.3 1733.6,457.8 1735.7,455.5 1737.7,453.6 1739.7,451.9 1741.8,450.4 1743.8,449.2 1745.8,448.1 1747.9,447.1 1749.9,446.3 1751.9,445.6 1754.0,444.9 1756.0,444.4 1758.1,444.0 1760.1,443.6 1762.1,443.2" fill="none" stroke="#52d050" stroke-width="1.0" stroke-linejoin="round"/>
<polyline points="1574.8,601.5 1576.8,601.5 1578.8,601.5 1580.9,601.5 1582.9,601.5 1585.0,601.5 1587.0,601.5 1589.0,601.5 1591.1,601.5 1593.1,601.5 1595.1,601.5 1597.2,601.5 1599.2,601.5 1601.2,601.5 1603.3,601.5 1605.3,601.5 1607.4,601.5 1609.4,601.5 1611.4,601.5 1613.5,601.5 1615.5,601.5 1617.5,601.5 1619.6,601.5 1621.6,601.5 1623.6,601.5 1625.7,601.5 1627.7,601.5 1629.8,601.5 1631.8,601.5 1633.8,601.5 1635.9,601.5 1637.9,601.5 1639.9,601.5 1642.0,601.5 1644.0,601.5 1646.1,601.5 1648.1,601.5 1650.1,601.5 1652.2,601.5 1654.2,601.5 1656.2,601.5 1658.3,601.5 1660.3,601.5 1662.3,601.5 1664.4,601.5 1666.4,601.5 1668.5,601.5 1670.5,601.5 1672.5,601.4 1674.6,601.3 1676.6,601.0 1678.6,600.4 1680.7,599.3 1682.7,597.4 1684.7,594.6 1686.8,590.8 1688.8,585.8 1690.9,579.8 1692.9,572.7 1694.9,564.8 1697.0,556.3 1699.0,547.4 1701.0,538.4 1703.1,529.5 1705.1,520.9 1707.1,512.6 1709.2,504.8 1711.2,497.6 1713.3,491.0 1715.3,484.9 1717.3,479.5 1719.4,474.6 1721.4,470.2 1723.4,466.3 1725.5,462.9 1727.5,459.9 1729.5,457.3 1731.6,455.0 1733.6,453.0 1735.7,451.2 1737.7,449.7 1739.7,448.4 1741.8,447.3 1743.8,446.3 1745.8,445.4 1747.9,444.7 1749.9,444.0 1751.9,443.5 1754.0,443.0 1756.0,442.6 1758.1,442.3 1760.1,442.0 1762.1,441.7" fill="none" stroke="#3cc486" stroke-width="1.0" stroke-linejoin="round"/>
<polyline points="1574.8,601.5 1576.8,601.5 1578.8,601.5 1580.9,601.5 1582.9,601.5 1585.0,601.5 1587.0,601.5 1589.0,601.5 1591.1,601.5 1593.1,601.5 1595.1,601.5 1597.2,601.5 1599.2,601.5 1601.2,601.5 1603.3,601.5 1605.3,601.5 1607.4,601.5 1609.4,601.5 1611.4,601.5 1613.5,601.5 1615.5,601.5 1617.5,601.5 1619.6,601.5 1621.6,601.5 1623.6,601.5 1625.7,601.5 1627.7,601.5 1629.8,601.5 1631.8,601.5 1633.8,601.5 1635.9,601.5 1637.9,601.5 1639.9,601.5 1642.0,601.5 1644.0,601.5 1646.1,601.5 1648.1,601.5 1650.1,601.5 1652.2,601.5 1654.2,601.5 1656.2,601.5 1658.3,601.5 1660.3,601.5 1662.3,601.5 1664.4,601.5 1666.4,601.5 1668.5,601.4 1670.5,601.3 1672.5,601.1 1674.6,600.5 1676.6,599.5 1678.6,597.8 1680.7,595.2 1682.7,591.5 1684.7,586.8 1686.8,580.8 1688.8,573.9 1690.9,566.1 1692.9,557.6 1694.9,548.8 1697.0,539.7 1699.0,530.7 1701.0,522.0 1703.1,513.6 1705.1,505.6 1707.1,498.3 1709.2,491.5 1711.2,485.3 1713.3,479.7 1715.3,474.6 1717.3,470.1 1719.4,466.2 1721.4,462.6 1723.4,459.5 1725.5,456.8 1727.5,454.5 1729.5,452.4 1731.6,450.6 1733.6,449.0 1735.7,447.6 1737.7,446.5 1739.7,445.4 1741.8,444.6 1743.8,443.8 1745.8,443.1 1747.9,442.6 1749.9,442.1 1751.9,441.7 1754.0,441.3 1756.0,441.0 1758.1,440.7 1760.1,440.5 1762.1,440.3" fill="none" stroke="#8ed444" stroke-width="1.0" stroke-linejoin="round"/>
<polyline points="1574.8,601.5 1576.8,601.5 1578.8,601.5 1580.9,601.5 1582.9,601.5 1585.0,601.5 1587.0,601.5 1589.0,601.5 1591.1,601.5 1593.1,601.5 1595.1,601.5 1597.2,601.5 1599.2,601.5 1601.2,601.5 1603.3,601.5 1605.3,601.5 1607.4,601.5 1609.4,601.5 1611.4,601.5 1613.5,601.5 1615.5,601.5 1617.5,601.5 1619.6,601.5 1621.6,601.5 1623.6,601.5 1625.7,601.5 1627.7,601.5 1629.8,601.5 1631.8,601.5 1633.8,601.5 1635.9,601.5 1637.9,601.5 1639.9,601.5 1642.0,601.5 1644.0,601.5 1646.1,601.5 1648.1,601.5 1650.1,601.5 1652.2,601.5 1654.2,601.5 1656.2,601.5 1658.3,601.5 1660.3,601.5 1662.3,601.5 1664.4,601.5 1666.4,601.4 1668.5,601.1 1670.5,600.7 1672.5,599.7 1674.6,598.2 1676.6,595.7 1678.6,592.3 1680.7,587.7 1682.7,581.9 1684.7,575.1 1686.8,567.4 1688.8,559.0 1690.9,550.1 1692.9,541.0 1694.9,532.0 1697.0,523.1 1699.0,514.5 1701.0,506.5 1703.1,498.9 1705.1,492.0 1707.1,485.6 1709.2,479.9 1711.2,474.7 1713.3,470.1 1715.3,466.0 1717.3,462.4 1719.4,459.2 1721.4,456.4 1723.4,453.9 1725.5,451.8 1727.5,449.9 1729.5,448.3 1731.6,446.9 1733.6,445.7 1735.7,444.6 1737.7,443.7 1739.7,442.9 1741.8,442.2 1743.8,441.7 1745.8,441.1 1747.9,440.7 1749.9,440.3 1751.9,440.0 1754.0,439.7 1756.0,439.5 1758.1,439.3 1760.1,439.1 1762.1,439.0" fill="none" stroke="#34c43a" stroke-width="1.0" stroke-linejoin="round"/>
<line x1="1574.80" y1="581.40" x2="1762.00" y2="581.40" stroke="#e47be0" stroke-width="1.7"/>
<text transform="translate(1575.00,580.00) scale(0.5588,1)" font-size="8.96" fill="#c4101a" stroke="#c4101a" stroke-width="0.35"><tspan font-family="Liberation Serif, serif" font-weight="bold">0.314112</tspan></text>
<text transform="translate(1599.90,448.70) scale(1.0010,1)" font-size="17.00" fill="#000"><tspan font-style="italic">Het</tspan> gDNA</text>
<text transform="translate(1599.60,469.50) scale(1.0069,1)" font-size="17.00" fill="#000">(1.25-40ng)</text>
<rect x="112.60" y="1207.90" width="263.90" height="263.60" fill="#fff" stroke="#3a3a3a" stroke-width="1.8"/>
<rect x="126.80" y="1209.80" width="245.30" height="240.10" fill="#fff" stroke="#d0d0d0" stroke-width="1"/>
<path d="M132.33,1209.80V1449.90M143.46,1209.80V1449.90M154.58,1209.80V1449.90M165.71,1209.80V1449.90M176.84,1209.80V1449.90M187.97,1209.80V1449.90M199.10,1209.80V1449.90M210.22,1209.80V1449.90M221.35,1209.80V1449.90M232.48,1209.80V1449.90M243.61,1209.80V1449.90M254.74,1209.80V1449.90M265.86,1209.80V1449.90M276.99,1209.80V1449.90M288.12,1209.80V1449.90M299.25,1209.80V1449.90M310.38,1209.80V1449.90M321.50,1209.80V1449.90M332.63,1209.80V1449.90M343.76,1209.80V1449.90M354.89,1209.80V1449.90M366.02,1209.80V1449.90" stroke="#e2e2e2" stroke-width="0.8" stroke-dasharray="1.5,1.5" fill="none"/>
<path d="M126.80,1431.40H372.10M126.80,1409.34H372.10M126.80,1387.28H372.10M126.80,1365.22H372.10M126.80,1343.16H372.10M126.80,1321.10H372.10M126.80,1299.04H372.10M126.80,1276.98H372.10M126.80,1254.92H372.10M126.80,1232.86H372.10M126.80,1210.80H372.10" stroke="#dcdcdc" stroke-width="1" fill="none"/>
<path d="M126.80,1209.80V1449.90H372.10" stroke="#8a8a8a" stroke-width="1" fill="none"/>
<path d="M125.30,1431.40H126.80M125.30,1409.34H126.80M125.30,1387.28H126.80M125.30,1365.22H126.80M125.30,1343.16H126.80M125.30,1321.10H126.80M125.30,1299.04H126.80M125.30,1276.98H126.80M125.30,1254.92H126.80M125.30,1232.86H126.80M125.30,1210.80H126.80M132.33,1449.90V1451.70M143.46,1449.90V1451.70M154.58,1449.90V1451.70M165.71,1449.90V1451.70M176.84,1449.90V1451.70M187.97,1449.90V1451.70M199.10,1449.90V1451.70M210.22,1449.90V1451.70M221.35,1449.90V1451.70M232.48,1449.90V1451.70M243.61,1449.90V1451.70M254.74,1449.90V1451.70M265.86,1449.90V1451.70M276.99,1449.90V1451.70M288.12,1449.90V1451.70M299.25,1449.90V1451.70M310.38,1449.90V1451.70M321.50,1449.90V1451.70M332.63,1449.90V1451.70M343.76,1449.90V1451.70M354.89,1449.90V1451.70M366.02,1449.90V1451.70" stroke="#666" stroke-width="0.8" fill="none"/>
<g font-size="7.2" font-weight="bold" fill="#333" opacity="0.85"><text transform="translate(125.20,1433.99) scale(0.72,1)" text-anchor="end">0.0</text><text transform="translate(125.20,1411.93) scale(0.72,1)" text-anchor="end">0.1</text><text transform="translate(125.20,1389.87) scale(0.72,1)" text-anchor="end">0.2</text><text transform="translate(125.20,1367.81) scale(0.72,1)" text-anchor="end">0.3</text><text transform="translate(125.20,1345.75) scale(0.72,1)" text-anchor="end">0.4</text><text transform="translate(125.20,1323.69) scale(0.72,1)" text-anchor="end">0.5</text><text transform="translate(125.20,1301.63) scale(0.72,1)" text-anchor="end">0.6</text><text transform="translate(125.20,1279.57) scale(0.72,1)" text-anchor="end">0.7</text><text transform="translate(125.20,1257.51) scale(0.72,1)" text-anchor="end">0.8</text><text transform="translate(125.20,1235.45) scale(0.72,1)" text-anchor="end">0.9</text><text transform="translate(125.20,1213.39) scale(0.72,1)" text-anchor="end">1.0</text><text transform="translate(132.33,1461.70) scale(0.42,1)" text-anchor="middle">2</text><text transform="translate(143.46,1461.70) scale(0.42,1)" text-anchor="middle">4</text><text transform="translate(154.58,1461.70) scale(0.42,1)" text-anchor="middle">6</text><text transform="translate(165.71,1461.70) scale(0.42,1)" text-anchor="middle">8</text><text transform="translate(176.84,1461.70) scale(0.42,1)" text-anchor="middle">10</text><text transform="translate(187.97,1461.70) scale(0.42,1)" text-anchor="middle">12</text><text transform="translate(199.10,1461.70) scale(0.42,1)" text-anchor="middle">14</text><text transform="translate(210.22,1461.70) scale(0.42,1)" text-anchor="middle">16</text><text transform="translate(221.35,1461.70) scale(0.42,1)" text-anchor="middle">18</text><text transform="translate(232.48,1461.70) scale(0.42,1)" text-anchor="middle">20</text><text transform="translate(243.61,1461.70) scale(0.42,1)" text-anchor="middle">22</text><text transform="translate(254.74,1461.70) scale(0.42,1)" text-anchor="middle">24</text><text transform="translate(265.86,1461.70) scale(0.42,1)" text-anchor="middle">26</text><text transform="translate(276.99,1461.70) scale(0.42,1)" text-anchor="middle">28</text><text transform="translate(288.12,1461.70) scale(0.42,1)" text-anchor="middle">30</text><text transform="translate(299.25,1461.70) scale(0.42,1)" text-anchor="middle">32</text><text transform="translate(310.38,1461.70) scale(0.42,1)" text-anchor="middle">34</text><text transform="translate(321.50,1461.70) scale(0.42,1)" text-anchor="middle">36</text><text transform="translate(332.63,1461.70) scale(0.42,1)" text-anchor="middle">38</text><text transform="translate(343.76,1461.70) scale(0.42,1)" text-anchor="middle">40</text><text transform="translate(354.89,1461.70) scale(0.42,1)" text-anchor="middle">42</text><text transform="translate(366.02,1461.70) scale(0.42,1)" text-anchor="middle">44</text></g>
<polyline points="126.8,1431.4 129.5,1431.4 132.3,1431.4 135.1,1431.4 137.9,1431.4 140.7,1431.4 143.5,1431.4 146.2,1431.4 149.0,1431.4 151.8,1431.4 154.6,1431.4 157.4,1431.4 160.1,1431.4 162.9,1431.4 165.7,1431.4 168.5,1431.4 171.3,1431.4 174.1,1431.4 176.8,1431.4 179.6,1431.4 182.4,1431.4 185.2,1431.4 188.0,1431.4 190.8,1431.4 193.5,1431.4 196.3,1431.4 199.1,1431.4 201.9,1431.4 204.7,1431.4 207.4,1431.4 210.2,1431.4 213.0,1431.4 215.8,1431.4 218.6,1431.4 221.4,1431.4 224.1,1431.4 226.9,1431.4 229.7,1431.4 232.5,1431.4 235.3,1431.4 238.0,1431.4 240.8,1431.4 243.6,1431.4 246.4,1431.4 249.2,1431.4 252.0,1431.3 254.7,1431.3 257.5,1431.2 260.3,1431.1 263.1,1430.8 265.9,1430.4 268.6,1429.8 271.4,1428.7 274.2,1426.9 277.0,1424.3 279.8,1420.7 282.6,1415.9 285.3,1410.2 288.1,1403.9 290.9,1397.1 293.7,1390.1 296.5,1383.1 299.2,1376.2 302.0,1369.4 304.8,1362.8 307.6,1356.3 310.4,1350.1 313.2,1344.0 315.9,1338.2 318.7,1332.5 321.5,1327.0 324.3,1321.7 327.1,1316.5 329.9,1311.5 332.6,1306.6 335.4,1301.9 338.2,1297.4 341.0,1293.0 343.8,1288.7 346.5,1284.6 349.3,1280.6 352.1,1276.7 354.9,1273.0 357.7,1269.4 360.5,1265.8 363.2,1262.4 366.0,1259.1 368.8,1255.9 371.6,1252.8" fill="none" stroke="#eab040" stroke-width="1.15" stroke-linejoin="round"/>
<polyline points="126.8,1431.4 129.5,1431.4 132.3,1431.4 135.1,1431.4 137.9,1431.4 140.7,1431.4 143.5,1431.4 146.2,1431.4 149.0,1431.4 151.8,1431.4 154.6,1431.4 157.4,1431.4 160.1,1431.4 162.9,1431.4 165.7,1431.4 168.5,1431.4 171.3,1431.4 174.1,1431.4 176.8,1431.4 179.6,1431.4 182.4,1431.4 185.2,1431.4 188.0,1431.4 190.8,1431.4 193.5,1431.4 196.3,1431.4 199.1,1431.4 201.9,1431.4 204.7,1431.4 207.4,1431.4 210.2,1431.4 213.0,1431.4 215.8,1431.4 218.6,1431.4 221.4,1431.4 224.1,1431.4 226.9,1431.4 229.7,1431.4 232.5,1431.4 235.3,1431.4 238.0,1431.4 240.8,1431.4 243.6,1431.4 246.4,1431.4 249.2,1431.3 252.0,1431.3 254.7,1431.2 257.5,1431.0 260.3,1430.8 263.1,1430.3 265.9,1429.5 268.6,1428.3 271.4,1426.3 274.2,1423.4 277.0,1419.4 279.8,1414.4 282.6,1408.4 285.3,1401.9 288.1,1395.0 290.9,1388.0 293.7,1381.0 296.5,1374.1 299.2,1367.3 302.0,1360.8 304.8,1354.4 307.6,1348.2 310.4,1342.1 313.2,1336.3 315.9,1330.7 318.7,1325.2 321.5,1319.9 324.3,1314.8 327.1,1309.8 329.9,1305.0 332.6,1300.3 335.4,1295.8 338.2,1291.4 341.0,1287.2 343.8,1283.1 346.5,1279.1 349.3,1275.3 352.1,1271.6 354.9,1268.0 357.7,1264.5 360.5,1261.1 363.2,1257.8 366.0,1254.6 368.8,1251.6 371.6,1248.6" fill="none" stroke="#b43a22" stroke-width="1.15" stroke-linejoin="round"/>
<polyline points="126.8,1431.4 129.5,1431.4 132.3,1431.4 135.1,1431.4 137.9,1431.4 140.7,1431.4 143.5,1431.4 146.2,1431.4 149.0,1431.4 151.8,1431.4 154.6,1431.4 157.4,1431.4 160.1,1431.4 162.9,1431.4 165.7,1431.4 168.5,1431.4 171.3,1431.4 174.1,1431.4 176.8,1431.4 179.6,1431.4 182.4,1431.4 185.2,1431.4 188.0,1431.4 190.8,1431.4 193.5,1431.4 196.3,1431.4 199.1,1431.4 201.9,1431.4 204.7,1431.4 207.4,1431.4 210.2,1431.4 213.0,1431.4 215.8,1431.4 218.6,1431.4 221.4,1431.4 224.1,1431.4 226.9,1431.4 229.7,1431.4 232.5,1431.4 235.3,1431.4 238.0,1431.4 240.8,1431.4 243.6,1431.4 246.4,1431.3 249.2,1431.3 252.0,1431.1 254.7,1431.0 257.5,1430.6 260.3,1430.1 263.1,1429.2 265.9,1427.8 268.6,1425.5 271.4,1422.3 274.2,1418.0 277.0,1412.7 279.8,1406.5 282.6,1399.9 285.3,1392.9 288.1,1385.9 290.9,1378.9 293.7,1372.0 296.5,1365.3 299.2,1358.7 302.0,1352.4 304.8,1346.2 307.6,1340.3 310.4,1334.5 313.2,1328.9 315.9,1323.4 318.7,1318.2 321.5,1313.1 324.3,1308.1 327.1,1303.4 329.9,1298.7 332.6,1294.2 335.4,1289.9 338.2,1285.7 341.0,1281.6 343.8,1277.7 346.5,1273.9 349.3,1270.2 352.1,1266.6 354.9,1263.1 357.7,1259.7 360.5,1256.5 363.2,1253.3 366.0,1250.3 368.8,1247.3 371.6,1244.5" fill="none" stroke="#e6dc66" stroke-width="1.15" stroke-linejoin="round"/>
<polyline points="126.8,1431.4 129.5,1431.4 132.3,1431.4 135.1,1431.4 137.9,1431.4 140.7,1431.4 143.5,1431.4 146.2,1431.4 149.0,1431.4 151.8,1431.4 154.6,1431.4 157.4,1431.4 160.1,1431.4 162.9,1431.4 165.7,1431.4 168.5,1431.4 171.3,1431.4 174.1,1431.4 176.8,1431.4 179.6,1431.4 182.4,1431.4 185.2,1431.4 188.0,1431.4 190.8,1431.4 193.5,1431.4 196.3,1431.4 199.1,1431.4 201.9,1431.4 204.7,1431.4 207.4,1431.4 210.2,1431.4 213.0,1431.4 215.8,1431.4 218.6,1431.4 221.4,1431.4 224.1,1431.4 226.9,1431.4 229.7,1431.4 232.5,1431.4 235.3,1431.4 238.0,1431.4 240.8,1431.3 243.6,1431.3 246.4,1431.2 249.2,1431.1 252.0,1430.9 254.7,1430.5 257.5,1429.9 260.3,1428.9 263.1,1427.2 265.9,1424.7 268.6,1421.2 271.4,1416.6 274.2,1411.0 277.0,1404.6 279.8,1397.8 282.6,1390.8 285.3,1383.8 288.1,1376.8 290.9,1369.9 293.7,1363.2 296.5,1356.7 299.2,1350.4 302.0,1344.3 304.8,1338.4 307.6,1332.6 310.4,1327.0 313.2,1321.7 315.9,1316.4 318.7,1311.4 321.5,1306.5 324.3,1301.7 327.1,1297.1 329.9,1292.7 332.6,1288.4 335.4,1284.2 338.2,1280.1 341.0,1276.2 343.8,1272.4 346.5,1268.8 349.3,1265.2 352.1,1261.7 354.9,1258.4 357.7,1255.2 360.5,1252.1 363.2,1249.0 366.0,1246.1 368.8,1243.2 371.6,1240.5" fill="none" stroke="#e89430" stroke-width="1.15" stroke-linejoin="round"/>
<polyline points="126.8,1431.4 129.5,1431.4 132.3,1431.4 135.1,1431.4 137.9,1431.4 140.7,1431.4 143.5,1431.4 146.2,1431.4 149.0,1431.4 151.8,1431.4 154.6,1431.4 157.4,1431.4 160.1,1431.4 162.9,1431.4 165.7,1431.4 168.5,1431.4 171.3,1431.4 174.1,1431.4 176.8,1431.4 179.6,1431.4 182.4,1431.4 185.2,1431.4 188.0,1431.4 190.8,1431.4 193.5,1431.4 196.3,1431.4 199.1,1431.4 201.9,1431.4 204.7,1431.4 207.4,1431.4 210.2,1431.4 213.0,1431.4 215.8,1431.4 218.6,1431.4 221.4,1431.4 224.1,1431.4 226.9,1431.4 229.7,1431.4 232.5,1431.4 235.3,1431.4 238.0,1431.3 240.8,1431.3 243.6,1431.2 246.4,1431.1 249.2,1430.8 252.0,1430.4 254.7,1429.6 257.5,1428.5 260.3,1426.6 263.1,1423.8 265.9,1420.0 268.6,1415.0 271.4,1409.2 274.2,1402.6 277.0,1395.7 279.8,1388.7 282.6,1381.6 285.3,1374.7 288.1,1367.9 290.9,1361.2 293.7,1354.7 296.5,1348.5 299.2,1342.4 302.0,1336.5 304.8,1330.8 307.6,1325.2 310.4,1319.9 313.2,1314.7 315.9,1309.7 318.7,1304.8 321.5,1300.1 324.3,1295.5 327.1,1291.1 329.9,1286.8 332.6,1282.7 335.4,1278.7 338.2,1274.8 341.0,1271.0 343.8,1267.3 346.5,1263.8 349.3,1260.4 352.1,1257.1 354.9,1253.9 357.7,1250.8 360.5,1247.8 363.2,1244.8 366.0,1242.0 368.8,1239.3 371.6,1236.6" fill="none" stroke="#cc4a2a" stroke-width="1.15" stroke-linejoin="round"/>
<polyline points="126.8,1431.4 129.5,1431.4 132.3,1431.4 135.1,1431.4 137.9,1431.4 140.7,1431.4 143.5,1431.4 146.2,1431.4 149.0,1431.4 151.8,1431.4 154.6,1431.4 157.4,1431.4 160.1,1431.4 162.9,1431.4 165.7,1431.4 168.5,1431.4 171.3,1431.4 174.1,1431.4 176.8,1431.4 179.6,1431.4 182.4,1431.4 185.2,1431.4 188.0,1431.4 190.8,1431.4 193.5,1431.4 196.3,1431.4 199.1,1431.4 201.9,1431.4 204.7,1431.4 207.4,1431.4 210.2,1431.4 213.0,1431.4 215.8,1431.4 218.6,1431.4 221.4,1431.4 224.1,1431.4 226.9,1431.4 229.7,1431.4 232.5,1431.4 235.3,1431.3 238.0,1431.3 240.8,1431.2 243.6,1431.0 246.4,1430.7 249.2,1430.2 252.0,1429.4 254.7,1428.0 257.5,1425.9 260.3,1422.8 263.1,1418.6 265.9,1413.4 268.6,1407.3 271.4,1400.6 274.2,1393.7 277.0,1386.6 279.8,1379.5 282.6,1372.6 285.3,1365.8 288.1,1359.2 290.9,1352.7 293.7,1346.5 296.5,1340.5 299.2,1334.6 302.0,1328.9 304.8,1323.5 307.6,1318.1 310.4,1313.0 313.2,1308.0 315.9,1303.1 318.7,1298.5 321.5,1293.9 324.3,1289.5 327.1,1285.3 329.9,1281.2 332.6,1277.2 335.4,1273.3 338.2,1269.6 341.0,1266.0 343.8,1262.4 346.5,1259.0 349.3,1255.8 352.1,1252.6 354.9,1249.5 357.7,1246.5 360.5,1243.6 363.2,1240.8 366.0,1238.1 368.8,1235.4 371.6,1232.9" fill="none" stroke="#ecd040" stroke-width="1.15" stroke-linejoin="round"/>
<polyline points="126.8,1431.4 129.5,1431.4 132.3,1431.4 135.1,1431.4 137.9,1431.4 140.7,1431.4 143.5,1431.4 146.2,1431.4 149.0,1431.4 151.8,1431.4 154.6,1431.4 157.4,1431.4 160.1,1431.4 162.9,1431.4 165.7,1431.4 168.5,1431.4 171.3,1431.4 174.1,1431.4 176.8,1431.4 179.6,1431.4 182.4,1431.4 185.2,1431.4 188.0,1431.4 190.8,1431.4 193.5,1431.4 196.3,1431.4 199.1,1431.4 201.9,1431.4 204.7,1431.4 207.4,1431.4 210.2,1431.4 213.0,1431.4 215.8,1431.4 218.6,1431.4 221.4,1431.4 224.1,1431.4 226.9,1431.4 229.7,1431.3 232.5,1431.3 235.3,1431.2 238.0,1431.1 240.8,1430.9 243.6,1430.6 246.4,1430.0 249.2,1429.0 252.0,1427.5 254.7,1425.1 257.5,1421.7 260.3,1417.2 263.1,1411.7 265.9,1405.4 268.6,1398.6 271.4,1391.5 274.2,1384.4 277.0,1377.4 279.8,1370.5 282.6,1363.7 285.3,1357.1 288.1,1350.8 290.9,1344.6 293.7,1338.6 296.5,1332.8 299.2,1327.1 302.0,1321.7 304.8,1316.4 307.6,1311.3 310.4,1306.3 313.2,1301.5 315.9,1296.8 318.7,1292.3 321.5,1288.0 324.3,1283.8 327.1,1279.7 329.9,1275.7 332.6,1271.9 335.4,1268.2 338.2,1264.6 341.0,1261.1 343.8,1257.7 346.5,1254.4 349.3,1251.3 352.1,1248.2 354.9,1245.2 357.7,1242.4 360.5,1239.6 363.2,1236.9 366.0,1234.3 368.8,1231.7 371.6,1229.3" fill="none" stroke="#e0701c" stroke-width="1.15" stroke-linejoin="round"/>
<polyline points="126.8,1431.4 129.5,1431.4 132.3,1431.4 135.1,1431.4 137.9,1431.4 140.7,1431.4 143.5,1431.4 146.2,1431.4 149.0,1431.4 151.8,1431.4 154.6,1431.4 157.4,1431.4 160.1,1431.4 162.9,1431.4 165.7,1431.4 168.5,1431.4 171.3,1431.4 174.1,1431.4 176.8,1431.4 179.6,1431.4 182.4,1431.4 185.2,1431.4 188.0,1431.4 190.8,1431.4 193.5,1431.4 196.3,1431.4 199.1,1431.4 201.9,1431.4 204.7,1431.4 207.4,1431.4 210.2,1431.4 213.0,1431.4 215.8,1431.4 218.6,1431.4 221.4,1431.4 224.1,1431.4 226.9,1431.3 229.7,1431.3 232.5,1431.2 235.3,1431.1 238.0,1430.8 240.8,1430.4 243.6,1429.8 246.4,1428.6 249.2,1426.9 252.0,1424.2 254.7,1420.5 257.5,1415.7 260.3,1409.9 263.1,1403.4 265.9,1396.5 268.6,1389.4 271.4,1382.3 274.2,1375.3 277.0,1368.4 279.8,1361.7 282.6,1355.1 285.3,1348.8 288.1,1342.6 290.9,1336.7 293.7,1330.9 296.5,1325.3 299.2,1319.9 302.0,1314.6 304.8,1309.6 307.6,1304.6 310.4,1299.9 313.2,1295.2 315.9,1290.8 318.7,1286.4 321.5,1282.2 324.3,1278.2 327.1,1274.2 329.9,1270.4 332.6,1266.7 335.4,1263.2 338.2,1259.7 341.0,1256.4 343.8,1253.1 346.5,1250.0 349.3,1246.9 352.1,1244.0 354.9,1241.1 357.7,1238.4 360.5,1235.7 363.2,1233.1 366.0,1230.6 368.8,1228.1 371.6,1225.8" fill="none" stroke="#c0301e" stroke-width="1.15" stroke-linejoin="round"/>
<line x1="126.80" y1="1428.70" x2="372.10" y2="1428.70" stroke="#5b9ee6" stroke-width="1.7"/>
<text transform="translate(127.00,1427.00) scale(0.5890,1)" font-size="10.64" fill="#c4101a" stroke="#c4101a" stroke-width="0.35"><tspan font-family="Liberation Serif, serif" font-weight="bold">0.014629</tspan></text>
<text transform="translate(156.30,1239.00) scale(0.9987,1)" font-size="22.00" fill="#000"><tspan font-style="italic">Het</tspan> gDNA</text>
<text transform="translate(155.40,1265.20) scale(1.0102,1)" font-size="22.00" fill="#000">(1.25-40ng)</text>
<rect x="386.10" y="1207.40" width="264.10" height="264.10" fill="#fff" stroke="#3a3a3a" stroke-width="1.8"/>
<rect x="398.60" y="1208.90" width="244.20" height="245.60" fill="#fff" stroke="#d0d0d0" stroke-width="1"/>
<path d="M404.18,1208.90V1454.50M415.26,1208.90V1454.50M426.34,1208.90V1454.50M437.42,1208.90V1454.50M448.50,1208.90V1454.50M459.58,1208.90V1454.50M470.66,1208.90V1454.50M481.74,1208.90V1454.50M492.82,1208.90V1454.50M503.90,1208.90V1454.50M514.98,1208.90V1454.50M526.06,1208.90V1454.50M537.14,1208.90V1454.50M548.22,1208.90V1454.50M559.30,1208.90V1454.50M570.38,1208.90V1454.50M581.46,1208.90V1454.50M592.54,1208.90V1454.50M603.62,1208.90V1454.50M614.70,1208.90V1454.50M625.78,1208.90V1454.50M636.86,1208.90V1454.50" stroke="#e2e2e2" stroke-width="0.8" stroke-dasharray="1.5,1.5" fill="none"/>
<path d="M398.60,1435.70H642.80M398.60,1413.12H642.80M398.60,1390.54H642.80M398.60,1367.96H642.80M398.60,1345.38H642.80M398.60,1322.80H642.80M398.60,1300.22H642.80M398.60,1277.64H642.80M398.60,1255.06H642.80M398.60,1232.48H642.80M398.60,1209.90H642.80" stroke="#dcdcdc" stroke-width="1" fill="none"/>
<path d="M398.60,1208.90V1454.50H642.80" stroke="#8a8a8a" stroke-width="1" fill="none"/>
<path d="M397.10,1435.70H398.60M397.10,1413.12H398.60M397.10,1390.54H398.60M397.10,1367.96H398.60M397.10,1345.38H398.60M397.10,1322.80H398.60M397.10,1300.22H398.60M397.10,1277.64H398.60M397.10,1255.06H398.60M397.10,1232.48H398.60M397.10,1209.90H398.60M404.18,1454.50V1456.30M415.26,1454.50V1456.30M426.34,1454.50V1456.30M437.42,1454.50V1456.30M448.50,1454.50V1456.30M459.58,1454.50V1456.30M470.66,1454.50V1456.30M481.74,1454.50V1456.30M492.82,1454.50V1456.30M503.90,1454.50V1456.30M514.98,1454.50V1456.30M526.06,1454.50V1456.30M537.14,1454.50V1456.30M548.22,1454.50V1456.30M559.30,1454.50V1456.30M570.38,1454.50V1456.30M581.46,1454.50V1456.30M592.54,1454.50V1456.30M603.62,1454.50V1456.30M614.70,1454.50V1456.30M625.78,1454.50V1456.30M636.86,1454.50V1456.30" stroke="#666" stroke-width="0.8" fill="none"/>
<g font-size="7.2" font-weight="bold" fill="#333" opacity="0.85"><text transform="translate(397.00,1438.29) scale(0.72,1)" text-anchor="end">0.0</text><text transform="translate(397.00,1415.71) scale(0.72,1)" text-anchor="end">0.1</text><text transform="translate(397.00,1393.13) scale(0.72,1)" text-anchor="end">0.2</text><text transform="translate(397.00,1370.55) scale(0.72,1)" text-anchor="end">0.3</text><text transform="translate(397.00,1347.97) scale(0.72,1)" text-anchor="end">0.4</text><text transform="translate(397.00,1325.39) scale(0.72,1)" text-anchor="end">0.5</text><text transform="translate(397.00,1302.81) scale(0.72,1)" text-anchor="end">0.6</text><text transform="translate(397.00,1280.23) scale(0.72,1)" text-anchor="end">0.7</text><text transform="translate(397.00,1257.65) scale(0.72,1)" text-anchor="end">0.8</text><text transform="translate(397.00,1235.07) scale(0.72,1)" text-anchor="end">0.9</text><text transform="translate(397.00,1212.49) scale(0.72,1)" text-anchor="end">1.0</text><text transform="translate(404.18,1466.30) scale(0.42,1)" text-anchor="middle">2</text><text transform="translate(415.26,1466.30) scale(0.42,1)" text-anchor="middle">4</text><text transform="translate(426.34,1466.30) scale(0.42,1)" text-anchor="middle">6</text><text transform="translate(437.42,1466.30) scale(0.42,1)" text-anchor="middle">8</text><text transform="translate(448.50,1466.30) scale(0.42,1)" text-anchor="middle">10</text><text transform="translate(459.58,1466.30) scale(0.42,1)" text-anchor="middle">12</text><text transform="translate(470.66,1466.30) scale(0.42,1)" text-anchor="middle">14</text><text transform="translate(481.74,1466.30) scale(0.42,1)" text-anchor="middle">16</text><text transform="translate(492.82,1466.30) scale(0.42,1)" text-anchor="middle">18</text><text transform="translate(503.90,1466.30) scale(0.42,1)" text-anchor="middle">20</text><text transform="translate(514.98,1466.30) scale(0.42,1)" text-anchor="middle">22</text><text transform="translate(526.06,1466.30) scale(0.42,1)" text-anchor="middle">24</text><text transform="translate(537.14,1466.30) scale(0.42,1)" text-anchor="middle">26</text><text transform="translate(548.22,1466.30) scale(0.42,1)" text-anchor="middle">28</text><text transform="translate(559.30,1466.30) scale(0.42,1)" text-anchor="middle">30</text><text transform="translate(570.38,1466.30) scale(0.42,1)" text-anchor="middle">32</text><text transform="translate(581.46,1466.30) scale(0.42,1)" text-anchor="middle">34</text><text transform="translate(592.54,1466.30) scale(0.42,1)" text-anchor="middle">36</text><text transform="translate(603.62,1466.30) scale(0.42,1)" text-anchor="middle">38</text><text transform="translate(614.70,1466.30) scale(0.42,1)" text-anchor="middle">40</text><text transform="translate(625.78,1466.30) scale(0.42,1)" text-anchor="middle">42</text><text transform="translate(636.86,1466.30) scale(0.42,1)" text-anchor="middle">44</text></g>
<polyline points="398.6,1435.7 401.4,1435.7 404.2,1435.7 407.0,1435.7 409.7,1435.7 412.5,1435.7 415.3,1435.7 418.0,1435.7 420.8,1435.7 423.6,1435.7 426.3,1435.7 429.1,1435.7 431.9,1435.7 434.7,1435.7 437.4,1435.7 440.2,1435.7 443.0,1435.7 445.7,1435.7 448.5,1435.7 451.3,1435.7 454.0,1435.7 456.8,1435.7 459.6,1435.7 462.4,1435.7 465.1,1435.7 467.9,1435.7 470.7,1435.7 473.4,1435.7 476.2,1435.7 479.0,1435.7 481.7,1435.7 484.5,1435.7 487.3,1435.7 490.1,1435.7 492.8,1435.7 495.6,1435.7 498.4,1435.7 501.1,1435.7 503.9,1435.7 506.7,1435.7 509.4,1435.7 512.2,1435.7 515.0,1435.7 517.8,1435.7 520.5,1435.7 523.3,1435.7 526.1,1435.7 528.8,1435.7 531.6,1435.7 534.4,1435.5 537.1,1435.3 539.9,1434.7 542.7,1433.7 545.5,1432.0 548.2,1429.5 551.0,1425.8 553.8,1421.1 556.5,1415.2 559.3,1408.2 562.1,1400.4 564.8,1392.0 567.6,1383.1 570.4,1374.1 573.2,1365.1 575.9,1356.3 578.7,1347.9 581.5,1339.9 584.2,1332.5 587.0,1325.7 589.8,1319.5 592.5,1313.9 595.3,1308.8 598.1,1304.3 600.9,1300.3 603.6,1296.8 606.4,1293.7 609.2,1291.0 611.9,1288.6 614.7,1286.5 617.5,1284.7 620.2,1283.1 623.0,1281.8 625.8,1280.6 628.5,1279.5 631.3,1278.7 634.1,1277.9 636.9,1277.2 639.6,1276.7 642.4,1276.2" fill="none" stroke="#6ad060" stroke-width="1.15" stroke-linejoin="round"/>
<polyline points="398.6,1435.7 401.4,1435.7 404.2,1435.7 407.0,1435.7 409.7,1435.7 412.5,1435.7 415.3,1435.7 418.0,1435.7 420.8,1435.7 423.6,1435.7 426.3,1435.7 429.1,1435.7 431.9,1435.7 434.7,1435.7 437.4,1435.7 440.2,1435.7 443.0,1435.7 445.7,1435.7 448.5,1435.7 451.3,1435.7 454.0,1435.7 456.8,1435.7 459.6,1435.7 462.4,1435.7 465.1,1435.7 467.9,1435.7 470.7,1435.7 473.4,1435.7 476.2,1435.7 479.0,1435.7 481.7,1435.7 484.5,1435.7 487.3,1435.7 490.1,1435.7 492.8,1435.7 495.6,1435.7 498.4,1435.7 501.1,1435.7 503.9,1435.7 506.7,1435.7 509.4,1435.7 512.2,1435.7 515.0,1435.7 517.8,1435.7 520.5,1435.7 523.3,1435.7 526.1,1435.7 528.8,1435.6 531.6,1435.5 534.4,1435.2 537.1,1434.6 539.9,1433.5 542.7,1431.6 545.5,1428.8 548.2,1424.9 551.0,1419.9 553.8,1413.7 556.5,1406.5 559.3,1398.5 562.1,1389.8 564.8,1380.7 567.6,1371.5 570.4,1362.4 573.2,1353.5 575.9,1345.1 578.7,1337.1 581.5,1329.7 584.2,1322.9 587.0,1316.6 589.8,1311.0 592.5,1306.0 595.3,1301.5 598.1,1297.5 600.9,1294.0 603.6,1290.9 606.4,1288.2 609.2,1285.9 611.9,1283.8 614.7,1282.0 617.5,1280.4 620.2,1279.1 623.0,1277.9 625.8,1276.9 628.5,1276.0 631.3,1275.3 634.1,1274.6 636.9,1274.0 639.6,1273.6 642.4,1273.1" fill="none" stroke="#2cb040" stroke-width="1.15" stroke-linejoin="round"/>
<polyline points="398.6,1435.7 401.4,1435.7 404.2,1435.7 407.0,1435.7 409.7,1435.7 412.5,1435.7 415.3,1435.7 418.0,1435.7 420.8,1435.7 423.6,1435.7 426.3,1435.7 429.1,1435.7 431.9,1435.7 434.7,1435.7 437.4,1435.7 440.2,1435.7 443.0,1435.7 445.7,1435.7 448.5,1435.7 451.3,1435.7 454.0,1435.7 456.8,1435.7 459.6,1435.7 462.4,1435.7 465.1,1435.7 467.9,1435.7 470.7,1435.7 473.4,1435.7 476.2,1435.7 479.0,1435.7 481.7,1435.7 484.5,1435.7 487.3,1435.7 490.1,1435.7 492.8,1435.7 495.6,1435.7 498.4,1435.7 501.1,1435.7 503.9,1435.7 506.7,1435.7 509.4,1435.7 512.2,1435.7 515.0,1435.7 517.8,1435.7 520.5,1435.7 523.3,1435.7 526.1,1435.6 528.8,1435.5 531.6,1435.1 534.4,1434.4 537.1,1433.2 539.9,1431.1 542.7,1428.1 545.5,1424.0 548.2,1418.6 551.0,1412.2 553.8,1404.7 556.5,1396.4 559.3,1387.5 562.1,1378.3 564.8,1368.9 567.6,1359.7 570.4,1350.7 573.2,1342.2 575.9,1334.2 578.7,1326.8 581.5,1320.0 584.2,1313.8 587.0,1308.2 589.8,1303.2 592.5,1298.7 595.3,1294.7 598.1,1291.3 600.9,1288.2 603.6,1285.5 606.4,1283.1 609.2,1281.1 611.9,1279.3 614.7,1277.8 617.5,1276.4 620.2,1275.3 623.0,1274.3 625.8,1273.4 628.5,1272.6 631.3,1272.0 634.1,1271.4 636.9,1270.9 639.6,1270.5 642.4,1270.2" fill="none" stroke="#44bca6" stroke-width="1.15" stroke-linejoin="round"/>
<polyline points="398.6,1435.7 401.4,1435.7 404.2,1435.7 407.0,1435.7 409.7,1435.7 412.5,1435.7 415.3,1435.7 418.0,1435.7 420.8,1435.7 423.6,1435.7 426.3,1435.7 429.1,1435.7 431.9,1435.7 434.7,1435.7 437.4,1435.7 440.2,1435.7 443.0,1435.7 445.7,1435.7 448.5,1435.7 451.3,1435.7 454.0,1435.7 456.8,1435.7 459.6,1435.7 462.4,1435.7 465.1,1435.7 467.9,1435.7 470.7,1435.7 473.4,1435.7 476.2,1435.7 479.0,1435.7 481.7,1435.7 484.5,1435.7 487.3,1435.7 490.1,1435.7 492.8,1435.7 495.6,1435.7 498.4,1435.7 501.1,1435.7 503.9,1435.7 506.7,1435.7 509.4,1435.7 512.2,1435.7 515.0,1435.7 517.8,1435.7 520.5,1435.7 523.3,1435.6 526.1,1435.4 528.8,1435.0 531.6,1434.2 534.4,1432.8 537.1,1430.6 539.9,1427.4 542.7,1422.9 545.5,1417.3 548.2,1410.6 551.0,1402.8 553.8,1394.3 556.5,1385.2 559.3,1375.8 562.1,1366.3 564.8,1356.9 567.6,1347.9 570.4,1339.3 573.2,1331.3 575.9,1323.9 578.7,1317.1 581.5,1310.9 584.2,1305.3 587.0,1300.3 589.8,1295.9 592.5,1291.9 595.3,1288.5 598.1,1285.4 600.9,1282.8 603.6,1280.4 606.4,1278.4 609.2,1276.6 611.9,1275.1 614.7,1273.8 617.5,1272.6 620.2,1271.6 623.0,1270.7 625.8,1270.0 628.5,1269.4 631.3,1268.8 634.1,1268.3 636.9,1267.9 639.6,1267.6 642.4,1267.3" fill="none" stroke="#a8da52" stroke-width="1.15" stroke-linejoin="round"/>
<polyline points="398.6,1435.7 401.4,1435.7 404.2,1435.7 407.0,1435.7 409.7,1435.7 412.5,1435.7 415.3,1435.7 418.0,1435.7 420.8,1435.7 423.6,1435.7 426.3,1435.7 429.1,1435.7 431.9,1435.7 434.7,1435.7 437.4,1435.7 440.2,1435.7 443.0,1435.7 445.7,1435.7 448.5,1435.7 451.3,1435.7 454.0,1435.7 456.8,1435.7 459.6,1435.7 462.4,1435.7 465.1,1435.7 467.9,1435.7 470.7,1435.7 473.4,1435.7 476.2,1435.7 479.0,1435.7 481.7,1435.7 484.5,1435.7 487.3,1435.7 490.1,1435.7 492.8,1435.7 495.6,1435.7 498.4,1435.7 501.1,1435.7 503.9,1435.7 506.7,1435.7 509.4,1435.7 512.2,1435.7 515.0,1435.7 517.8,1435.7 520.5,1435.6 523.3,1435.4 526.1,1434.9 528.8,1434.0 531.6,1432.5 534.4,1430.0 537.1,1426.5 539.9,1421.9 542.7,1416.0 545.5,1408.9 548.2,1400.9 551.0,1392.1 553.8,1382.8 556.5,1373.2 559.3,1363.6 562.1,1354.1 564.8,1345.1 567.6,1336.4 570.4,1328.4 573.2,1320.9 575.9,1314.1 578.7,1308.0 581.5,1302.4 584.2,1297.4 587.0,1293.0 589.8,1289.1 592.5,1285.7 595.3,1282.7 598.1,1280.0 600.9,1277.7 603.6,1275.7 606.4,1273.9 609.2,1272.4 611.9,1271.1 614.7,1270.0 617.5,1269.0 620.2,1268.1 623.0,1267.4 625.8,1266.7 628.5,1266.2 631.3,1265.7 634.1,1265.3 636.9,1265.0 639.6,1264.7 642.4,1264.4" fill="none" stroke="#52d050" stroke-width="1.15" stroke-linejoin="round"/>
<polyline points="398.6,1435.7 401.4,1435.7 404.2,1435.7 407.0,1435.7 409.7,1435.7 412.5,1435.7 415.3,1435.7 418.0,1435.7 420.8,1435.7 423.6,1435.7 426.3,1435.7 429.1,1435.7 431.9,1435.7 434.7,1435.7 437.4,1435.7 440.2,1435.7 443.0,1435.7 445.7,1435.7 448.5,1435.7 451.3,1435.7 454.0,1435.7 456.8,1435.7 459.6,1435.7 462.4,1435.7 465.1,1435.7 467.9,1435.7 470.7,1435.7 473.4,1435.7 476.2,1435.7 479.0,1435.7 481.7,1435.7 484.5,1435.7 487.3,1435.7 490.1,1435.7 492.8,1435.7 495.6,1435.7 498.4,1435.7 501.1,1435.7 503.9,1435.7 506.7,1435.7 509.4,1435.7 512.2,1435.7 515.0,1435.7 517.8,1435.6 520.5,1435.3 523.3,1434.8 526.1,1433.8 528.8,1432.1 531.6,1429.4 534.4,1425.7 537.1,1420.7 539.9,1414.5 542.7,1407.2 545.5,1398.9 548.2,1389.9 551.0,1380.3 553.8,1370.6 556.5,1360.8 559.3,1351.3 562.1,1342.2 564.8,1333.5 567.6,1325.4 570.4,1318.0 573.2,1311.2 575.9,1305.1 578.7,1299.5 581.5,1294.6 584.2,1290.2 587.0,1286.3 589.8,1282.9 592.5,1279.9 595.3,1277.3 598.1,1275.0 600.9,1273.0 603.6,1271.2 606.4,1269.7 609.2,1268.4 611.9,1267.3 614.7,1266.3 617.5,1265.5 620.2,1264.7 623.0,1264.1 625.8,1263.6 628.5,1263.1 631.3,1262.7 634.1,1262.4 636.9,1262.1 639.6,1261.8 642.4,1261.6" fill="none" stroke="#3cc486" stroke-width="1.15" stroke-linejoin="round"/>
<polyline points="398.6,1435.7 401.4,1435.7 404.2,1435.7 407.0,1435.7 409.7,1435.7 412.5,1435.7 415.3,1435.7 418.0,1435.7 420.8,1435.7 423.6,1435.7 426.3,1435.7 429.1,1435.7 431.9,1435.7 434.7,1435.7 437.4,1435.7 440.2,1435.7 443.0,1435.7 445.7,1435.7 448.5,1435.7 451.3,1435.7 454.0,1435.7 456.8,1435.7 459.6,1435.7 462.4,1435.7 465.1,1435.7 467.9,1435.7 470.7,1435.7 473.4,1435.7 476.2,1435.7 479.0,1435.7 481.7,1435.7 484.5,1435.7 487.3,1435.7 490.1,1435.7 492.8,1435.7 495.6,1435.7 498.4,1435.7 501.1,1435.7 503.9,1435.7 506.7,1435.7 509.4,1435.7 512.2,1435.6 515.0,1435.5 517.8,1435.2 520.5,1434.6 523.3,1433.5 526.1,1431.6 528.8,1428.8 531.6,1424.8 534.4,1419.5 537.1,1413.0 539.9,1405.4 542.7,1396.8 545.5,1387.6 548.2,1377.8 551.0,1367.9 553.8,1358.1 556.5,1348.5 559.3,1339.3 562.1,1330.6 564.8,1322.5 567.6,1315.0 570.4,1308.3 573.2,1302.1 575.9,1296.6 578.7,1291.7 581.5,1287.3 584.2,1283.5 587.0,1280.1 589.8,1277.1 592.5,1274.5 595.3,1272.2 598.1,1270.3 600.9,1268.5 603.6,1267.0 606.4,1265.8 609.2,1264.6 611.9,1263.7 614.7,1262.8 617.5,1262.1 620.2,1261.5 623.0,1261.0 625.8,1260.5 628.5,1260.1 631.3,1259.8 634.1,1259.5 636.9,1259.2 639.6,1259.0 642.4,1258.8" fill="none" stroke="#8ed444" stroke-width="1.15" stroke-linejoin="round"/>
<polyline points="398.6,1435.7 401.4,1435.7 404.2,1435.7 407.0,1435.7 409.7,1435.7 412.5,1435.7 415.3,1435.7 418.0,1435.7 420.8,1435.7 423.6,1435.7 426.3,1435.7 429.1,1435.7 431.9,1435.7 434.7,1435.7 437.4,1435.7 440.2,1435.7 443.0,1435.7 445.7,1435.7 448.5,1435.7 451.3,1435.7 454.0,1435.7 456.8,1435.7 459.6,1435.7 462.4,1435.7 465.1,1435.7 467.9,1435.7 470.7,1435.7 473.4,1435.7 476.2,1435.7 479.0,1435.7 481.7,1435.7 484.5,1435.7 487.3,1435.7 490.1,1435.7 492.8,1435.7 495.6,1435.7 498.4,1435.7 501.1,1435.7 503.9,1435.7 506.7,1435.7 509.4,1435.6 512.2,1435.5 515.0,1435.2 517.8,1434.5 520.5,1433.2 523.3,1431.1 526.1,1428.1 528.8,1423.8 531.6,1418.2 534.4,1411.4 537.1,1403.5 539.9,1394.7 542.7,1385.2 545.5,1375.3 548.2,1365.2 551.0,1355.2 553.8,1345.6 556.5,1336.3 559.3,1327.6 562.1,1319.5 564.8,1312.1 567.6,1305.3 570.4,1299.2 573.2,1293.7 575.9,1288.8 578.7,1284.5 581.5,1280.7 584.2,1277.3 587.0,1274.3 589.8,1271.8 592.5,1269.5 595.3,1267.5 598.1,1265.8 600.9,1264.4 603.6,1263.1 606.4,1262.0 609.2,1261.0 611.9,1260.2 614.7,1259.5 617.5,1258.9 620.2,1258.3 623.0,1257.9 625.8,1257.5 628.5,1257.1 631.3,1256.9 634.1,1256.6 636.9,1256.4 639.6,1256.2 642.4,1256.0" fill="none" stroke="#34c43a" stroke-width="1.15" stroke-linejoin="round"/>
<line x1="398.60" y1="1432.30" x2="642.80" y2="1432.30" stroke="#5b9ee6" stroke-width="1.7"/>
<text transform="translate(398.80,1430.50) scale(0.5940,1)" font-size="10.64" fill="#c4101a" stroke="#c4101a" stroke-width="0.35"><tspan font-family="Liberation Serif, serif" font-weight="bold">0.014629</tspan></text>
<text transform="translate(431.90,1239.00) scale(1.0018,1)" font-size="22.00" fill="#000"><tspan font-style="italic">Het</tspan> gDNA</text>
<text transform="translate(431.30,1265.20) scale(1.0120,1)" font-size="22.00" fill="#000">(1.25-40ng)</text>
<rect x="661.10" y="1207.40" width="264.10" height="264.10" fill="#fff" stroke="#3a3a3a" stroke-width="1.8"/>
<rect x="676.40" y="1212.50" width="242.00" height="238.70" fill="#fff" stroke="#d0d0d0" stroke-width="1"/>
<path d="M681.40,1212.50V1451.20M692.39,1212.50V1451.20M703.39,1212.50V1451.20M714.38,1212.50V1451.20M725.38,1212.50V1451.20M736.38,1212.50V1451.20M747.37,1212.50V1451.20M758.37,1212.50V1451.20M769.36,1212.50V1451.20M780.36,1212.50V1451.20M791.36,1212.50V1451.20M802.35,1212.50V1451.20M813.35,1212.50V1451.20M824.34,1212.50V1451.20M835.34,1212.50V1451.20M846.34,1212.50V1451.20M857.33,1212.50V1451.20M868.33,1212.50V1451.20M879.32,1212.50V1451.20M890.32,1212.50V1451.20M901.32,1212.50V1451.20M912.31,1212.50V1451.20" stroke="#e2e2e2" stroke-width="0.8" stroke-dasharray="1.5,1.5" fill="none"/>
<path d="M676.40,1439.20H918.40M676.40,1410.99H918.40M676.40,1382.78H918.40M676.40,1354.57H918.40M676.40,1326.36H918.40M676.40,1298.15H918.40M676.40,1269.94H918.40M676.40,1241.73H918.40M676.40,1213.52H918.40" stroke="#dcdcdc" stroke-width="1" fill="none"/>
<path d="M676.40,1212.50V1451.20H918.40" stroke="#8a8a8a" stroke-width="1" fill="none"/>
<path d="M674.90,1439.20H676.40M674.90,1410.99H676.40M674.90,1382.78H676.40M674.90,1354.57H676.40M674.90,1326.36H676.40M674.90,1298.15H676.40M674.90,1269.94H676.40M674.90,1241.73H676.40M674.90,1213.52H676.40M681.40,1451.20V1453.00M692.39,1451.20V1453.00M703.39,1451.20V1453.00M714.38,1451.20V1453.00M725.38,1451.20V1453.00M736.38,1451.20V1453.00M747.37,1451.20V1453.00M758.37,1451.20V1453.00M769.36,1451.20V1453.00M780.36,1451.20V1453.00M791.36,1451.20V1453.00M802.35,1451.20V1453.00M813.35,1451.20V1453.00M824.34,1451.20V1453.00M835.34,1451.20V1453.00M846.34,1451.20V1453.00M857.33,1451.20V1453.00M868.33,1451.20V1453.00M879.32,1451.20V1453.00M890.32,1451.20V1453.00M901.32,1451.20V1453.00M912.31,1451.20V1453.00" stroke="#666" stroke-width="0.8" fill="none"/>
<g font-size="7.2" font-weight="bold" fill="#333" opacity="0.85"><text transform="translate(674.80,1441.79) scale(0.72,1)" text-anchor="end">0.0</text><text transform="translate(674.80,1413.58) scale(0.72,1)" text-anchor="end">0.1</text><text transform="translate(674.80,1385.37) scale(0.72,1)" text-anchor="end">0.2</text><text transform="translate(674.80,1357.16) scale(0.72,1)" text-anchor="end">0.3</text><text transform="translate(674.80,1328.95) scale(0.72,1)" text-anchor="end">0.4</text><text transform="translate(674.80,1300.74) scale(0.72,1)" text-anchor="end">0.5</text><text transform="translate(674.80,1272.53) scale(0.72,1)" text-anchor="end">0.6</text><text transform="translate(674.80,1244.32) scale(0.72,1)" text-anchor="end">0.7</text><text transform="translate(674.80,1216.11) scale(0.72,1)" text-anchor="end">0.8</text><text transform="translate(681.40,1463.00) scale(0.42,1)" text-anchor="middle">2</text><text transform="translate(692.39,1463.00) scale(0.42,1)" text-anchor="middle">4</text><text transform="translate(703.39,1463.00) scale(0.42,1)" text-anchor="middle">6</text><text transform="translate(714.38,1463.00) scale(0.42,1)" text-anchor="middle">8</text><text transform="translate(725.38,1463.00) scale(0.42,1)" text-anchor="middle">10</text><text transform="translate(736.38,1463.00) scale(0.42,1)" text-anchor="middle">12</text><text transform="translate(747.37,1463.00) scale(0.42,1)" text-anchor="middle">14</text><text transform="translate(758.37,1463.00) scale(0.42,1)" text-anchor="middle">16</text><text transform="translate(769.36,1463.00) scale(0.42,1)" text-anchor="middle">18</text><text transform="translate(780.36,1463.00) scale(0.42,1)" text-anchor="middle">20</text><text transform="translate(791.36,1463.00) scale(0.42,1)" text-anchor="middle">22</text><text transform="translate(802.35,1463.00) scale(0.42,1)" text-anchor="middle">24</text><text transform="translate(813.35,1463.00) scale(0.42,1)" text-anchor="middle">26</text><text transform="translate(824.34,1463.00) scale(0.42,1)" text-anchor="middle">28</text><text transform="translate(835.34,1463.00) scale(0.42,1)" text-anchor="middle">30</text><text transform="translate(846.34,1463.00) scale(0.42,1)" text-anchor="middle">32</text><text transform="translate(857.33,1463.00) scale(0.42,1)" text-anchor="middle">34</text><text transform="translate(868.33,1463.00) scale(0.42,1)" text-anchor="middle">36</text><text transform="translate(879.32,1463.00) scale(0.42,1)" text-anchor="middle">38</text><text transform="translate(890.32,1463.00) scale(0.42,1)" text-anchor="middle">40</text><text transform="translate(901.32,1463.00) scale(0.42,1)" text-anchor="middle">42</text><text transform="translate(912.31,1463.00) scale(0.42,1)" text-anchor="middle">44</text></g>
<polyline points="675.9,1439.2 678.6,1439.2 681.4,1439.2 684.1,1439.2 686.9,1439.2 689.6,1439.2 692.4,1439.2 695.1,1439.2 697.9,1439.2 700.6,1439.2 703.4,1439.2 706.1,1439.2 708.9,1439.2 711.6,1439.2 714.4,1439.2 717.1,1439.2 719.9,1439.2 722.6,1439.2 725.4,1439.2 728.1,1439.2 730.9,1439.2 733.6,1439.2 736.4,1439.2 739.1,1439.2 741.9,1439.2 744.6,1439.2 747.4,1439.2 750.1,1439.2 752.9,1439.2 755.6,1439.2 758.4,1439.2 761.1,1439.2 763.9,1439.2 766.6,1439.2 769.4,1439.2 772.1,1439.2 774.9,1439.2 777.6,1439.2 780.4,1439.2 783.1,1439.2 785.9,1439.2 788.6,1439.2 791.4,1439.2 794.1,1439.2 796.9,1439.2 799.6,1439.2 802.4,1439.2 805.1,1439.2 807.9,1439.2 810.6,1439.2 813.3,1439.2 816.1,1439.2 818.8,1439.2 821.6,1439.2 824.3,1439.2 827.1,1439.2 829.8,1439.0 832.6,1438.7 835.3,1437.9 838.1,1436.3 840.8,1433.6 843.6,1429.6 846.3,1424.1 849.1,1417.3 851.8,1409.5 854.6,1401.0 857.3,1392.1 860.1,1383.3 862.8,1374.8 865.6,1366.8 868.3,1359.5 871.1,1352.9 873.8,1347.1 876.6,1341.9 879.3,1337.5 882.1,1333.7 884.8,1330.4 887.6,1327.7 890.3,1325.3 893.1,1323.4 895.8,1321.7 898.6,1320.4 901.3,1319.2 904.1,1318.3 906.8,1317.5 909.6,1316.8 912.3,1316.3 915.1,1315.8 917.8,1315.4" fill="none" stroke="#cc4a2a" stroke-width="1.15" stroke-linejoin="round"/>
<polyline points="675.9,1439.2 678.6,1439.2 681.4,1439.2 684.1,1439.2 686.9,1439.2 689.6,1439.2 692.4,1439.2 695.1,1439.2 697.9,1439.2 700.6,1439.2 703.4,1439.2 706.1,1439.2 708.9,1439.2 711.6,1439.2 714.4,1439.2 717.1,1439.2 719.9,1439.2 722.6,1439.2 725.4,1439.2 728.1,1439.2 730.9,1439.2 733.6,1439.2 736.4,1439.2 739.1,1439.2 741.9,1439.2 744.6,1439.2 747.4,1439.2 750.1,1439.2 752.9,1439.2 755.6,1439.2 758.4,1439.2 761.1,1439.2 763.9,1439.2 766.6,1439.2 769.4,1439.2 772.1,1439.2 774.9,1439.2 777.6,1439.2 780.4,1439.2 783.1,1439.2 785.9,1439.2 788.6,1439.2 791.4,1439.2 794.1,1439.2 796.9,1439.2 799.6,1439.2 802.4,1439.2 805.1,1439.2 807.9,1439.2 810.6,1439.2 813.3,1439.2 816.1,1439.2 818.8,1439.2 821.6,1439.2 824.3,1439.2 827.1,1439.1 829.8,1439.0 832.6,1438.5 835.3,1437.5 838.1,1435.5 840.8,1432.3 843.6,1427.7 846.3,1421.6 849.1,1414.2 851.8,1405.9 854.6,1397.0 857.3,1387.8 860.1,1378.8 862.8,1370.1 865.6,1362.1 868.3,1354.7 871.1,1348.1 873.8,1342.3 876.6,1337.2 879.3,1332.8 882.1,1329.1 884.8,1325.9 887.6,1323.1 890.3,1320.9 893.1,1318.9 895.8,1317.3 898.6,1316.0 901.3,1314.9 904.1,1313.9 906.8,1313.2 909.6,1312.5 912.3,1312.0 915.1,1311.5 917.8,1311.2" fill="none" stroke="#ecd040" stroke-width="1.15" stroke-linejoin="round"/>
<polyline points="675.9,1439.2 678.6,1439.2 681.4,1439.2 684.1,1439.2 686.9,1439.2 689.6,1439.2 692.4,1439.2 695.1,1439.2 697.9,1439.2 700.6,1439.2 703.4,1439.2 706.1,1439.2 708.9,1439.2 711.6,1439.2 714.4,1439.2 717.1,1439.2 719.9,1439.2 722.6,1439.2 725.4,1439.2 728.1,1439.2 730.9,1439.2 733.6,1439.2 736.4,1439.2 739.1,1439.2 741.9,1439.2 744.6,1439.2 747.4,1439.2 750.1,1439.2 752.9,1439.2 755.6,1439.2 758.4,1439.2 761.1,1439.2 763.9,1439.2 766.6,1439.2 769.4,1439.2 772.1,1439.2 774.9,1439.2 777.6,1439.2 780.4,1439.2 783.1,1439.2 785.9,1439.2 788.6,1439.2 791.4,1439.2 794.1,1439.2 796.9,1439.2 799.6,1439.2 802.4,1439.2 805.1,1439.2 807.9,1439.2 810.6,1439.2 813.3,1439.2 816.1,1439.2 818.8,1439.2 821.6,1439.2 824.3,1439.0 827.1,1438.6 829.8,1437.6 832.6,1435.6 835.3,1432.4 838.1,1427.5 840.8,1420.9 843.6,1412.8 846.3,1403.5 849.1,1393.3 851.8,1382.8 854.6,1372.3 857.3,1362.1 860.1,1352.6 862.8,1343.8 865.6,1335.9 868.3,1328.9 871.1,1322.7 873.8,1317.3 876.6,1312.7 879.3,1308.8 882.1,1305.4 884.8,1302.6 887.6,1300.2 890.3,1298.2 893.1,1296.5 895.8,1295.1 898.6,1294.0 901.3,1293.0 904.1,1292.2 906.8,1291.5 909.6,1291.0 912.3,1290.5 915.1,1290.1 917.8,1289.8" fill="none" stroke="#e0701c" stroke-width="1.15" stroke-linejoin="round"/>
<polyline points="675.9,1439.2 678.6,1439.2 681.4,1439.2 684.1,1439.2 686.9,1439.2 689.6,1439.2 692.4,1439.2 695.1,1439.2 697.9,1439.2 700.6,1439.2 703.4,1439.2 706.1,1439.2 708.9,1439.2 711.6,1439.2 714.4,1439.2 717.1,1439.2 719.9,1439.2 722.6,1439.2 725.4,1439.2 728.1,1439.2 730.9,1439.2 733.6,1439.2 736.4,1439.2 739.1,1439.2 741.9,1439.2 744.6,1439.2 747.4,1439.2 750.1,1439.2 752.9,1439.2 755.6,1439.2 758.4,1439.2 761.1,1439.2 763.9,1439.2 766.6,1439.2 769.4,1439.2 772.1,1439.2 774.9,1439.2 777.6,1439.2 780.4,1439.2 783.1,1439.2 785.9,1439.2 788.6,1439.2 791.4,1439.2 794.1,1439.2 796.9,1439.2 799.6,1439.2 802.4,1439.2 805.1,1439.2 807.9,1439.2 810.6,1439.2 813.3,1439.2 816.1,1439.2 818.8,1439.2 821.6,1439.1 824.3,1438.9 827.1,1438.3 829.8,1437.0 832.6,1434.7 835.3,1430.8 838.1,1425.3 840.8,1418.1 843.6,1409.3 846.3,1399.4 849.1,1388.8 851.8,1377.9 854.6,1367.2 857.3,1356.9 860.1,1347.3 862.8,1338.6 865.6,1330.7 868.3,1323.8 871.1,1317.7 873.8,1312.4 876.6,1307.9 879.3,1304.0 882.1,1300.7 884.8,1298.0 887.6,1295.7 890.3,1293.7 893.1,1292.1 895.8,1290.7 898.6,1289.6 901.3,1288.6 904.1,1287.8 906.8,1287.2 909.6,1286.6 912.3,1286.2 915.1,1285.8 917.8,1285.5" fill="none" stroke="#c0301e" stroke-width="1.15" stroke-linejoin="round"/>
<polyline points="675.9,1439.2 678.6,1439.2 681.4,1439.2 684.1,1439.2 686.9,1439.2 689.6,1439.2 692.4,1439.2 695.1,1439.2 697.9,1439.2 700.6,1439.2 703.4,1439.2 706.1,1439.2 708.9,1439.2 711.6,1439.2 714.4,1439.2 717.1,1439.2 719.9,1439.2 722.6,1439.2 725.4,1439.2 728.1,1439.2 730.9,1439.2 733.6,1439.2 736.4,1439.2 739.1,1439.2 741.9,1439.2 744.6,1439.2 747.4,1439.2 750.1,1439.2 752.9,1439.2 755.6,1439.2 758.4,1439.2 761.1,1439.2 763.9,1439.2 766.6,1439.2 769.4,1439.2 772.1,1439.2 774.9,1439.2 777.6,1439.2 780.4,1439.2 783.1,1439.2 785.9,1439.2 788.6,1439.2 791.4,1439.2 794.1,1439.2 796.9,1439.2 799.6,1439.2 802.4,1439.2 805.1,1439.2 807.9,1439.2 810.6,1439.2 813.3,1439.2 816.1,1439.1 818.8,1439.0 821.6,1438.4 824.3,1437.3 827.1,1435.0 829.8,1431.3 832.6,1425.7 835.3,1418.2 838.1,1409.1 840.8,1398.5 843.6,1387.0 846.3,1375.1 849.1,1363.2 851.8,1351.7 854.6,1340.8 857.3,1330.9 860.1,1321.9 862.8,1313.9 865.6,1306.8 868.3,1300.7 871.1,1295.4 873.8,1290.9 876.6,1287.0 879.3,1283.8 882.1,1281.0 884.8,1278.7 887.6,1276.8 890.3,1275.1 893.1,1273.8 895.8,1272.6 898.6,1271.7 901.3,1270.9 904.1,1270.3 906.8,1269.7 909.6,1269.3 912.3,1268.9 915.1,1268.6 917.8,1268.3" fill="none" stroke="#eab040" stroke-width="1.15" stroke-linejoin="round"/>
<polyline points="675.9,1439.2 678.6,1439.2 681.4,1439.2 684.1,1439.2 686.9,1439.2 689.6,1439.2 692.4,1439.2 695.1,1439.2 697.9,1439.2 700.6,1439.2 703.4,1439.2 706.1,1439.2 708.9,1439.2 711.6,1439.2 714.4,1439.2 717.1,1439.2 719.9,1439.2 722.6,1439.2 725.4,1439.2 728.1,1439.2 730.9,1439.2 733.6,1439.2 736.4,1439.2 739.1,1439.2 741.9,1439.2 744.6,1439.2 747.4,1439.2 750.1,1439.2 752.9,1439.2 755.6,1439.2 758.4,1439.2 761.1,1439.2 763.9,1439.2 766.6,1439.2 769.4,1439.2 772.1,1439.2 774.9,1439.2 777.6,1439.2 780.4,1439.2 783.1,1439.2 785.9,1439.2 788.6,1439.2 791.4,1439.2 794.1,1439.2 796.9,1439.2 799.6,1439.2 802.4,1439.2 805.1,1439.2 807.9,1439.2 810.6,1439.2 813.3,1439.2 816.1,1439.1 818.8,1438.8 821.6,1438.2 824.3,1436.7 827.1,1434.0 829.8,1429.7 832.6,1423.5 835.3,1415.5 838.1,1405.8 840.8,1394.8 843.6,1383.0 846.3,1370.9 849.1,1359.0 851.8,1347.6 854.6,1336.9 857.3,1327.2 860.1,1318.4 862.8,1310.6 865.6,1303.8 868.3,1297.9 871.1,1292.8 873.8,1288.4 876.6,1284.7 879.3,1281.6 882.1,1279.0 884.8,1276.8 887.6,1274.9 890.3,1273.4 893.1,1272.1 895.8,1271.0 898.6,1270.1 901.3,1269.3 904.1,1268.7 906.8,1268.2 909.6,1267.8 912.3,1267.4 915.1,1267.1 917.8,1266.9" fill="none" stroke="#b43a22" stroke-width="1.15" stroke-linejoin="round"/>
<polyline points="675.9,1439.2 678.6,1439.2 681.4,1439.2 684.1,1439.2 686.9,1439.2 689.6,1439.2 692.4,1439.2 695.1,1439.2 697.9,1439.2 700.6,1439.2 703.4,1439.2 706.1,1439.2 708.9,1439.2 711.6,1439.2 714.4,1439.2 717.1,1439.2 719.9,1439.2 722.6,1439.2 725.4,1439.2 728.1,1439.2 730.9,1439.2 733.6,1439.2 736.4,1439.2 739.1,1439.2 741.9,1439.2 744.6,1439.2 747.4,1439.2 750.1,1439.2 752.9,1439.2 755.6,1439.2 758.4,1439.2 761.1,1439.2 763.9,1439.2 766.6,1439.2 769.4,1439.2 772.1,1439.2 774.9,1439.2 777.6,1439.2 780.4,1439.2 783.1,1439.2 785.9,1439.2 788.6,1439.2 791.4,1439.2 794.1,1439.2 796.9,1439.2 799.6,1439.2 802.4,1439.2 805.1,1439.2 807.9,1439.2 810.6,1439.1 813.3,1438.9 816.1,1438.4 818.8,1437.1 821.6,1434.6 824.3,1430.6 827.1,1424.7 829.8,1416.8 832.6,1407.0 835.3,1395.9 838.1,1383.7 840.8,1371.1 843.6,1358.5 846.3,1346.3 849.1,1334.8 851.8,1324.2 854.6,1314.7 857.3,1306.1 860.1,1298.6 862.8,1292.1 865.6,1286.4 868.3,1281.6 871.1,1277.4 873.8,1273.9 876.6,1270.9 879.3,1268.4 882.1,1266.3 884.8,1264.6 887.6,1263.1 890.3,1261.9 893.1,1260.9 895.8,1260.0 898.6,1259.3 901.3,1258.7 904.1,1258.2 906.8,1257.8 909.6,1257.5 912.3,1257.2 915.1,1257.0 917.8,1256.8" fill="none" stroke="#e6dc66" stroke-width="1.15" stroke-linejoin="round"/>
<polyline points="675.9,1439.2 678.6,1439.2 681.4,1439.2 684.1,1439.2 686.9,1439.2 689.6,1439.2 692.4,1439.2 695.1,1439.2 697.9,1439.2 700.6,1439.2 703.4,1439.2 706.1,1439.2 708.9,1439.2 711.6,1439.2 714.4,1439.2 717.1,1439.2 719.9,1439.2 722.6,1439.2 725.4,1439.2 728.1,1439.2 730.9,1439.2 733.6,1439.2 736.4,1439.2 739.1,1439.2 741.9,1439.2 744.6,1439.2 747.4,1439.2 750.1,1439.2 752.9,1439.2 755.6,1439.2 758.4,1439.2 761.1,1439.2 763.9,1439.2 766.6,1439.2 769.4,1439.2 772.1,1439.2 774.9,1439.2 777.6,1439.2 780.4,1439.2 783.1,1439.2 785.9,1439.2 788.6,1439.2 791.4,1439.2 794.1,1439.2 796.9,1439.2 799.6,1439.2 802.4,1439.2 805.1,1439.2 807.9,1439.2 810.6,1439.1 813.3,1438.8 816.1,1438.0 818.8,1436.4 821.6,1433.5 824.3,1428.8 827.1,1422.1 829.8,1413.4 832.6,1403.0 835.3,1391.2 838.1,1378.6 840.8,1365.6 843.6,1352.8 846.3,1340.5 849.1,1329.1 851.8,1318.5 854.6,1309.1 857.3,1300.6 860.1,1293.3 862.8,1286.8 865.6,1281.3 868.3,1276.6 871.1,1272.5 873.8,1269.1 876.6,1266.2 879.3,1263.8 882.1,1261.8 884.8,1260.1 887.6,1258.7 890.3,1257.5 893.1,1256.5 895.8,1255.6 898.6,1255.0 901.3,1254.4 904.1,1253.9 906.8,1253.5 909.6,1253.2 912.3,1252.9 915.1,1252.7 917.8,1252.5" fill="none" stroke="#e89430" stroke-width="1.15" stroke-linejoin="round"/>
<polyline points="675.9,1439.2 678.6,1439.2 681.4,1439.2 684.1,1439.2 686.9,1439.2 689.6,1439.2 692.4,1439.2 695.1,1439.2 697.9,1439.2 700.6,1439.2 703.4,1439.2 706.1,1439.2 708.9,1439.2 711.6,1439.2 714.4,1439.2 717.1,1439.2 719.9,1439.2 722.6,1439.2 725.4,1439.2 728.1,1439.2 730.9,1439.2 733.6,1439.2 736.4,1439.2 739.1,1439.2 741.9,1439.2 744.6,1439.2 747.4,1439.2 750.1,1439.2 752.9,1439.2 755.6,1439.2 758.4,1439.2 761.1,1439.2 763.9,1439.2 766.6,1439.2 769.4,1439.2 772.1,1439.2 774.9,1439.2 777.6,1439.2 780.4,1439.2 783.1,1439.2 785.9,1439.2 788.6,1439.2 791.4,1439.2 794.1,1439.2 796.9,1439.2 799.6,1439.2 802.4,1439.2 805.1,1439.1 807.9,1438.9 810.6,1438.3 813.3,1436.9 816.1,1434.2 818.8,1429.9 821.6,1423.6 824.3,1415.2 827.1,1405.0 829.8,1393.2 832.6,1380.4 835.3,1367.1 838.1,1353.8 840.8,1341.0 843.6,1328.9 846.3,1317.7 849.1,1307.5 851.8,1298.5 854.6,1290.5 857.3,1283.5 860.1,1277.5 862.8,1272.3 865.6,1267.9 868.3,1264.1 871.1,1260.9 873.8,1258.2 876.6,1256.0 879.3,1254.1 882.1,1252.5 884.8,1251.2 887.6,1250.1 890.3,1249.1 893.1,1248.4 895.8,1247.7 898.6,1247.2 901.3,1246.7 904.1,1246.4 906.8,1246.1 909.6,1245.8 912.3,1245.6 915.1,1245.4 917.8,1245.3" fill="none" stroke="#cc4a2a" stroke-width="1.15" stroke-linejoin="round"/>
<polyline points="675.9,1439.2 678.6,1439.2 681.4,1439.2 684.1,1439.2 686.9,1439.2 689.6,1439.2 692.4,1439.2 695.1,1439.2 697.9,1439.2 700.6,1439.2 703.4,1439.2 706.1,1439.2 708.9,1439.2 711.6,1439.2 714.4,1439.2 717.1,1439.2 719.9,1439.2 722.6,1439.2 725.4,1439.2 728.1,1439.2 730.9,1439.2 733.6,1439.2 736.4,1439.2 739.1,1439.2 741.9,1439.2 744.6,1439.2 747.4,1439.2 750.1,1439.2 752.9,1439.2 755.6,1439.2 758.4,1439.2 761.1,1439.2 763.9,1439.2 766.6,1439.2 769.4,1439.2 772.1,1439.2 774.9,1439.2 777.6,1439.2 780.4,1439.2 783.1,1439.2 785.9,1439.2 788.6,1439.2 791.4,1439.2 794.1,1439.2 796.9,1439.2 799.6,1439.2 802.4,1439.2 805.1,1439.1 807.9,1438.7 810.6,1437.9 813.3,1436.2 816.1,1433.0 818.8,1428.1 821.6,1421.1 824.3,1412.0 827.1,1401.0 829.8,1388.7 832.6,1375.5 835.3,1362.0 838.1,1348.6 840.8,1335.8 843.6,1323.7 846.3,1312.7 849.1,1302.7 851.8,1293.9 854.6,1286.1 857.3,1279.3 860.1,1273.5 862.8,1268.5 865.6,1264.2 868.3,1260.5 871.1,1257.5 873.8,1254.9 876.6,1252.7 879.3,1250.9 882.1,1249.4 884.8,1248.1 887.6,1247.0 890.3,1246.1 893.1,1245.4 895.8,1244.8 898.6,1244.3 901.3,1243.8 904.1,1243.5 906.8,1243.2 909.6,1242.9 912.3,1242.7 915.1,1242.6 917.8,1242.4" fill="none" stroke="#ecd040" stroke-width="1.15" stroke-linejoin="round"/>
<polyline points="675.9,1439.2 678.6,1439.2 681.4,1439.2 684.1,1439.2 686.9,1439.2 689.6,1439.2 692.4,1439.2 695.1,1439.2 697.9,1439.2 700.6,1439.2 703.4,1439.2 706.1,1439.2 708.9,1439.2 711.6,1439.2 714.4,1439.2 717.1,1439.2 719.9,1439.2 722.6,1439.2 725.4,1439.2 728.1,1439.2 730.9,1439.2 733.6,1439.2 736.4,1439.2 739.1,1439.2 741.9,1439.2 744.6,1439.2 747.4,1439.2 750.1,1439.2 752.9,1439.2 755.6,1439.2 758.4,1439.2 761.1,1439.2 763.9,1439.2 766.6,1439.2 769.4,1439.2 772.1,1439.2 774.9,1439.2 777.6,1439.2 780.4,1439.2 783.1,1439.2 785.9,1439.2 788.6,1439.2 791.4,1439.2 794.1,1439.2 796.9,1439.2 799.6,1439.1 802.4,1438.8 805.1,1438.2 807.9,1436.7 810.6,1434.0 813.3,1429.5 816.1,1423.0 818.8,1414.4 821.6,1403.9 824.3,1391.9 827.1,1378.8 829.8,1365.2 832.6,1351.7 835.3,1338.5 838.1,1326.1 840.8,1314.6 843.6,1304.2 846.3,1294.9 849.1,1286.7 851.8,1279.5 854.6,1273.3 857.3,1267.9 860.1,1263.3 862.8,1259.4 865.6,1256.1 868.3,1253.3 871.1,1250.9 873.8,1249.0 876.6,1247.3 879.3,1245.9 882.1,1244.7 884.8,1243.8 887.6,1243.0 890.3,1242.3 893.1,1241.7 895.8,1241.2 898.6,1240.8 901.3,1240.5 904.1,1240.2 906.8,1240.0 909.6,1239.8 912.3,1239.7 915.1,1239.5 917.8,1239.4" fill="none" stroke="#e0701c" stroke-width="1.15" stroke-linejoin="round"/>
<polyline points="675.9,1439.2 678.6,1439.2 681.4,1439.2 684.1,1439.2 686.9,1439.2 689.6,1439.2 692.4,1439.2 695.1,1439.2 697.9,1439.2 700.6,1439.2 703.4,1439.2 706.1,1439.2 708.9,1439.2 711.6,1439.2 714.4,1439.2 717.1,1439.2 719.9,1439.2 722.6,1439.2 725.4,1439.2 728.1,1439.2 730.9,1439.2 733.6,1439.2 736.4,1439.2 739.1,1439.2 741.9,1439.2 744.6,1439.2 747.4,1439.2 750.1,1439.2 752.9,1439.2 755.6,1439.2 758.4,1439.2 761.1,1439.2 763.9,1439.2 766.6,1439.2 769.4,1439.2 772.1,1439.2 774.9,1439.2 777.6,1439.2 780.4,1439.2 783.1,1439.2 785.9,1439.2 788.6,1439.2 791.4,1439.2 794.1,1439.2 796.9,1439.2 799.6,1439.1 802.4,1438.7 805.1,1437.8 807.9,1436.0 810.6,1432.7 813.3,1427.6 816.1,1420.4 818.8,1411.1 821.6,1399.9 824.3,1387.3 827.1,1373.9 829.8,1360.1 832.6,1346.4 835.3,1333.2 838.1,1320.9 840.8,1309.6 843.6,1299.4 846.3,1290.3 849.1,1282.2 851.8,1275.3 854.6,1269.2 857.3,1264.0 860.1,1259.6 862.8,1255.8 865.6,1252.6 868.3,1249.9 871.1,1247.6 873.8,1245.7 876.6,1244.1 879.3,1242.8 882.1,1241.7 884.8,1240.7 887.6,1240.0 890.3,1239.3 893.1,1238.8 895.8,1238.3 898.6,1237.9 901.3,1237.6 904.1,1237.4 906.8,1237.2 909.6,1237.0 912.3,1236.8 915.1,1236.7 917.8,1236.6" fill="none" stroke="#c0301e" stroke-width="1.15" stroke-linejoin="round"/>
<line x1="676.40" y1="1427.70" x2="918.40" y2="1427.70" stroke="#c6e33a" stroke-width="1.7"/>
<text transform="translate(676.60,1425.50) scale(0.5865,1)" font-size="10.64" fill="#c4101a" stroke="#c4101a" stroke-width="0.35"><tspan font-family="Liberation Serif, serif" font-weight="bold">0.038263</tspan></text>
<text transform="translate(711.90,1239.00) scale(1.0028,1)" font-size="22.00" fill="#000"><tspan font-style="italic">Het</tspan> gDNA</text>
<text transform="translate(711.50,1265.20) scale(1.0102,1)" font-size="22.00" fill="#000">(1.25-40ng)</text>
<rect x="935.70" y="1207.40" width="264.10" height="264.10" fill="#fff" stroke="#3a3a3a" stroke-width="1.8"/>
<rect x="951.00" y="1212.50" width="245.50" height="235.90" fill="#fff" stroke="#d0d0d0" stroke-width="1"/>
<path d="M955.97,1212.50V1448.40M967.14,1212.50V1448.40M978.31,1212.50V1448.40M989.48,1212.50V1448.40M1000.65,1212.50V1448.40M1011.82,1212.50V1448.40M1022.99,1212.50V1448.40M1034.16,1212.50V1448.40M1045.33,1212.50V1448.40M1056.50,1212.50V1448.40M1067.67,1212.50V1448.40M1078.84,1212.50V1448.40M1090.01,1212.50V1448.40M1101.18,1212.50V1448.40M1112.35,1212.50V1448.40M1123.52,1212.50V1448.40M1134.69,1212.50V1448.40M1145.86,1212.50V1448.40M1157.03,1212.50V1448.40M1168.20,1212.50V1448.40M1179.37,1212.50V1448.40M1190.54,1212.50V1448.40" stroke="#e2e2e2" stroke-width="0.8" stroke-dasharray="1.5,1.5" fill="none"/>
<path d="M951.00,1437.00H1196.50M951.00,1409.06H1196.50M951.00,1381.12H1196.50M951.00,1353.18H1196.50M951.00,1325.24H1196.50M951.00,1297.30H1196.50M951.00,1269.36H1196.50M951.00,1241.42H1196.50M951.00,1213.48H1196.50" stroke="#dcdcdc" stroke-width="1" fill="none"/>
<path d="M951.00,1212.50V1448.40H1196.50" stroke="#8a8a8a" stroke-width="1" fill="none"/>
<path d="M949.50,1437.00H951.00M949.50,1409.06H951.00M949.50,1381.12H951.00M949.50,1353.18H951.00M949.50,1325.24H951.00M949.50,1297.30H951.00M949.50,1269.36H951.00M949.50,1241.42H951.00M949.50,1213.48H951.00M955.97,1448.40V1450.20M967.14,1448.40V1450.20M978.31,1448.40V1450.20M989.48,1448.40V1450.20M1000.65,1448.40V1450.20M1011.82,1448.40V1450.20M1022.99,1448.40V1450.20M1034.16,1448.40V1450.20M1045.33,1448.40V1450.20M1056.50,1448.40V1450.20M1067.67,1448.40V1450.20M1078.84,1448.40V1450.20M1090.01,1448.40V1450.20M1101.18,1448.40V1450.20M1112.35,1448.40V1450.20M1123.52,1448.40V1450.20M1134.69,1448.40V1450.20M1145.86,1448.40V1450.20M1157.03,1448.40V1450.20M1168.20,1448.40V1450.20M1179.37,1448.40V1450.20M1190.54,1448.40V1450.20" stroke="#666" stroke-width="0.8" fill="none"/>
<g font-size="7.2" font-weight="bold" fill="#333" opacity="0.85"><text transform="translate(949.40,1439.59) scale(0.72,1)" text-anchor="end">0.0</text><text transform="translate(949.40,1411.65) scale(0.72,1)" text-anchor="end">0.1</text><text transform="translate(949.40,1383.71) scale(0.72,1)" text-anchor="end">0.2</text><text transform="translate(949.40,1355.77) scale(0.72,1)" text-anchor="end">0.3</text><text transform="translate(949.40,1327.83) scale(0.72,1)" text-anchor="end">0.4</text><text transform="translate(949.40,1299.89) scale(0.72,1)" text-anchor="end">0.5</text><text transform="translate(949.40,1271.95) scale(0.72,1)" text-anchor="end">0.6</text><text transform="translate(949.40,1244.01) scale(0.72,1)" text-anchor="end">0.7</text><text transform="translate(949.40,1216.07) scale(0.72,1)" text-anchor="end">0.8</text><text transform="translate(955.97,1460.20) scale(0.42,1)" text-anchor="middle">2</text><text transform="translate(967.14,1460.20) scale(0.42,1)" text-anchor="middle">4</text><text transform="translate(978.31,1460.20) scale(0.42,1)" text-anchor="middle">6</text><text transform="translate(989.48,1460.20) scale(0.42,1)" text-anchor="middle">8</text><text transform="translate(1000.65,1460.20) scale(0.42,1)" text-anchor="middle">10</text><text transform="translate(1011.82,1460.20) scale(0.42,1)" text-anchor="middle">12</text><text transform="translate(1022.99,1460.20) scale(0.42,1)" text-anchor="middle">14</text><text transform="translate(1034.16,1460.20) scale(0.42,1)" text-anchor="middle">16</text><text transform="translate(1045.33,1460.20) scale(0.42,1)" text-anchor="middle">18</text><text transform="translate(1056.50,1460.20) scale(0.42,1)" text-anchor="middle">20</text><text transform="translate(1067.67,1460.20) scale(0.42,1)" text-anchor="middle">22</text><text transform="translate(1078.84,1460.20) scale(0.42,1)" text-anchor="middle">24</text><text transform="translate(1090.01,1460.20) scale(0.42,1)" text-anchor="middle">26</text><text transform="translate(1101.18,1460.20) scale(0.42,1)" text-anchor="middle">28</text><text transform="translate(1112.35,1460.20) scale(0.42,1)" text-anchor="middle">30</text><text transform="translate(1123.52,1460.20) scale(0.42,1)" text-anchor="middle">32</text><text transform="translate(1134.69,1460.20) scale(0.42,1)" text-anchor="middle">34</text><text transform="translate(1145.86,1460.20) scale(0.42,1)" text-anchor="middle">36</text><text transform="translate(1157.03,1460.20) scale(0.42,1)" text-anchor="middle">38</text><text transform="translate(1168.20,1460.20) scale(0.42,1)" text-anchor="middle">40</text><text transform="translate(1179.37,1460.20) scale(0.42,1)" text-anchor="middle">42</text><text transform="translate(1190.54,1460.20) scale(0.42,1)" text-anchor="middle">44</text></g>
<polyline points="950.4,1437.0 953.2,1437.0 956.0,1437.0 958.8,1437.0 961.6,1437.0 964.3,1437.0 967.1,1437.0 969.9,1437.0 972.7,1437.0 975.5,1437.0 978.3,1437.0 981.1,1437.0 983.9,1437.0 986.7,1437.0 989.5,1437.0 992.3,1437.0 995.1,1437.0 997.9,1437.0 1000.6,1437.0 1003.4,1437.0 1006.2,1437.0 1009.0,1437.0 1011.8,1437.0 1014.6,1437.0 1017.4,1437.0 1020.2,1437.0 1023.0,1437.0 1025.8,1437.0 1028.6,1437.0 1031.4,1437.0 1034.2,1437.0 1037.0,1437.0 1039.7,1437.0 1042.5,1437.0 1045.3,1437.0 1048.1,1437.0 1050.9,1437.0 1053.7,1437.0 1056.5,1437.0 1059.3,1437.0 1062.1,1437.0 1064.9,1437.0 1067.7,1437.0 1070.5,1437.0 1073.3,1437.0 1076.0,1437.0 1078.8,1437.0 1081.6,1437.0 1084.4,1437.0 1087.2,1437.0 1090.0,1437.0 1092.8,1437.0 1095.6,1437.0 1098.4,1437.0 1101.2,1437.0 1104.0,1437.0 1106.8,1437.0 1109.6,1436.9 1112.3,1436.6 1115.1,1435.7 1117.9,1433.6 1120.7,1429.7 1123.5,1423.3 1126.3,1414.4 1129.1,1403.1 1131.9,1390.1 1134.7,1376.1 1137.5,1361.8 1140.3,1347.9 1143.1,1334.9 1145.9,1323.1 1148.7,1312.6 1151.4,1303.5 1154.2,1295.6 1157.0,1289.0 1159.8,1283.4 1162.6,1278.8 1165.4,1275.0 1168.2,1271.8 1171.0,1269.2 1173.8,1267.1 1176.6,1265.4 1179.4,1264.0 1182.2,1262.9 1185.0,1262.0 1187.7,1261.3 1190.5,1260.7 1193.3,1260.2 1196.1,1259.8" fill="none" stroke="#34c43a" stroke-width="1.15" stroke-linejoin="round"/>
<polyline points="950.4,1437.0 953.2,1437.0 956.0,1437.0 958.8,1437.0 961.6,1437.0 964.3,1437.0 967.1,1437.0 969.9,1437.0 972.7,1437.0 975.5,1437.0 978.3,1437.0 981.1,1437.0 983.9,1437.0 986.7,1437.0 989.5,1437.0 992.3,1437.0 995.1,1437.0 997.9,1437.0 1000.6,1437.0 1003.4,1437.0 1006.2,1437.0 1009.0,1437.0 1011.8,1437.0 1014.6,1437.0 1017.4,1437.0 1020.2,1437.0 1023.0,1437.0 1025.8,1437.0 1028.6,1437.0 1031.4,1437.0 1034.2,1437.0 1037.0,1437.0 1039.7,1437.0 1042.5,1437.0 1045.3,1437.0 1048.1,1437.0 1050.9,1437.0 1053.7,1437.0 1056.5,1437.0 1059.3,1437.0 1062.1,1437.0 1064.9,1437.0 1067.7,1437.0 1070.5,1437.0 1073.3,1437.0 1076.0,1437.0 1078.8,1437.0 1081.6,1437.0 1084.4,1437.0 1087.2,1437.0 1090.0,1437.0 1092.8,1437.0 1095.6,1437.0 1098.4,1437.0 1101.2,1437.0 1104.0,1437.0 1106.8,1436.8 1109.6,1436.3 1112.3,1434.8 1115.1,1431.9 1117.9,1426.7 1120.7,1419.0 1123.5,1408.8 1126.3,1396.5 1129.1,1382.7 1131.9,1368.3 1134.7,1353.9 1137.5,1340.2 1140.3,1327.4 1143.1,1316.0 1145.9,1305.9 1148.7,1297.1 1151.4,1289.6 1154.2,1283.3 1157.0,1278.0 1159.8,1273.6 1162.6,1270.0 1165.4,1267.0 1168.2,1264.5 1171.0,1262.5 1173.8,1260.9 1176.6,1259.6 1179.4,1258.5 1182.2,1257.7 1185.0,1256.9 1187.7,1256.4 1190.5,1255.9 1193.3,1255.5 1196.1,1255.2" fill="none" stroke="#6ad060" stroke-width="1.15" stroke-linejoin="round"/>
<polyline points="950.4,1437.0 953.2,1437.0 956.0,1437.0 958.8,1437.0 961.6,1437.0 964.3,1437.0 967.1,1437.0 969.9,1437.0 972.7,1437.0 975.5,1437.0 978.3,1437.0 981.1,1437.0 983.9,1437.0 986.7,1437.0 989.5,1437.0 992.3,1437.0 995.1,1437.0 997.9,1437.0 1000.6,1437.0 1003.4,1437.0 1006.2,1437.0 1009.0,1437.0 1011.8,1437.0 1014.6,1437.0 1017.4,1437.0 1020.2,1437.0 1023.0,1437.0 1025.8,1437.0 1028.6,1437.0 1031.4,1437.0 1034.2,1437.0 1037.0,1437.0 1039.7,1437.0 1042.5,1437.0 1045.3,1437.0 1048.1,1437.0 1050.9,1437.0 1053.7,1437.0 1056.5,1437.0 1059.3,1437.0 1062.1,1437.0 1064.9,1437.0 1067.7,1437.0 1070.5,1437.0 1073.3,1437.0 1076.0,1437.0 1078.8,1437.0 1081.6,1437.0 1084.4,1437.0 1087.2,1437.0 1090.0,1437.0 1092.8,1437.0 1095.6,1437.0 1098.4,1437.0 1101.2,1436.9 1104.0,1436.6 1106.8,1435.6 1109.6,1433.4 1112.3,1429.3 1115.1,1422.7 1117.9,1413.4 1120.7,1401.6 1123.5,1388.0 1126.3,1373.2 1129.1,1358.1 1131.9,1343.2 1134.7,1329.3 1137.5,1316.5 1140.3,1305.1 1143.1,1295.1 1145.9,1286.5 1148.7,1279.1 1151.4,1272.9 1154.2,1267.8 1157.0,1263.5 1159.8,1259.9 1162.6,1257.0 1165.4,1254.6 1168.2,1252.6 1171.0,1251.0 1173.8,1249.7 1176.6,1248.7 1179.4,1247.8 1182.2,1247.1 1185.0,1246.6 1187.7,1246.1 1190.5,1245.8 1193.3,1245.5 1196.1,1245.2" fill="none" stroke="#2cb040" stroke-width="1.15" stroke-linejoin="round"/>
<polyline points="950.4,1437.0 953.2,1437.0 956.0,1437.0 958.8,1437.0 961.6,1437.0 964.3,1437.0 967.1,1437.0 969.9,1437.0 972.7,1437.0 975.5,1437.0 978.3,1437.0 981.1,1437.0 983.9,1437.0 986.7,1437.0 989.5,1437.0 992.3,1437.0 995.1,1437.0 997.9,1437.0 1000.6,1437.0 1003.4,1437.0 1006.2,1437.0 1009.0,1437.0 1011.8,1437.0 1014.6,1437.0 1017.4,1437.0 1020.2,1437.0 1023.0,1437.0 1025.8,1437.0 1028.6,1437.0 1031.4,1437.0 1034.2,1437.0 1037.0,1437.0 1039.7,1437.0 1042.5,1437.0 1045.3,1437.0 1048.1,1437.0 1050.9,1437.0 1053.7,1437.0 1056.5,1437.0 1059.3,1437.0 1062.1,1437.0 1064.9,1437.0 1067.7,1437.0 1070.5,1437.0 1073.3,1437.0 1076.0,1437.0 1078.8,1437.0 1081.6,1437.0 1084.4,1437.0 1087.2,1437.0 1090.0,1437.0 1092.8,1437.0 1095.6,1437.0 1098.4,1436.8 1101.2,1436.2 1104.0,1434.7 1106.8,1431.7 1109.6,1426.4 1112.3,1418.4 1115.1,1407.9 1117.9,1395.1 1120.7,1380.7 1123.5,1365.6 1126.3,1350.4 1129.1,1335.8 1131.9,1322.2 1134.7,1309.9 1137.5,1299.0 1140.3,1289.5 1143.1,1281.3 1145.9,1274.4 1148.7,1268.5 1151.4,1263.7 1154.2,1259.6 1157.0,1256.3 1159.8,1253.5 1162.6,1251.3 1165.4,1249.4 1168.2,1247.9 1171.0,1246.7 1173.8,1245.7 1176.6,1244.9 1179.4,1244.2 1182.2,1243.7 1185.0,1243.3 1187.7,1242.9 1190.5,1242.6 1193.3,1242.4 1196.1,1242.2" fill="none" stroke="#44bca6" stroke-width="1.15" stroke-linejoin="round"/>
<polyline points="950.4,1437.0 953.2,1437.0 956.0,1437.0 958.8,1437.0 961.6,1437.0 964.3,1437.0 967.1,1437.0 969.9,1437.0 972.7,1437.0 975.5,1437.0 978.3,1437.0 981.1,1437.0 983.9,1437.0 986.7,1437.0 989.5,1437.0 992.3,1437.0 995.1,1437.0 997.9,1437.0 1000.6,1437.0 1003.4,1437.0 1006.2,1437.0 1009.0,1437.0 1011.8,1437.0 1014.6,1437.0 1017.4,1437.0 1020.2,1437.0 1023.0,1437.0 1025.8,1437.0 1028.6,1437.0 1031.4,1437.0 1034.2,1437.0 1037.0,1437.0 1039.7,1437.0 1042.5,1437.0 1045.3,1437.0 1048.1,1437.0 1050.9,1437.0 1053.7,1437.0 1056.5,1437.0 1059.3,1437.0 1062.1,1437.0 1064.9,1437.0 1067.7,1437.0 1070.5,1437.0 1073.3,1437.0 1076.0,1437.0 1078.8,1437.0 1081.6,1437.0 1084.4,1437.0 1087.2,1437.0 1090.0,1437.0 1092.8,1436.9 1095.6,1436.5 1098.4,1435.6 1101.2,1433.3 1104.0,1429.1 1106.8,1422.4 1109.6,1412.9 1112.3,1400.8 1115.1,1386.7 1117.9,1371.4 1120.7,1355.7 1123.5,1340.1 1126.3,1325.4 1129.1,1311.9 1131.9,1299.7 1134.7,1289.0 1137.5,1279.7 1140.3,1271.8 1143.1,1265.0 1145.9,1259.4 1148.7,1254.6 1151.4,1250.7 1154.2,1247.5 1157.0,1244.8 1159.8,1242.6 1162.6,1240.9 1165.4,1239.4 1168.2,1238.2 1171.0,1237.2 1173.8,1236.4 1176.6,1235.8 1179.4,1235.3 1182.2,1234.9 1185.0,1234.5 1187.7,1234.2 1190.5,1234.0 1193.3,1233.8 1196.1,1233.7" fill="none" stroke="#a8da52" stroke-width="1.15" stroke-linejoin="round"/>
<polyline points="950.4,1437.0 953.2,1437.0 956.0,1437.0 958.8,1437.0 961.6,1437.0 964.3,1437.0 967.1,1437.0 969.9,1437.0 972.7,1437.0 975.5,1437.0 978.3,1437.0 981.1,1437.0 983.9,1437.0 986.7,1437.0 989.5,1437.0 992.3,1437.0 995.1,1437.0 997.9,1437.0 1000.6,1437.0 1003.4,1437.0 1006.2,1437.0 1009.0,1437.0 1011.8,1437.0 1014.6,1437.0 1017.4,1437.0 1020.2,1437.0 1023.0,1437.0 1025.8,1437.0 1028.6,1437.0 1031.4,1437.0 1034.2,1437.0 1037.0,1437.0 1039.7,1437.0 1042.5,1437.0 1045.3,1437.0 1048.1,1437.0 1050.9,1437.0 1053.7,1437.0 1056.5,1437.0 1059.3,1437.0 1062.1,1437.0 1064.9,1437.0 1067.7,1437.0 1070.5,1437.0 1073.3,1437.0 1076.0,1437.0 1078.8,1437.0 1081.6,1437.0 1084.4,1437.0 1087.2,1437.0 1090.0,1436.8 1092.8,1436.2 1095.6,1434.6 1098.4,1431.5 1101.2,1426.1 1104.0,1418.0 1106.8,1407.2 1109.6,1394.1 1112.3,1379.3 1115.1,1363.6 1117.9,1347.7 1120.7,1332.4 1123.5,1318.1 1126.3,1305.0 1129.1,1293.4 1131.9,1283.2 1134.7,1274.3 1137.5,1266.8 1140.3,1260.5 1143.1,1255.1 1145.9,1250.7 1148.7,1247.0 1151.4,1243.9 1154.2,1241.4 1157.0,1239.4 1159.8,1237.7 1162.6,1236.3 1165.4,1235.2 1168.2,1234.2 1171.0,1233.5 1173.8,1232.9 1176.6,1232.4 1179.4,1232.0 1182.2,1231.7 1185.0,1231.4 1187.7,1231.2 1190.5,1231.0 1193.3,1230.9 1196.1,1230.7" fill="none" stroke="#52d050" stroke-width="1.15" stroke-linejoin="round"/>
<polyline points="950.4,1437.0 953.2,1437.0 956.0,1437.0 958.8,1437.0 961.6,1437.0 964.3,1437.0 967.1,1437.0 969.9,1437.0 972.7,1437.0 975.5,1437.0 978.3,1437.0 981.1,1437.0 983.9,1437.0 986.7,1437.0 989.5,1437.0 992.3,1437.0 995.1,1437.0 997.9,1437.0 1000.6,1437.0 1003.4,1437.0 1006.2,1437.0 1009.0,1437.0 1011.8,1437.0 1014.6,1437.0 1017.4,1437.0 1020.2,1437.0 1023.0,1437.0 1025.8,1437.0 1028.6,1437.0 1031.4,1437.0 1034.2,1437.0 1037.0,1437.0 1039.7,1437.0 1042.5,1437.0 1045.3,1437.0 1048.1,1437.0 1050.9,1437.0 1053.7,1437.0 1056.5,1437.0 1059.3,1437.0 1062.1,1437.0 1064.9,1437.0 1067.7,1437.0 1070.5,1437.0 1073.3,1437.0 1076.0,1437.0 1078.8,1437.0 1081.6,1437.0 1084.4,1436.9 1087.2,1436.5 1090.0,1435.5 1092.8,1433.3 1095.6,1429.1 1098.4,1422.3 1101.2,1412.8 1104.0,1400.7 1106.8,1386.6 1109.6,1371.1 1112.3,1355.1 1115.1,1339.2 1117.9,1324.1 1120.7,1310.0 1123.5,1297.4 1126.3,1286.2 1129.1,1276.4 1131.9,1268.0 1134.7,1260.8 1137.5,1254.8 1140.3,1249.7 1143.1,1245.5 1145.9,1242.0 1148.7,1239.1 1151.4,1236.7 1154.2,1234.8 1157.0,1233.2 1159.8,1231.9 1162.6,1230.8 1165.4,1229.9 1168.2,1229.2 1171.0,1228.6 1173.8,1228.1 1176.6,1227.7 1179.4,1227.4 1182.2,1227.2 1185.0,1227.0 1187.7,1226.8 1190.5,1226.7 1193.3,1226.5 1196.1,1226.5" fill="none" stroke="#3cc486" stroke-width="1.15" stroke-linejoin="round"/>
<polyline points="950.4,1437.0 953.2,1437.0 956.0,1437.0 958.8,1437.0 961.6,1437.0 964.3,1437.0 967.1,1437.0 969.9,1437.0 972.7,1437.0 975.5,1437.0 978.3,1437.0 981.1,1437.0 983.9,1437.0 986.7,1437.0 989.5,1437.0 992.3,1437.0 995.1,1437.0 997.9,1437.0 1000.6,1437.0 1003.4,1437.0 1006.2,1437.0 1009.0,1437.0 1011.8,1437.0 1014.6,1437.0 1017.4,1437.0 1020.2,1437.0 1023.0,1437.0 1025.8,1437.0 1028.6,1437.0 1031.4,1437.0 1034.2,1437.0 1037.0,1437.0 1039.7,1437.0 1042.5,1437.0 1045.3,1437.0 1048.1,1437.0 1050.9,1437.0 1053.7,1437.0 1056.5,1437.0 1059.3,1437.0 1062.1,1437.0 1064.9,1437.0 1067.7,1437.0 1070.5,1437.0 1073.3,1437.0 1076.0,1437.0 1078.8,1436.9 1081.6,1436.8 1084.4,1436.1 1087.2,1434.6 1090.0,1431.5 1092.8,1426.1 1095.6,1418.1 1098.4,1407.4 1101.2,1394.3 1104.0,1379.4 1106.8,1363.6 1109.6,1347.6 1112.3,1332.0 1115.1,1317.3 1117.9,1303.9 1120.7,1291.8 1123.5,1281.2 1126.3,1271.9 1129.1,1264.0 1131.9,1257.3 1134.7,1251.6 1137.5,1246.9 1140.3,1242.9 1143.1,1239.7 1145.9,1237.0 1148.7,1234.7 1151.4,1232.9 1154.2,1231.4 1157.0,1230.2 1159.8,1229.1 1162.6,1228.3 1165.4,1227.6 1168.2,1227.1 1171.0,1226.6 1173.8,1226.3 1176.6,1226.0 1179.4,1225.7 1182.2,1225.5 1185.0,1225.4 1187.7,1225.2 1190.5,1225.1 1193.3,1225.0 1196.1,1225.0" fill="none" stroke="#8ed444" stroke-width="1.15" stroke-linejoin="round"/>
<polyline points="950.4,1437.0 953.2,1437.0 956.0,1437.0 958.8,1437.0 961.6,1437.0 964.3,1437.0 967.1,1437.0 969.9,1437.0 972.7,1437.0 975.5,1437.0 978.3,1437.0 981.1,1437.0 983.9,1437.0 986.7,1437.0 989.5,1437.0 992.3,1437.0 995.1,1437.0 997.9,1437.0 1000.6,1437.0 1003.4,1437.0 1006.2,1437.0 1009.0,1437.0 1011.8,1437.0 1014.6,1437.0 1017.4,1437.0 1020.2,1437.0 1023.0,1437.0 1025.8,1437.0 1028.6,1437.0 1031.4,1437.0 1034.2,1437.0 1037.0,1437.0 1039.7,1437.0 1042.5,1437.0 1045.3,1437.0 1048.1,1437.0 1050.9,1437.0 1053.7,1437.0 1056.5,1437.0 1059.3,1437.0 1062.1,1437.0 1064.9,1437.0 1067.7,1437.0 1070.5,1437.0 1073.3,1437.0 1076.0,1436.9 1078.8,1436.5 1081.6,1435.5 1084.4,1433.3 1087.2,1429.2 1090.0,1422.6 1092.8,1413.3 1095.6,1401.4 1098.4,1387.4 1101.2,1372.1 1104.0,1356.1 1106.8,1340.2 1109.6,1325.0 1112.3,1310.8 1115.1,1297.9 1117.9,1286.4 1120.7,1276.4 1123.5,1267.7 1126.3,1260.2 1129.1,1253.9 1131.9,1248.6 1134.7,1244.2 1137.5,1240.5 1140.3,1237.4 1143.1,1234.9 1145.9,1232.8 1148.7,1231.0 1151.4,1229.6 1154.2,1228.5 1157.0,1227.5 1159.8,1226.7 1162.6,1226.1 1165.4,1225.6 1168.2,1225.2 1171.0,1224.8 1173.8,1224.5 1176.6,1224.3 1179.4,1224.1 1182.2,1223.9 1185.0,1223.8 1187.7,1223.7 1190.5,1223.6 1193.3,1223.6 1196.1,1223.5" fill="none" stroke="#34c43a" stroke-width="1.15" stroke-linejoin="round"/>
<line x1="951.00" y1="1425.90" x2="1196.50" y2="1425.90" stroke="#c6e33a" stroke-width="1.7"/>
<text transform="translate(951.20,1424.00) scale(0.5890,1)" font-size="10.64" fill="#c4101a" stroke="#c4101a" stroke-width="0.35"><tspan font-family="Liberation Serif, serif" font-weight="bold">0.038263</tspan></text>
<text transform="translate(986.90,1239.00) scale(0.9997,1)" font-size="22.00" fill="#000"><tspan font-style="italic">Het</tspan> gDNA</text>
<text transform="translate(986.50,1265.20) scale(1.0067,1)" font-size="22.00" fill="#000">(1.25-40ng)</text>
<rect x="1210.70" y="1207.40" width="263.80" height="264.10" fill="#fff" stroke="#3a3a3a" stroke-width="1.8"/>
<rect x="1226.40" y="1214.40" width="244.40" height="234.00" fill="#fff" stroke="#d0d0d0" stroke-width="1"/>
<path d="M1231.35,1214.40V1448.40M1242.50,1214.40V1448.40M1253.66,1214.40V1448.40M1264.81,1214.40V1448.40M1275.96,1214.40V1448.40M1287.11,1214.40V1448.40M1298.26,1214.40V1448.40M1309.42,1214.40V1448.40M1320.57,1214.40V1448.40M1331.72,1214.40V1448.40M1342.87,1214.40V1448.40M1354.02,1214.40V1448.40M1365.18,1214.40V1448.40M1376.33,1214.40V1448.40M1387.48,1214.40V1448.40M1398.63,1214.40V1448.40M1409.78,1214.40V1448.40M1420.94,1214.40V1448.40M1432.09,1214.40V1448.40M1443.24,1214.40V1448.40M1454.39,1214.40V1448.40M1465.54,1214.40V1448.40" stroke="#e2e2e2" stroke-width="0.8" stroke-dasharray="1.5,1.5" fill="none"/>
<path d="M1226.40,1437.30H1470.80M1226.40,1405.85H1470.80M1226.40,1374.40H1470.80M1226.40,1342.95H1470.80M1226.40,1311.50H1470.80M1226.40,1280.05H1470.80M1226.40,1248.60H1470.80M1226.40,1217.15H1470.80" stroke="#dcdcdc" stroke-width="1" fill="none"/>
<path d="M1226.40,1214.40V1448.40H1470.80" stroke="#8a8a8a" stroke-width="1" fill="none"/>
<path d="M1224.90,1437.30H1226.40M1224.90,1405.85H1226.40M1224.90,1374.40H1226.40M1224.90,1342.95H1226.40M1224.90,1311.50H1226.40M1224.90,1280.05H1226.40M1224.90,1248.60H1226.40M1224.90,1217.15H1226.40M1231.35,1448.40V1450.20M1242.50,1448.40V1450.20M1253.66,1448.40V1450.20M1264.81,1448.40V1450.20M1275.96,1448.40V1450.20M1287.11,1448.40V1450.20M1298.26,1448.40V1450.20M1309.42,1448.40V1450.20M1320.57,1448.40V1450.20M1331.72,1448.40V1450.20M1342.87,1448.40V1450.20M1354.02,1448.40V1450.20M1365.18,1448.40V1450.20M1376.33,1448.40V1450.20M1387.48,1448.40V1450.20M1398.63,1448.40V1450.20M1409.78,1448.40V1450.20M1420.94,1448.40V1450.20M1432.09,1448.40V1450.20M1443.24,1448.40V1450.20M1454.39,1448.40V1450.20M1465.54,1448.40V1450.20" stroke="#666" stroke-width="0.8" fill="none"/>
<g font-size="7.2" font-weight="bold" fill="#333" opacity="0.85"><text transform="translate(1224.80,1439.89) scale(0.72,1)" text-anchor="end">0.00</text><text transform="translate(1224.80,1408.44) scale(0.72,1)" text-anchor="end">0.25</text><text transform="translate(1224.80,1376.99) scale(0.72,1)" text-anchor="end">0.50</text><text transform="translate(1224.80,1345.54) scale(0.72,1)" text-anchor="end">0.75</text><text transform="translate(1224.80,1314.09) scale(0.72,1)" text-anchor="end">1.00</text><text transform="translate(1224.80,1282.64) scale(0.72,1)" text-anchor="end">1.25</text><text transform="translate(1224.80,1251.19) scale(0.72,1)" text-anchor="end">1.50</text><text transform="translate(1224.80,1219.74) scale(0.72,1)" text-anchor="end">1.75</text><text transform="translate(1231.35,1460.20) scale(0.42,1)" text-anchor="middle">2</text><text transform="translate(1242.50,1460.20) scale(0.42,1)" text-anchor="middle">4</text><text transform="translate(1253.66,1460.20) scale(0.42,1)" text-anchor="middle">6</text><text transform="translate(1264.81,1460.20) scale(0.42,1)" text-anchor="middle">8</text><text transform="translate(1275.96,1460.20) scale(0.42,1)" text-anchor="middle">10</text><text transform="translate(1287.11,1460.20) scale(0.42,1)" text-anchor="middle">12</text><text transform="translate(1298.26,1460.20) scale(0.42,1)" text-anchor="middle">14</text><text transform="translate(1309.42,1460.20) scale(0.42,1)" text-anchor="middle">16</text><text transform="translate(1320.57,1460.20) scale(0.42,1)" text-anchor="middle">18</text><text transform="translate(1331.72,1460.20) scale(0.42,1)" text-anchor="middle">20</text><text transform="translate(1342.87,1460.20) scale(0.42,1)" text-anchor="middle">22</text><text transform="translate(1354.02,1460.20) scale(0.42,1)" text-anchor="middle">24</text><text transform="translate(1365.18,1460.20) scale(0.42,1)" text-anchor="middle">26</text><text transform="translate(1376.33,1460.20) scale(0.42,1)" text-anchor="middle">28</text><text transform="translate(1387.48,1460.20) scale(0.42,1)" text-anchor="middle">30</text><text transform="translate(1398.63,1460.20) scale(0.42,1)" text-anchor="middle">32</text><text transform="translate(1409.78,1460.20) scale(0.42,1)" text-anchor="middle">34</text><text transform="translate(1420.94,1460.20) scale(0.42,1)" text-anchor="middle">36</text><text transform="translate(1432.09,1460.20) scale(0.42,1)" text-anchor="middle">38</text><text transform="translate(1443.24,1460.20) scale(0.42,1)" text-anchor="middle">40</text><text transform="translate(1454.39,1460.20) scale(0.42,1)" text-anchor="middle">42</text><text transform="translate(1465.54,1460.20) scale(0.42,1)" text-anchor="middle">44</text></g>
<polyline points="1225.8,1437.3 1228.6,1437.3 1231.4,1437.3 1234.1,1437.3 1236.9,1437.3 1239.7,1437.3 1242.5,1437.3 1245.3,1437.3 1248.1,1437.3 1250.9,1437.3 1253.7,1437.3 1256.4,1437.3 1259.2,1437.3 1262.0,1437.3 1264.8,1437.3 1267.6,1437.3 1270.4,1437.3 1273.2,1437.3 1276.0,1437.3 1278.7,1437.3 1281.5,1437.3 1284.3,1437.3 1287.1,1437.3 1289.9,1437.3 1292.7,1437.3 1295.5,1437.3 1298.3,1437.3 1301.1,1437.3 1303.8,1437.3 1306.6,1437.3 1309.4,1437.3 1312.2,1437.3 1315.0,1437.3 1317.8,1437.3 1320.6,1437.3 1323.4,1437.3 1326.1,1437.3 1328.9,1437.3 1331.7,1437.3 1334.5,1437.3 1337.3,1437.3 1340.1,1437.3 1342.9,1437.3 1345.7,1437.3 1348.4,1437.3 1351.2,1437.3 1354.0,1437.3 1356.8,1437.3 1359.6,1437.3 1362.4,1437.2 1365.2,1437.1 1368.0,1436.9 1370.8,1436.5 1373.5,1435.7 1376.3,1434.5 1379.1,1432.7 1381.9,1430.2 1384.7,1426.8 1387.5,1422.5 1390.3,1417.3 1393.1,1411.3 1395.8,1404.4 1398.6,1396.8 1401.4,1388.7 1404.2,1380.2 1407.0,1371.5 1409.8,1362.7 1412.6,1354.0 1415.4,1345.5 1418.1,1337.2 1420.9,1329.3 1423.7,1321.8 1426.5,1314.7 1429.3,1308.2 1432.1,1302.1 1434.9,1296.5 1437.7,1291.3 1440.5,1286.6 1443.2,1282.3 1446.0,1278.5 1448.8,1275.0 1451.6,1271.8 1454.4,1269.0 1457.2,1266.4 1460.0,1264.2 1462.8,1262.1 1465.5,1260.3 1468.3,1258.7 1471.1,1257.3" fill="none" stroke="#eab040" stroke-width="1.15" stroke-linejoin="round"/>
<polyline points="1225.8,1437.3 1228.6,1437.3 1231.4,1437.3 1234.1,1437.3 1236.9,1437.3 1239.7,1437.3 1242.5,1437.3 1245.3,1437.3 1248.1,1437.3 1250.9,1437.3 1253.7,1437.3 1256.4,1437.3 1259.2,1437.3 1262.0,1437.3 1264.8,1437.3 1267.6,1437.3 1270.4,1437.3 1273.2,1437.3 1276.0,1437.3 1278.7,1437.3 1281.5,1437.3 1284.3,1437.3 1287.1,1437.3 1289.9,1437.3 1292.7,1437.3 1295.5,1437.3 1298.3,1437.3 1301.1,1437.3 1303.8,1437.3 1306.6,1437.3 1309.4,1437.3 1312.2,1437.3 1315.0,1437.3 1317.8,1437.3 1320.6,1437.3 1323.4,1437.3 1326.1,1437.3 1328.9,1437.3 1331.7,1437.3 1334.5,1437.3 1337.3,1437.3 1340.1,1437.3 1342.9,1437.3 1345.7,1437.3 1348.4,1437.3 1351.2,1437.3 1354.0,1437.3 1356.8,1437.2 1359.6,1437.1 1362.4,1436.9 1365.2,1436.6 1368.0,1435.9 1370.8,1434.9 1373.5,1433.3 1376.3,1431.1 1379.1,1428.1 1381.9,1424.3 1384.7,1419.6 1387.5,1414.1 1390.3,1407.7 1393.1,1400.6 1395.8,1393.0 1398.6,1384.8 1401.4,1376.4 1404.2,1367.7 1407.0,1359.1 1409.8,1350.5 1412.6,1342.1 1415.4,1333.9 1418.1,1326.1 1420.9,1318.7 1423.7,1311.8 1426.5,1305.3 1429.3,1299.2 1432.1,1293.6 1434.9,1288.4 1437.7,1283.7 1440.5,1279.4 1443.2,1275.4 1446.0,1271.9 1448.8,1268.6 1451.6,1265.7 1454.4,1263.1 1457.2,1260.7 1460.0,1258.6 1462.8,1256.7 1465.5,1255.0 1468.3,1253.4 1471.1,1252.1" fill="none" stroke="#b43a22" stroke-width="1.15" stroke-linejoin="round"/>
<polyline points="1225.8,1437.3 1228.6,1437.3 1231.4,1437.3 1234.1,1437.3 1236.9,1437.3 1239.7,1437.3 1242.5,1437.3 1245.3,1437.3 1248.1,1437.3 1250.9,1437.3 1253.7,1437.3 1256.4,1437.3 1259.2,1437.3 1262.0,1437.3 1264.8,1437.3 1267.6,1437.3 1270.4,1437.3 1273.2,1437.3 1276.0,1437.3 1278.7,1437.3 1281.5,1437.3 1284.3,1437.3 1287.1,1437.3 1289.9,1437.3 1292.7,1437.3 1295.5,1437.3 1298.3,1437.3 1301.1,1437.3 1303.8,1437.3 1306.6,1437.3 1309.4,1437.3 1312.2,1437.3 1315.0,1437.3 1317.8,1437.3 1320.6,1437.3 1323.4,1437.3 1326.1,1437.3 1328.9,1437.3 1331.7,1437.3 1334.5,1437.3 1337.3,1437.3 1340.1,1437.3 1342.9,1437.3 1345.7,1437.3 1348.4,1437.3 1351.2,1437.2 1354.0,1437.2 1356.8,1437.0 1359.6,1436.7 1362.4,1436.1 1365.2,1435.2 1368.0,1433.8 1370.8,1431.9 1373.5,1429.2 1376.3,1425.8 1379.1,1421.6 1381.9,1416.6 1384.7,1410.7 1387.5,1404.1 1390.3,1396.9 1393.1,1389.1 1395.8,1381.0 1398.6,1372.5 1401.4,1364.0 1404.2,1355.4 1407.0,1347.0 1409.8,1338.7 1412.6,1330.7 1415.4,1323.0 1418.1,1315.7 1420.9,1308.8 1423.7,1302.3 1426.5,1296.3 1429.3,1290.7 1432.1,1285.5 1434.9,1280.8 1437.7,1276.4 1440.5,1272.4 1443.2,1268.8 1446.0,1265.5 1448.8,1262.5 1451.6,1259.7 1454.4,1257.3 1457.2,1255.1 1460.0,1253.1 1462.8,1251.3 1465.5,1249.7 1468.3,1248.2 1471.1,1246.9" fill="none" stroke="#e6dc66" stroke-width="1.15" stroke-linejoin="round"/>
<polyline points="1225.8,1437.3 1228.6,1437.3 1231.4,1437.3 1234.1,1437.3 1236.9,1437.3 1239.7,1437.3 1242.5,1437.3 1245.3,1437.3 1248.1,1437.3 1250.9,1437.3 1253.7,1437.3 1256.4,1437.3 1259.2,1437.3 1262.0,1437.3 1264.8,1437.3 1267.6,1437.3 1270.4,1437.3 1273.2,1437.3 1276.0,1437.3 1278.7,1437.3 1281.5,1437.3 1284.3,1437.3 1287.1,1437.3 1289.9,1437.3 1292.7,1437.3 1295.5,1437.3 1298.3,1437.3 1301.1,1437.3 1303.8,1437.3 1306.6,1437.3 1309.4,1437.3 1312.2,1437.3 1315.0,1437.3 1317.8,1437.3 1320.6,1437.3 1323.4,1437.3 1326.1,1437.3 1328.9,1437.3 1331.7,1437.3 1334.5,1437.3 1337.3,1437.3 1340.1,1437.3 1342.9,1437.3 1345.7,1437.2 1348.4,1437.2 1351.2,1437.0 1354.0,1436.7 1356.8,1436.2 1359.6,1435.5 1362.4,1434.3 1365.2,1432.5 1368.0,1430.2 1370.8,1427.2 1373.5,1423.4 1376.3,1418.8 1379.1,1413.4 1381.9,1407.3 1384.7,1400.5 1387.5,1393.1 1390.3,1385.3 1393.1,1377.1 1395.8,1368.8 1398.6,1360.3 1401.4,1351.8 1404.2,1343.5 1407.0,1335.3 1409.8,1327.4 1412.6,1319.9 1415.4,1312.6 1418.1,1305.8 1420.9,1299.4 1423.7,1293.4 1426.5,1287.8 1429.3,1282.6 1432.1,1277.8 1434.9,1273.4 1437.7,1269.4 1440.5,1265.7 1443.2,1262.3 1446.0,1259.2 1448.8,1256.4 1451.6,1253.9 1454.4,1251.6 1457.2,1249.5 1460.0,1247.6 1462.8,1245.9 1465.5,1244.4 1468.3,1243.0 1471.1,1241.8" fill="none" stroke="#e89430" stroke-width="1.15" stroke-linejoin="round"/>
<polyline points="1225.8,1437.3 1228.6,1437.3 1231.4,1437.3 1234.1,1437.3 1236.9,1437.3 1239.7,1437.3 1242.5,1437.3 1245.3,1437.3 1248.1,1437.3 1250.9,1437.3 1253.7,1437.3 1256.4,1437.3 1259.2,1437.3 1262.0,1437.3 1264.8,1437.3 1267.6,1437.3 1270.4,1437.3 1273.2,1437.3 1276.0,1437.3 1278.7,1437.3 1281.5,1437.3 1284.3,1437.3 1287.1,1437.3 1289.9,1437.3 1292.7,1437.3 1295.5,1437.3 1298.3,1437.3 1301.1,1437.3 1303.8,1437.3 1306.6,1437.3 1309.4,1437.3 1312.2,1437.3 1315.0,1437.3 1317.8,1437.3 1320.6,1437.3 1323.4,1437.3 1326.1,1437.3 1328.9,1437.3 1331.7,1437.3 1334.5,1437.3 1337.3,1437.3 1340.1,1437.3 1342.9,1437.2 1345.7,1437.0 1348.4,1436.8 1351.2,1436.4 1354.0,1435.7 1356.8,1434.6 1359.6,1433.1 1362.4,1431.0 1365.2,1428.3 1368.0,1424.9 1370.8,1420.7 1373.5,1415.8 1376.3,1410.1 1379.1,1403.8 1381.9,1396.8 1384.7,1389.4 1387.5,1381.5 1390.3,1373.3 1393.1,1365.0 1395.8,1356.6 1398.6,1348.3 1401.4,1340.0 1404.2,1332.0 1407.0,1324.2 1409.8,1316.7 1412.6,1309.6 1415.4,1302.8 1418.1,1296.5 1420.9,1290.5 1423.7,1284.9 1426.5,1279.7 1429.3,1274.9 1432.1,1270.5 1434.9,1266.4 1437.7,1262.6 1440.5,1259.2 1443.2,1256.0 1446.0,1253.2 1448.8,1250.5 1451.6,1248.2 1454.4,1246.0 1457.2,1244.0 1460.0,1242.3 1462.8,1240.6 1465.5,1239.2 1468.3,1237.9 1471.1,1236.7" fill="none" stroke="#cc4a2a" stroke-width="1.15" stroke-linejoin="round"/>
<polyline points="1225.8,1437.3 1228.6,1437.3 1231.4,1437.3 1234.1,1437.3 1236.9,1437.3 1239.7,1437.3 1242.5,1437.3 1245.3,1437.3 1248.1,1437.3 1250.9,1437.3 1253.7,1437.3 1256.4,1437.3 1259.2,1437.3 1262.0,1437.3 1264.8,1437.3 1267.6,1437.3 1270.4,1437.3 1273.2,1437.3 1276.0,1437.3 1278.7,1437.3 1281.5,1437.3 1284.3,1437.3 1287.1,1437.3 1289.9,1437.3 1292.7,1437.3 1295.5,1437.3 1298.3,1437.3 1301.1,1437.3 1303.8,1437.3 1306.6,1437.3 1309.4,1437.3 1312.2,1437.3 1315.0,1437.3 1317.8,1437.3 1320.6,1437.3 1323.4,1437.3 1326.1,1437.3 1328.9,1437.3 1331.7,1437.3 1334.5,1437.3 1337.3,1437.2 1340.1,1437.1 1342.9,1436.9 1345.7,1436.5 1348.4,1435.9 1351.2,1434.9 1354.0,1433.6 1356.8,1431.8 1359.6,1429.3 1362.4,1426.3 1365.2,1422.5 1368.0,1417.9 1370.8,1412.7 1373.5,1406.8 1376.3,1400.2 1379.1,1393.1 1381.9,1385.6 1384.7,1377.7 1387.5,1369.6 1390.3,1361.3 1393.1,1353.0 1395.8,1344.7 1398.6,1336.6 1401.4,1328.7 1404.2,1321.0 1407.0,1313.6 1409.8,1306.5 1412.6,1299.8 1415.4,1293.5 1418.1,1287.6 1420.9,1282.0 1423.7,1276.8 1426.5,1272.0 1429.3,1267.5 1432.1,1263.4 1434.9,1259.6 1437.7,1256.1 1440.5,1252.8 1443.2,1249.9 1446.0,1247.2 1448.8,1244.7 1451.6,1242.5 1454.4,1240.5 1457.2,1238.6 1460.0,1236.9 1462.8,1235.4 1465.5,1234.0 1468.3,1232.7 1471.1,1231.6" fill="none" stroke="#ecd040" stroke-width="1.15" stroke-linejoin="round"/>
<polyline points="1225.8,1437.3 1228.6,1437.3 1231.4,1437.3 1234.1,1437.3 1236.9,1437.3 1239.7,1437.3 1242.5,1437.3 1245.3,1437.3 1248.1,1437.3 1250.9,1437.3 1253.7,1437.3 1256.4,1437.3 1259.2,1437.3 1262.0,1437.3 1264.8,1437.3 1267.6,1437.3 1270.4,1437.3 1273.2,1437.3 1276.0,1437.3 1278.7,1437.3 1281.5,1437.3 1284.3,1437.3 1287.1,1437.3 1289.9,1437.3 1292.7,1437.3 1295.5,1437.3 1298.3,1437.3 1301.1,1437.3 1303.8,1437.3 1306.6,1437.3 1309.4,1437.3 1312.2,1437.3 1315.0,1437.3 1317.8,1437.3 1320.6,1437.3 1323.4,1437.3 1326.1,1437.3 1328.9,1437.3 1331.7,1437.2 1334.5,1437.1 1337.3,1436.9 1340.1,1436.6 1342.9,1436.0 1345.7,1435.2 1348.4,1434.0 1351.2,1432.4 1354.0,1430.2 1356.8,1427.4 1359.6,1424.0 1362.4,1419.8 1365.2,1415.0 1368.0,1409.5 1370.8,1403.4 1373.5,1396.7 1376.3,1389.5 1379.1,1381.9 1381.9,1374.0 1384.7,1365.9 1387.5,1357.6 1390.3,1349.4 1393.1,1341.2 1395.8,1333.2 1398.6,1325.4 1401.4,1317.8 1404.2,1310.5 1407.0,1303.5 1409.8,1296.8 1412.6,1290.6 1415.4,1284.6 1418.1,1279.1 1420.9,1273.9 1423.7,1269.0 1426.5,1264.5 1429.3,1260.4 1432.1,1256.5 1434.9,1252.9 1437.7,1249.7 1440.5,1246.7 1443.2,1243.9 1446.0,1241.4 1448.8,1239.0 1451.6,1236.9 1454.4,1235.0 1457.2,1233.2 1460.0,1231.6 1462.8,1230.2 1465.5,1228.8 1468.3,1227.6 1471.1,1226.5" fill="none" stroke="#e0701c" stroke-width="1.15" stroke-linejoin="round"/>
<polyline points="1225.8,1437.3 1228.6,1437.3 1231.4,1437.3 1234.1,1437.3 1236.9,1437.3 1239.7,1437.3 1242.5,1437.3 1245.3,1437.3 1248.1,1437.3 1250.9,1437.3 1253.7,1437.3 1256.4,1437.3 1259.2,1437.3 1262.0,1437.3 1264.8,1437.3 1267.6,1437.3 1270.4,1437.3 1273.2,1437.3 1276.0,1437.3 1278.7,1437.3 1281.5,1437.3 1284.3,1437.3 1287.1,1437.3 1289.9,1437.3 1292.7,1437.3 1295.5,1437.3 1298.3,1437.3 1301.1,1437.3 1303.8,1437.3 1306.6,1437.3 1309.4,1437.3 1312.2,1437.3 1315.0,1437.3 1317.8,1437.3 1320.6,1437.3 1323.4,1437.3 1326.1,1437.2 1328.9,1437.1 1331.7,1436.9 1334.5,1436.6 1337.3,1436.2 1340.1,1435.4 1342.9,1434.4 1345.7,1432.9 1348.4,1431.0 1351.2,1428.5 1354.0,1425.3 1356.8,1421.5 1359.6,1417.1 1362.4,1412.0 1365.2,1406.2 1368.0,1399.9 1370.8,1393.1 1373.5,1385.8 1376.3,1378.1 1379.1,1370.2 1381.9,1362.2 1384.7,1354.0 1387.5,1345.8 1390.3,1337.8 1393.1,1329.8 1395.8,1322.1 1398.6,1314.6 1401.4,1307.3 1404.2,1300.4 1407.0,1293.8 1409.8,1287.6 1412.6,1281.7 1415.4,1276.1 1418.1,1270.9 1420.9,1266.1 1423.7,1261.6 1426.5,1257.3 1429.3,1253.4 1432.1,1249.8 1434.9,1246.5 1437.7,1243.4 1440.5,1240.6 1443.2,1238.0 1446.0,1235.6 1448.8,1233.4 1451.6,1231.4 1454.4,1229.6 1457.2,1227.9 1460.0,1226.4 1462.8,1224.9 1465.5,1223.7 1468.3,1222.5 1471.1,1221.4" fill="none" stroke="#c0301e" stroke-width="1.15" stroke-linejoin="round"/>
<line x1="1226.40" y1="1434.60" x2="1470.80" y2="1434.60" stroke="#e47be0" stroke-width="1.7"/>
<text transform="translate(1226.60,1432.50) scale(0.5865,1)" font-size="10.64" fill="#c4101a" stroke="#c4101a" stroke-width="0.35"><tspan font-family="Liberation Serif, serif" font-weight="bold">0.022859</tspan></text>
<text transform="translate(1256.30,1239.00) scale(1.0038,1)" font-size="22.00" fill="#000"><tspan font-style="italic">Het</tspan> gDNA</text>
<text transform="translate(1256.00,1265.20) scale(1.0067,1)" font-size="22.00" fill="#000">(1.25-40ng)</text>
<rect x="1485.70" y="1207.40" width="263.60" height="264.10" fill="#fff" stroke="#3a3a3a" stroke-width="1.8"/>
<rect x="1503.20" y="1216.20" width="242.60" height="235.90" fill="#fff" stroke="#d0d0d0" stroke-width="1"/>
<path d="M1508.82,1216.20V1452.10M1519.84,1216.20V1452.10M1530.86,1216.20V1452.10M1541.88,1216.20V1452.10M1552.90,1216.20V1452.10M1563.92,1216.20V1452.10M1574.94,1216.20V1452.10M1585.96,1216.20V1452.10M1596.98,1216.20V1452.10M1608.00,1216.20V1452.10M1619.02,1216.20V1452.10M1630.04,1216.20V1452.10M1641.06,1216.20V1452.10M1652.08,1216.20V1452.10M1663.10,1216.20V1452.10M1674.12,1216.20V1452.10M1685.14,1216.20V1452.10M1696.16,1216.20V1452.10M1707.18,1216.20V1452.10M1718.20,1216.20V1452.10M1729.22,1216.20V1452.10M1740.24,1216.20V1452.10" stroke="#e2e2e2" stroke-width="0.8" stroke-dasharray="1.5,1.5" fill="none"/>
<path d="M1503.20,1441.20H1745.80M1503.20,1409.48H1745.80M1503.20,1377.75H1745.80M1503.20,1346.03H1745.80M1503.20,1314.30H1745.80M1503.20,1282.58H1745.80M1503.20,1250.85H1745.80M1503.20,1219.12H1745.80" stroke="#dcdcdc" stroke-width="1" fill="none"/>
<path d="M1503.20,1216.20V1452.10H1745.80" stroke="#8a8a8a" stroke-width="1" fill="none"/>
<path d="M1501.70,1441.20H1503.20M1501.70,1409.48H1503.20M1501.70,1377.75H1503.20M1501.70,1346.03H1503.20M1501.70,1314.30H1503.20M1501.70,1282.58H1503.20M1501.70,1250.85H1503.20M1501.70,1219.12H1503.20M1508.82,1452.10V1453.90M1519.84,1452.10V1453.90M1530.86,1452.10V1453.90M1541.88,1452.10V1453.90M1552.90,1452.10V1453.90M1563.92,1452.10V1453.90M1574.94,1452.10V1453.90M1585.96,1452.10V1453.90M1596.98,1452.10V1453.90M1608.00,1452.10V1453.90M1619.02,1452.10V1453.90M1630.04,1452.10V1453.90M1641.06,1452.10V1453.90M1652.08,1452.10V1453.90M1663.10,1452.10V1453.90M1674.12,1452.10V1453.90M1685.14,1452.10V1453.90M1696.16,1452.10V1453.90M1707.18,1452.10V1453.90M1718.20,1452.10V1453.90M1729.22,1452.10V1453.90M1740.24,1452.10V1453.90" stroke="#666" stroke-width="0.8" fill="none"/>
<g font-size="7.2" font-weight="bold" fill="#333" opacity="0.85"><text transform="translate(1501.60,1443.79) scale(0.72,1)" text-anchor="end">0.00</text><text transform="translate(1501.60,1412.07) scale(0.72,1)" text-anchor="end">0.25</text><text transform="translate(1501.60,1380.34) scale(0.72,1)" text-anchor="end">0.50</text><text transform="translate(1501.60,1348.62) scale(0.72,1)" text-anchor="end">0.75</text><text transform="translate(1501.60,1316.89) scale(0.72,1)" text-anchor="end">1.00</text><text transform="translate(1501.60,1285.17) scale(0.72,1)" text-anchor="end">1.25</text><text transform="translate(1501.60,1253.44) scale(0.72,1)" text-anchor="end">1.50</text><text transform="translate(1501.60,1221.72) scale(0.72,1)" text-anchor="end">1.75</text><text transform="translate(1508.82,1463.90) scale(0.42,1)" text-anchor="middle">2</text><text transform="translate(1519.84,1463.90) scale(0.42,1)" text-anchor="middle">4</text><text transform="translate(1530.86,1463.90) scale(0.42,1)" text-anchor="middle">6</text><text transform="translate(1541.88,1463.90) scale(0.42,1)" text-anchor="middle">8</text><text transform="translate(1552.90,1463.90) scale(0.42,1)" text-anchor="middle">10</text><text transform="translate(1563.92,1463.90) scale(0.42,1)" text-anchor="middle">12</text><text transform="translate(1574.94,1463.90) scale(0.42,1)" text-anchor="middle">14</text><text transform="translate(1585.96,1463.90) scale(0.42,1)" text-anchor="middle">16</text><text transform="translate(1596.98,1463.90) scale(0.42,1)" text-anchor="middle">18</text><text transform="translate(1608.00,1463.90) scale(0.42,1)" text-anchor="middle">20</text><text transform="translate(1619.02,1463.90) scale(0.42,1)" text-anchor="middle">22</text><text transform="translate(1630.04,1463.90) scale(0.42,1)" text-anchor="middle">24</text><text transform="translate(1641.06,1463.90) scale(0.42,1)" text-anchor="middle">26</text><text transform="translate(1652.08,1463.90) scale(0.42,1)" text-anchor="middle">28</text><text transform="translate(1663.10,1463.90) scale(0.42,1)" text-anchor="middle">30</text><text transform="translate(1674.12,1463.90) scale(0.42,1)" text-anchor="middle">32</text><text transform="translate(1685.14,1463.90) scale(0.42,1)" text-anchor="middle">34</text><text transform="translate(1696.16,1463.90) scale(0.42,1)" text-anchor="middle">36</text><text transform="translate(1707.18,1463.90) scale(0.42,1)" text-anchor="middle">38</text><text transform="translate(1718.20,1463.90) scale(0.42,1)" text-anchor="middle">40</text><text transform="translate(1729.22,1463.90) scale(0.42,1)" text-anchor="middle">42</text><text transform="translate(1740.24,1463.90) scale(0.42,1)" text-anchor="middle">44</text></g>
<polyline points="1503.3,1441.2 1506.1,1441.2 1508.8,1441.2 1511.6,1441.2 1514.3,1441.2 1517.1,1441.2 1519.8,1441.2 1522.6,1441.2 1525.3,1441.2 1528.1,1441.2 1530.9,1441.2 1533.6,1441.2 1536.4,1441.2 1539.1,1441.2 1541.9,1441.2 1544.6,1441.2 1547.4,1441.2 1550.1,1441.2 1552.9,1441.2 1555.7,1441.2 1558.4,1441.2 1561.2,1441.2 1563.9,1441.2 1566.7,1441.2 1569.4,1441.2 1572.2,1441.2 1574.9,1441.2 1577.7,1441.2 1580.5,1441.2 1583.2,1441.2 1586.0,1441.2 1588.7,1441.2 1591.5,1441.2 1594.2,1441.2 1597.0,1441.2 1599.7,1441.2 1602.5,1441.2 1605.2,1441.2 1608.0,1441.2 1610.8,1441.2 1613.5,1441.2 1616.3,1441.2 1619.0,1441.2 1621.8,1441.2 1624.5,1441.1 1627.3,1441.0 1630.0,1440.9 1632.8,1440.5 1635.5,1440.0 1638.3,1439.1 1641.1,1437.8 1643.8,1436.0 1646.6,1433.6 1649.3,1430.4 1652.1,1426.6 1654.8,1421.9 1657.6,1416.5 1660.3,1410.3 1663.1,1403.6 1665.9,1396.3 1668.6,1388.6 1671.4,1380.5 1674.1,1372.3 1676.9,1364.0 1679.6,1355.8 1682.4,1347.6 1685.1,1339.7 1687.9,1332.0 1690.6,1324.6 1693.4,1317.6 1696.2,1311.0 1698.9,1304.8 1701.7,1299.0 1704.4,1293.5 1707.2,1288.5 1709.9,1283.9 1712.7,1279.6 1715.4,1275.7 1718.2,1272.1 1721.0,1268.8 1723.7,1265.8 1726.5,1263.1 1729.2,1260.6 1732.0,1258.4 1734.7,1256.3 1737.5,1254.5 1740.2,1252.9 1743.0,1251.4 1745.8,1250.0" fill="none" stroke="#6ad060" stroke-width="1.15" stroke-linejoin="round"/>
<polyline points="1503.3,1441.2 1506.1,1441.2 1508.8,1441.2 1511.6,1441.2 1514.3,1441.2 1517.1,1441.2 1519.8,1441.2 1522.6,1441.2 1525.3,1441.2 1528.1,1441.2 1530.9,1441.2 1533.6,1441.2 1536.4,1441.2 1539.1,1441.2 1541.9,1441.2 1544.6,1441.2 1547.4,1441.2 1550.1,1441.2 1552.9,1441.2 1555.7,1441.2 1558.4,1441.2 1561.2,1441.2 1563.9,1441.2 1566.7,1441.2 1569.4,1441.2 1572.2,1441.2 1574.9,1441.2 1577.7,1441.2 1580.5,1441.2 1583.2,1441.2 1586.0,1441.2 1588.7,1441.2 1591.5,1441.2 1594.2,1441.2 1597.0,1441.2 1599.7,1441.2 1602.5,1441.2 1605.2,1441.2 1608.0,1441.2 1610.8,1441.2 1613.5,1441.2 1616.3,1441.2 1619.0,1441.2 1621.8,1441.1 1624.5,1441.0 1627.3,1440.8 1630.0,1440.4 1632.8,1439.8 1635.5,1438.9 1638.3,1437.5 1641.1,1435.6 1643.8,1433.2 1646.6,1430.0 1649.3,1426.1 1652.1,1421.5 1654.8,1416.1 1657.6,1410.1 1660.3,1403.4 1663.1,1396.3 1665.9,1388.7 1668.6,1380.8 1671.4,1372.7 1674.1,1364.6 1676.9,1356.4 1679.6,1348.4 1682.4,1340.5 1685.1,1332.8 1687.9,1325.5 1690.6,1318.5 1693.4,1311.8 1696.2,1305.5 1698.9,1299.6 1701.7,1294.1 1704.4,1288.9 1707.2,1284.2 1709.9,1279.8 1712.7,1275.7 1715.4,1272.0 1718.2,1268.5 1721.0,1265.4 1723.7,1262.6 1726.5,1260.0 1729.2,1257.6 1732.0,1255.4 1734.7,1253.5 1737.5,1251.7 1740.2,1250.1 1743.0,1248.6 1745.8,1247.3" fill="none" stroke="#2cb040" stroke-width="1.15" stroke-linejoin="round"/>
<polyline points="1503.3,1441.2 1506.1,1441.2 1508.8,1441.2 1511.6,1441.2 1514.3,1441.2 1517.1,1441.2 1519.8,1441.2 1522.6,1441.2 1525.3,1441.2 1528.1,1441.2 1530.9,1441.2 1533.6,1441.2 1536.4,1441.2 1539.1,1441.2 1541.9,1441.2 1544.6,1441.2 1547.4,1441.2 1550.1,1441.2 1552.9,1441.2 1555.7,1441.2 1558.4,1441.2 1561.2,1441.2 1563.9,1441.2 1566.7,1441.2 1569.4,1441.2 1572.2,1441.2 1574.9,1441.2 1577.7,1441.2 1580.5,1441.2 1583.2,1441.2 1586.0,1441.2 1588.7,1441.2 1591.5,1441.2 1594.2,1441.2 1597.0,1441.2 1599.7,1441.2 1602.5,1441.2 1605.2,1441.2 1608.0,1441.2 1610.8,1441.2 1613.5,1441.2 1616.3,1441.1 1619.0,1441.1 1621.8,1440.9 1624.5,1440.7 1627.3,1440.3 1630.0,1439.6 1632.8,1438.6 1635.5,1437.2 1638.3,1435.3 1641.1,1432.7 1643.8,1429.5 1646.6,1425.6 1649.3,1421.0 1652.1,1415.7 1654.8,1409.8 1657.6,1403.3 1660.3,1396.2 1663.1,1388.8 1665.9,1381.1 1668.6,1373.1 1671.4,1365.1 1674.1,1357.0 1676.9,1349.1 1679.6,1341.2 1682.4,1333.6 1685.1,1326.3 1687.9,1319.3 1690.6,1312.6 1693.4,1306.2 1696.2,1300.2 1698.9,1294.6 1701.7,1289.4 1704.4,1284.5 1707.2,1280.0 1709.9,1275.8 1712.7,1271.9 1715.4,1268.4 1718.2,1265.1 1721.0,1262.1 1723.7,1259.4 1726.5,1256.9 1729.2,1254.6 1732.0,1252.5 1734.7,1250.6 1737.5,1248.9 1740.2,1247.4 1743.0,1245.9 1745.8,1244.7" fill="none" stroke="#44bca6" stroke-width="1.15" stroke-linejoin="round"/>
<polyline points="1503.3,1441.2 1506.1,1441.2 1508.8,1441.2 1511.6,1441.2 1514.3,1441.2 1517.1,1441.2 1519.8,1441.2 1522.6,1441.2 1525.3,1441.2 1528.1,1441.2 1530.9,1441.2 1533.6,1441.2 1536.4,1441.2 1539.1,1441.2 1541.9,1441.2 1544.6,1441.2 1547.4,1441.2 1550.1,1441.2 1552.9,1441.2 1555.7,1441.2 1558.4,1441.2 1561.2,1441.2 1563.9,1441.2 1566.7,1441.2 1569.4,1441.2 1572.2,1441.2 1574.9,1441.2 1577.7,1441.2 1580.5,1441.2 1583.2,1441.2 1586.0,1441.2 1588.7,1441.2 1591.5,1441.2 1594.2,1441.2 1597.0,1441.2 1599.7,1441.2 1602.5,1441.2 1605.2,1441.2 1608.0,1441.2 1610.8,1441.2 1613.5,1441.1 1616.3,1441.0 1619.0,1440.9 1621.8,1440.6 1624.5,1440.1 1627.3,1439.4 1630.0,1438.3 1632.8,1436.9 1635.5,1434.9 1638.3,1432.3 1641.1,1429.1 1643.8,1425.2 1646.6,1420.6 1649.3,1415.4 1652.1,1409.5 1654.8,1403.1 1657.6,1396.2 1660.3,1388.9 1663.1,1381.3 1665.9,1373.5 1668.6,1365.5 1671.4,1357.6 1674.1,1349.7 1676.9,1342.0 1679.6,1334.4 1682.4,1327.1 1685.1,1320.0 1687.9,1313.3 1690.6,1306.9 1693.4,1300.9 1696.2,1295.2 1698.9,1289.8 1701.7,1284.8 1704.4,1280.2 1707.2,1275.9 1709.9,1271.9 1712.7,1268.2 1715.4,1264.8 1718.2,1261.7 1721.0,1258.9 1723.7,1256.2 1726.5,1253.8 1729.2,1251.6 1732.0,1249.6 1734.7,1247.8 1737.5,1246.1 1740.2,1244.6 1743.0,1243.2 1745.8,1242.0" fill="none" stroke="#a8da52" stroke-width="1.15" stroke-linejoin="round"/>
<polyline points="1503.3,1441.2 1506.1,1441.2 1508.8,1441.2 1511.6,1441.2 1514.3,1441.2 1517.1,1441.2 1519.8,1441.2 1522.6,1441.2 1525.3,1441.2 1528.1,1441.2 1530.9,1441.2 1533.6,1441.2 1536.4,1441.2 1539.1,1441.2 1541.9,1441.2 1544.6,1441.2 1547.4,1441.2 1550.1,1441.2 1552.9,1441.2 1555.7,1441.2 1558.4,1441.2 1561.2,1441.2 1563.9,1441.2 1566.7,1441.2 1569.4,1441.2 1572.2,1441.2 1574.9,1441.2 1577.7,1441.2 1580.5,1441.2 1583.2,1441.2 1586.0,1441.2 1588.7,1441.2 1591.5,1441.2 1594.2,1441.2 1597.0,1441.2 1599.7,1441.2 1602.5,1441.2 1605.2,1441.2 1608.0,1441.2 1610.8,1441.1 1613.5,1441.0 1616.3,1440.8 1619.0,1440.5 1621.8,1440.0 1624.5,1439.2 1627.3,1438.1 1630.0,1436.5 1632.8,1434.5 1635.5,1431.8 1638.3,1428.6 1641.1,1424.7 1643.8,1420.2 1646.6,1415.0 1649.3,1409.2 1652.1,1402.9 1654.8,1396.1 1657.6,1389.0 1660.3,1381.5 1663.1,1373.8 1665.9,1366.0 1668.6,1358.1 1671.4,1350.3 1674.1,1342.6 1676.9,1335.1 1679.6,1327.8 1682.4,1320.8 1685.1,1314.0 1687.9,1307.6 1690.6,1301.5 1693.4,1295.7 1696.2,1290.3 1698.9,1285.2 1701.7,1280.5 1704.4,1276.1 1707.2,1271.9 1709.9,1268.1 1712.7,1264.6 1715.4,1261.4 1718.2,1258.4 1721.0,1255.6 1723.7,1253.1 1726.5,1250.8 1729.2,1248.7 1732.0,1246.8 1734.7,1245.0 1737.5,1243.4 1740.2,1241.9 1743.0,1240.6 1745.8,1239.3" fill="none" stroke="#52d050" stroke-width="1.15" stroke-linejoin="round"/>
<polyline points="1503.3,1441.2 1506.1,1441.2 1508.8,1441.2 1511.6,1441.2 1514.3,1441.2 1517.1,1441.2 1519.8,1441.2 1522.6,1441.2 1525.3,1441.2 1528.1,1441.2 1530.9,1441.2 1533.6,1441.2 1536.4,1441.2 1539.1,1441.2 1541.9,1441.2 1544.6,1441.2 1547.4,1441.2 1550.1,1441.2 1552.9,1441.2 1555.7,1441.2 1558.4,1441.2 1561.2,1441.2 1563.9,1441.2 1566.7,1441.2 1569.4,1441.2 1572.2,1441.2 1574.9,1441.2 1577.7,1441.2 1580.5,1441.2 1583.2,1441.2 1586.0,1441.2 1588.7,1441.2 1591.5,1441.2 1594.2,1441.2 1597.0,1441.2 1599.7,1441.2 1602.5,1441.2 1605.2,1441.1 1608.0,1441.1 1610.8,1440.9 1613.5,1440.7 1616.3,1440.4 1619.0,1439.8 1621.8,1439.0 1624.5,1437.8 1627.3,1436.2 1630.0,1434.1 1632.8,1431.4 1635.5,1428.2 1638.3,1424.3 1641.1,1419.8 1643.8,1414.7 1646.6,1409.0 1649.3,1402.7 1652.1,1396.1 1654.8,1389.0 1657.6,1381.6 1660.3,1374.1 1663.1,1366.4 1665.9,1358.6 1668.6,1350.9 1671.4,1343.3 1674.1,1335.8 1676.9,1328.5 1679.6,1321.5 1682.4,1314.7 1685.1,1308.3 1687.9,1302.1 1690.6,1296.3 1693.4,1290.8 1696.2,1285.6 1698.9,1280.8 1701.7,1276.2 1704.4,1272.0 1707.2,1268.1 1709.9,1264.5 1712.7,1261.1 1715.4,1258.0 1718.2,1255.1 1721.0,1252.5 1723.7,1250.1 1726.5,1247.8 1729.2,1245.8 1732.0,1243.9 1734.7,1242.2 1737.5,1240.6 1740.2,1239.2 1743.0,1237.9 1745.8,1236.7" fill="none" stroke="#3cc486" stroke-width="1.15" stroke-linejoin="round"/>
<polyline points="1503.3,1441.2 1506.1,1441.2 1508.8,1441.2 1511.6,1441.2 1514.3,1441.2 1517.1,1441.2 1519.8,1441.2 1522.6,1441.2 1525.3,1441.2 1528.1,1441.2 1530.9,1441.2 1533.6,1441.2 1536.4,1441.2 1539.1,1441.2 1541.9,1441.2 1544.6,1441.2 1547.4,1441.2 1550.1,1441.2 1552.9,1441.2 1555.7,1441.2 1558.4,1441.2 1561.2,1441.2 1563.9,1441.2 1566.7,1441.2 1569.4,1441.2 1572.2,1441.2 1574.9,1441.2 1577.7,1441.2 1580.5,1441.2 1583.2,1441.2 1586.0,1441.2 1588.7,1441.2 1591.5,1441.2 1594.2,1441.2 1597.0,1441.2 1599.7,1441.2 1602.5,1441.1 1605.2,1441.0 1608.0,1440.9 1610.8,1440.6 1613.5,1440.2 1616.3,1439.6 1619.0,1438.7 1621.8,1437.5 1624.5,1435.8 1627.3,1433.7 1630.0,1431.0 1632.8,1427.7 1635.5,1423.8 1638.3,1419.4 1641.1,1414.3 1643.8,1408.7 1646.6,1402.5 1649.3,1396.0 1652.1,1389.0 1654.8,1381.8 1657.6,1374.3 1660.3,1366.7 1663.1,1359.1 1665.9,1351.4 1668.6,1343.9 1671.4,1336.5 1674.1,1329.2 1676.9,1322.2 1679.6,1315.4 1682.4,1308.9 1685.1,1302.7 1687.9,1296.8 1690.6,1291.3 1693.4,1286.0 1696.2,1281.1 1698.9,1276.5 1701.7,1272.1 1704.4,1268.1 1707.2,1264.4 1709.9,1260.9 1712.7,1257.6 1715.4,1254.7 1718.2,1251.9 1721.0,1249.4 1723.7,1247.0 1726.5,1244.9 1729.2,1242.9 1732.0,1241.1 1734.7,1239.4 1737.5,1237.9 1740.2,1236.5 1743.0,1235.2 1745.8,1234.0" fill="none" stroke="#8ed444" stroke-width="1.15" stroke-linejoin="round"/>
<polyline points="1503.3,1441.2 1506.1,1441.2 1508.8,1441.2 1511.6,1441.2 1514.3,1441.2 1517.1,1441.2 1519.8,1441.2 1522.6,1441.2 1525.3,1441.2 1528.1,1441.2 1530.9,1441.2 1533.6,1441.2 1536.4,1441.2 1539.1,1441.2 1541.9,1441.2 1544.6,1441.2 1547.4,1441.2 1550.1,1441.2 1552.9,1441.2 1555.7,1441.2 1558.4,1441.2 1561.2,1441.2 1563.9,1441.2 1566.7,1441.2 1569.4,1441.2 1572.2,1441.2 1574.9,1441.2 1577.7,1441.2 1580.5,1441.2 1583.2,1441.2 1586.0,1441.2 1588.7,1441.2 1591.5,1441.2 1594.2,1441.2 1597.0,1441.2 1599.7,1441.1 1602.5,1441.0 1605.2,1440.8 1608.0,1440.5 1610.8,1440.1 1613.5,1439.4 1616.3,1438.5 1619.0,1437.2 1621.8,1435.5 1624.5,1433.3 1627.3,1430.6 1630.0,1427.3 1632.8,1423.4 1635.5,1419.0 1638.3,1413.9 1641.1,1408.4 1643.8,1402.3 1646.6,1395.9 1649.3,1389.0 1652.1,1381.9 1654.8,1374.5 1657.6,1367.1 1660.3,1359.5 1663.1,1351.9 1665.9,1344.5 1668.6,1337.1 1671.4,1329.9 1674.1,1322.9 1676.9,1316.1 1679.6,1309.6 1682.4,1303.3 1685.1,1297.4 1687.9,1291.8 1690.6,1286.4 1693.4,1281.4 1696.2,1276.7 1698.9,1272.3 1701.7,1268.1 1704.4,1264.3 1707.2,1260.7 1709.9,1257.3 1712.7,1254.2 1715.4,1251.4 1718.2,1248.7 1721.0,1246.3 1723.7,1244.0 1726.5,1241.9 1729.2,1240.0 1732.0,1238.2 1734.7,1236.6 1737.5,1235.1 1740.2,1233.8 1743.0,1232.5 1745.8,1231.4" fill="none" stroke="#34c43a" stroke-width="1.15" stroke-linejoin="round"/>
<line x1="1503.20" y1="1438.40" x2="1745.80" y2="1438.40" stroke="#e47be0" stroke-width="1.7"/>
<text transform="translate(1503.40,1436.50) scale(0.5915,1)" font-size="10.64" fill="#c4101a" stroke="#c4101a" stroke-width="0.35"><tspan font-family="Liberation Serif, serif" font-weight="bold">0.022859</tspan></text>
<text transform="translate(1537.40,1239.00) scale(1.0038,1)" font-size="22.00" fill="#000"><tspan font-style="italic">Het</tspan> gDNA</text>
<text transform="translate(1536.90,1265.20) scale(1.0111,1)" font-size="22.00" fill="#000">(1.25-40ng)</text>
</svg>
</body></html>
